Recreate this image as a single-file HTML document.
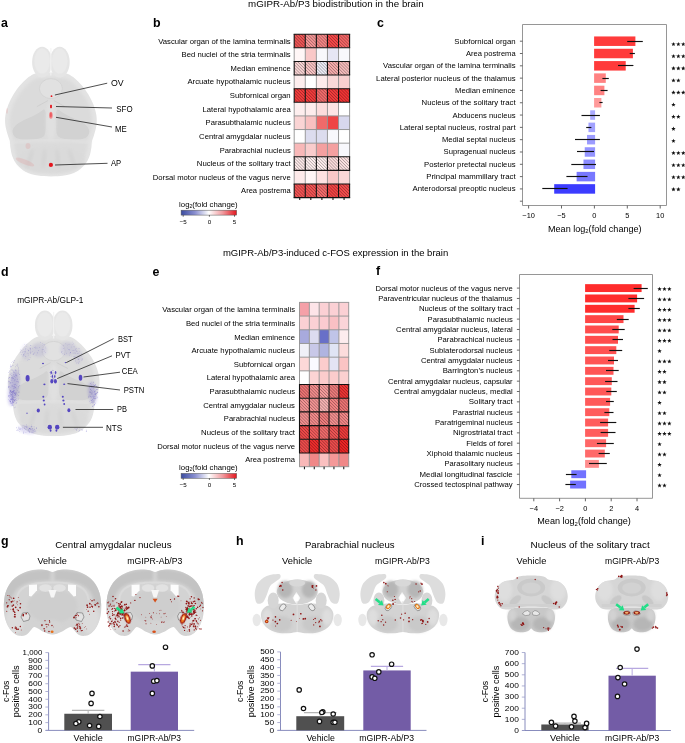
<!DOCTYPE html><html><head><meta charset="utf-8"><style>html,body{margin:0;padding:0;background:#fff;width:685px;height:743px;overflow:hidden}svg{display:block;will-change:transform}text{font-family:"Liberation Sans",sans-serif}</style></head><body><svg width="685" height="743" viewBox="0 0 685 743"><defs>
<pattern id="hatch" patternUnits="userSpaceOnUse" width="2.2" height="2.2" patternTransform="rotate(45)"><rect width="2.2" height="0.7" fill="rgba(0,0,0,0.32)"/></pattern>
<linearGradient id="cbar" x1="0" x2="1" y1="0" y2="0"><stop offset="0" stop-color="#3b4ca0"/><stop offset="0.25" stop-color="#8a8fd0"/><stop offset="0.5" stop-color="#ffffff"/><stop offset="0.75" stop-color="#f19a9e"/><stop offset="1" stop-color="#e3161e"/></linearGradient>
<filter id="blur1" x="-10%" y="-10%" width="120%" height="120%"><feGaussianBlur stdDeviation="0.7"/></filter>
<filter id="blur2" x="-20%" y="-20%" width="140%" height="140%"><feGaussianBlur stdDeviation="1.4"/></filter>
<filter id="blur05"><feGaussianBlur stdDeviation="0.35"/></filter>
</defs>
<text x="248.10" y="7.20" font-size="9.4" textLength="175.50" lengthAdjust="spacingAndGlyphs">mGIPR-Ab/P3 biodistribution in the brain</text>
<text x="222.90" y="255.90" font-size="9.4" textLength="225.40" lengthAdjust="spacingAndGlyphs">mGIPR-Ab/P3-induced c-FOS expression in the brain</text>
<text x="1.10" y="26.80" font-size="12.4" font-weight="bold" fill="#000">a</text>
<text x="153.10" y="26.90" font-size="12.4" font-weight="bold" fill="#000">b</text>
<text x="376.90" y="26.90" font-size="12.4" font-weight="bold" fill="#000">c</text>
<text x="1.10" y="275.50" font-size="12.4" font-weight="bold" fill="#000">d</text>
<text x="152.60" y="275.50" font-size="12.4" font-weight="bold" fill="#000">e</text>
<text x="376.00" y="274.60" font-size="12.4" font-weight="bold" fill="#000">f</text>
<text x="1.10" y="545.30" font-size="12.4" font-weight="bold" fill="#000">g</text>
<text x="236.10" y="545.10" font-size="12.4" font-weight="bold" fill="#000">h</text>
<text x="481.00" y="545.10" font-size="12.4" font-weight="bold" fill="#000">i</text>
<text x="290.70" y="43.60" font-size="8.1" text-anchor="end" textLength="132.50" lengthAdjust="spacingAndGlyphs">Vascular organ of the lamina terminalis</text>
<text x="290.70" y="57.22" font-size="8.1" text-anchor="end" textLength="109.10" lengthAdjust="spacingAndGlyphs">Bed nuclei of the stria terminalis</text>
<text x="290.70" y="70.84" font-size="8.1" text-anchor="end" textLength="60.10" lengthAdjust="spacingAndGlyphs">Median eminence</text>
<text x="290.70" y="84.46" font-size="8.1" text-anchor="end" textLength="103.30" lengthAdjust="spacingAndGlyphs">Arcuate hypothalamic nucleus</text>
<text x="290.70" y="98.08" font-size="8.1" text-anchor="end" textLength="61.00" lengthAdjust="spacingAndGlyphs">Subfornical organ</text>
<text x="290.70" y="111.70" font-size="8.1" text-anchor="end" textLength="88.10" lengthAdjust="spacingAndGlyphs">Lateral hypothalamic area</text>
<text x="290.70" y="125.32" font-size="8.1" text-anchor="end" textLength="85.10" lengthAdjust="spacingAndGlyphs">Parasubthalamic nucleus</text>
<text x="290.70" y="138.94" font-size="8.1" text-anchor="end" textLength="91.60" lengthAdjust="spacingAndGlyphs">Central amygdalar nucleus</text>
<text x="290.70" y="152.56" font-size="8.1" text-anchor="end" textLength="71.00" lengthAdjust="spacingAndGlyphs">Parabrachial nucleus</text>
<text x="290.70" y="166.18" font-size="8.1" text-anchor="end" textLength="93.90" lengthAdjust="spacingAndGlyphs">Nucleus of the solitary tract</text>
<text x="290.70" y="179.80" font-size="8.1" text-anchor="end" textLength="137.90" lengthAdjust="spacingAndGlyphs">Dorsal motor nucleus of the vagus nerve</text>
<text x="290.70" y="193.42" font-size="8.1" text-anchor="end" textLength="49.60" lengthAdjust="spacingAndGlyphs">Area postrema</text>
<rect x="294.20" y="34.20" width="11.08" height="13.62" fill="#ee5656"/>
<rect x="294.20" y="34.20" width="11.08" height="13.62" fill="url(#hatch)"/>
<rect x="305.28" y="34.20" width="11.08" height="13.62" fill="#f49696"/>
<rect x="305.28" y="34.20" width="11.08" height="13.62" fill="url(#hatch)"/>
<rect x="316.36" y="34.20" width="11.08" height="13.62" fill="#f48686"/>
<rect x="316.36" y="34.20" width="11.08" height="13.62" fill="url(#hatch)"/>
<rect x="327.44" y="34.20" width="11.08" height="13.62" fill="#f44848"/>
<rect x="327.44" y="34.20" width="11.08" height="13.62" fill="url(#hatch)"/>
<rect x="338.52" y="34.20" width="11.08" height="13.62" fill="#f46666"/>
<rect x="338.52" y="34.20" width="11.08" height="13.62" fill="url(#hatch)"/>
<rect x="294.20" y="47.82" width="11.08" height="13.62" fill="#fff6f6"/>
<rect x="305.28" y="47.82" width="11.08" height="13.62" fill="#f9c8c8"/>
<rect x="316.36" y="47.82" width="11.08" height="13.62" fill="#f8f8fc"/>
<rect x="327.44" y="47.82" width="11.08" height="13.62" fill="#e6e6f4"/>
<rect x="338.52" y="47.82" width="11.08" height="13.62" fill="#f8f8fc"/>
<rect x="294.20" y="61.44" width="11.08" height="13.62" fill="#f9d4d4"/>
<rect x="294.20" y="61.44" width="11.08" height="13.62" fill="url(#hatch)"/>
<rect x="305.28" y="61.44" width="11.08" height="13.62" fill="#f9c4c4"/>
<rect x="305.28" y="61.44" width="11.08" height="13.62" fill="url(#hatch)"/>
<rect x="316.36" y="61.44" width="11.08" height="13.62" fill="#eeeef8"/>
<rect x="316.36" y="61.44" width="11.08" height="13.62" fill="url(#hatch)"/>
<rect x="327.44" y="61.44" width="11.08" height="13.62" fill="#f6acac"/>
<rect x="327.44" y="61.44" width="11.08" height="13.62" fill="url(#hatch)"/>
<rect x="338.52" y="61.44" width="11.08" height="13.62" fill="#f6bcbc"/>
<rect x="338.52" y="61.44" width="11.08" height="13.62" fill="url(#hatch)"/>
<rect x="294.20" y="75.06" width="11.08" height="13.62" fill="#fdeeee"/>
<rect x="305.28" y="75.06" width="11.08" height="13.62" fill="#ffffff"/>
<rect x="316.36" y="75.06" width="11.08" height="13.62" fill="#fdecec"/>
<rect x="327.44" y="75.06" width="11.08" height="13.62" fill="#fad8d8"/>
<rect x="338.52" y="75.06" width="11.08" height="13.62" fill="#f9d0d0"/>
<rect x="294.20" y="88.68" width="11.08" height="13.62" fill="#f23c3c"/>
<rect x="294.20" y="88.68" width="11.08" height="13.62" fill="url(#hatch)"/>
<rect x="305.28" y="88.68" width="11.08" height="13.62" fill="#f23c3c"/>
<rect x="305.28" y="88.68" width="11.08" height="13.62" fill="url(#hatch)"/>
<rect x="316.36" y="88.68" width="11.08" height="13.62" fill="#f46c6c"/>
<rect x="316.36" y="88.68" width="11.08" height="13.62" fill="url(#hatch)"/>
<rect x="327.44" y="88.68" width="11.08" height="13.62" fill="#f23c3c"/>
<rect x="327.44" y="88.68" width="11.08" height="13.62" fill="url(#hatch)"/>
<rect x="338.52" y="88.68" width="11.08" height="13.62" fill="#f23434"/>
<rect x="338.52" y="88.68" width="11.08" height="13.62" fill="url(#hatch)"/>
<rect x="294.20" y="102.30" width="11.08" height="13.62" fill="#fdeeee"/>
<rect x="305.28" y="102.30" width="11.08" height="13.62" fill="#fdecec"/>
<rect x="316.36" y="102.30" width="11.08" height="13.62" fill="#fcdcdc"/>
<rect x="327.44" y="102.30" width="11.08" height="13.62" fill="#fde4e4"/>
<rect x="338.52" y="102.30" width="11.08" height="13.62" fill="#ffffff"/>
<rect x="294.20" y="115.92" width="11.08" height="13.62" fill="#fad4d4"/>
<rect x="305.28" y="115.92" width="11.08" height="13.62" fill="#f8c0c0"/>
<rect x="316.36" y="115.92" width="11.08" height="13.62" fill="#f06a6a"/>
<rect x="327.44" y="115.92" width="11.08" height="13.62" fill="#ee4444"/>
<rect x="338.52" y="115.92" width="11.08" height="13.62" fill="#d8d8ee"/>
<rect x="294.20" y="129.54" width="11.08" height="13.62" fill="#ffffff"/>
<rect x="305.28" y="129.54" width="11.08" height="13.62" fill="#dcdcee"/>
<rect x="316.36" y="129.54" width="11.08" height="13.62" fill="#dcdcee"/>
<rect x="327.44" y="129.54" width="11.08" height="13.62" fill="#f8f8fc"/>
<rect x="338.52" y="129.54" width="11.08" height="13.62" fill="#ffffff"/>
<rect x="294.20" y="143.16" width="11.08" height="13.62" fill="#f8b8b8"/>
<rect x="305.28" y="143.16" width="11.08" height="13.62" fill="#f9cccc"/>
<rect x="316.36" y="143.16" width="11.08" height="13.62" fill="#f4a0a0"/>
<rect x="327.44" y="143.16" width="11.08" height="13.62" fill="#f4a0a0"/>
<rect x="338.52" y="143.16" width="11.08" height="13.62" fill="#f8f8fc"/>
<rect x="294.20" y="156.78" width="11.08" height="13.62" fill="#feeaea"/>
<rect x="294.20" y="156.78" width="11.08" height="13.62" fill="url(#hatch)"/>
<rect x="305.28" y="156.78" width="11.08" height="13.62" fill="#fff0f0"/>
<rect x="305.28" y="156.78" width="11.08" height="13.62" fill="url(#hatch)"/>
<rect x="316.36" y="156.78" width="11.08" height="13.62" fill="#feeeee"/>
<rect x="316.36" y="156.78" width="11.08" height="13.62" fill="url(#hatch)"/>
<rect x="327.44" y="156.78" width="11.08" height="13.62" fill="#fcdcdc"/>
<rect x="327.44" y="156.78" width="11.08" height="13.62" fill="url(#hatch)"/>
<rect x="338.52" y="156.78" width="11.08" height="13.62" fill="#fce2e2"/>
<rect x="338.52" y="156.78" width="11.08" height="13.62" fill="url(#hatch)"/>
<rect x="294.20" y="170.40" width="11.08" height="13.62" fill="#fdeaea"/>
<rect x="305.28" y="170.40" width="11.08" height="13.62" fill="#fef6f6"/>
<rect x="316.36" y="170.40" width="11.08" height="13.62" fill="#fde2e2"/>
<rect x="327.44" y="170.40" width="11.08" height="13.62" fill="#f9c8c8"/>
<rect x="338.52" y="170.40" width="11.08" height="13.62" fill="#fbd8d8"/>
<rect x="294.20" y="184.02" width="11.08" height="13.62" fill="#f25454"/>
<rect x="294.20" y="184.02" width="11.08" height="13.62" fill="url(#hatch)"/>
<rect x="305.28" y="184.02" width="11.08" height="13.62" fill="#f25454"/>
<rect x="305.28" y="184.02" width="11.08" height="13.62" fill="url(#hatch)"/>
<rect x="316.36" y="184.02" width="11.08" height="13.62" fill="#f46c6c"/>
<rect x="316.36" y="184.02" width="11.08" height="13.62" fill="url(#hatch)"/>
<rect x="327.44" y="184.02" width="11.08" height="13.62" fill="#f24444"/>
<rect x="327.44" y="184.02" width="11.08" height="13.62" fill="url(#hatch)"/>
<rect x="338.52" y="184.02" width="11.08" height="13.62" fill="#f24c4c"/>
<rect x="338.52" y="184.02" width="11.08" height="13.62" fill="url(#hatch)"/>
<line x1="294.20" y1="34.20" x2="294.20" y2="47.82" stroke="#111" stroke-width="1.1"/>
<line x1="305.28" y1="34.20" x2="305.28" y2="47.82" stroke="#111" stroke-width="1.1"/>
<line x1="316.36" y1="34.20" x2="316.36" y2="47.82" stroke="#111" stroke-width="1.1"/>
<line x1="327.44" y1="34.20" x2="327.44" y2="47.82" stroke="#111" stroke-width="1.1"/>
<line x1="338.52" y1="34.20" x2="338.52" y2="47.82" stroke="#111" stroke-width="1.1"/>
<line x1="349.60" y1="34.20" x2="349.60" y2="47.82" stroke="#111" stroke-width="1.1"/>
<line x1="294.20" y1="47.82" x2="294.20" y2="61.44" stroke="#909090" stroke-width="0.9"/>
<line x1="305.28" y1="47.82" x2="305.28" y2="61.44" stroke="#909090" stroke-width="0.9"/>
<line x1="316.36" y1="47.82" x2="316.36" y2="61.44" stroke="#909090" stroke-width="0.9"/>
<line x1="327.44" y1="47.82" x2="327.44" y2="61.44" stroke="#909090" stroke-width="0.9"/>
<line x1="338.52" y1="47.82" x2="338.52" y2="61.44" stroke="#909090" stroke-width="0.9"/>
<line x1="349.60" y1="47.82" x2="349.60" y2="61.44" stroke="#909090" stroke-width="0.9"/>
<line x1="294.20" y1="61.44" x2="294.20" y2="75.06" stroke="#111" stroke-width="1.1"/>
<line x1="305.28" y1="61.44" x2="305.28" y2="75.06" stroke="#111" stroke-width="1.1"/>
<line x1="316.36" y1="61.44" x2="316.36" y2="75.06" stroke="#111" stroke-width="1.1"/>
<line x1="327.44" y1="61.44" x2="327.44" y2="75.06" stroke="#111" stroke-width="1.1"/>
<line x1="338.52" y1="61.44" x2="338.52" y2="75.06" stroke="#111" stroke-width="1.1"/>
<line x1="349.60" y1="61.44" x2="349.60" y2="75.06" stroke="#111" stroke-width="1.1"/>
<line x1="294.20" y1="75.06" x2="294.20" y2="88.68" stroke="#909090" stroke-width="0.9"/>
<line x1="305.28" y1="75.06" x2="305.28" y2="88.68" stroke="#909090" stroke-width="0.9"/>
<line x1="316.36" y1="75.06" x2="316.36" y2="88.68" stroke="#909090" stroke-width="0.9"/>
<line x1="327.44" y1="75.06" x2="327.44" y2="88.68" stroke="#909090" stroke-width="0.9"/>
<line x1="338.52" y1="75.06" x2="338.52" y2="88.68" stroke="#909090" stroke-width="0.9"/>
<line x1="349.60" y1="75.06" x2="349.60" y2="88.68" stroke="#909090" stroke-width="0.9"/>
<line x1="294.20" y1="88.68" x2="294.20" y2="102.30" stroke="#111" stroke-width="1.1"/>
<line x1="305.28" y1="88.68" x2="305.28" y2="102.30" stroke="#111" stroke-width="1.1"/>
<line x1="316.36" y1="88.68" x2="316.36" y2="102.30" stroke="#111" stroke-width="1.1"/>
<line x1="327.44" y1="88.68" x2="327.44" y2="102.30" stroke="#111" stroke-width="1.1"/>
<line x1="338.52" y1="88.68" x2="338.52" y2="102.30" stroke="#111" stroke-width="1.1"/>
<line x1="349.60" y1="88.68" x2="349.60" y2="102.30" stroke="#111" stroke-width="1.1"/>
<line x1="294.20" y1="102.30" x2="294.20" y2="115.92" stroke="#909090" stroke-width="0.9"/>
<line x1="305.28" y1="102.30" x2="305.28" y2="115.92" stroke="#909090" stroke-width="0.9"/>
<line x1="316.36" y1="102.30" x2="316.36" y2="115.92" stroke="#909090" stroke-width="0.9"/>
<line x1="327.44" y1="102.30" x2="327.44" y2="115.92" stroke="#909090" stroke-width="0.9"/>
<line x1="338.52" y1="102.30" x2="338.52" y2="115.92" stroke="#909090" stroke-width="0.9"/>
<line x1="349.60" y1="102.30" x2="349.60" y2="115.92" stroke="#909090" stroke-width="0.9"/>
<line x1="294.20" y1="115.92" x2="294.20" y2="129.54" stroke="#909090" stroke-width="0.9"/>
<line x1="305.28" y1="115.92" x2="305.28" y2="129.54" stroke="#909090" stroke-width="0.9"/>
<line x1="316.36" y1="115.92" x2="316.36" y2="129.54" stroke="#909090" stroke-width="0.9"/>
<line x1="327.44" y1="115.92" x2="327.44" y2="129.54" stroke="#909090" stroke-width="0.9"/>
<line x1="338.52" y1="115.92" x2="338.52" y2="129.54" stroke="#909090" stroke-width="0.9"/>
<line x1="349.60" y1="115.92" x2="349.60" y2="129.54" stroke="#909090" stroke-width="0.9"/>
<line x1="294.20" y1="129.54" x2="294.20" y2="143.16" stroke="#909090" stroke-width="0.9"/>
<line x1="305.28" y1="129.54" x2="305.28" y2="143.16" stroke="#909090" stroke-width="0.9"/>
<line x1="316.36" y1="129.54" x2="316.36" y2="143.16" stroke="#909090" stroke-width="0.9"/>
<line x1="327.44" y1="129.54" x2="327.44" y2="143.16" stroke="#909090" stroke-width="0.9"/>
<line x1="338.52" y1="129.54" x2="338.52" y2="143.16" stroke="#909090" stroke-width="0.9"/>
<line x1="349.60" y1="129.54" x2="349.60" y2="143.16" stroke="#909090" stroke-width="0.9"/>
<line x1="294.20" y1="143.16" x2="294.20" y2="156.78" stroke="#909090" stroke-width="0.9"/>
<line x1="305.28" y1="143.16" x2="305.28" y2="156.78" stroke="#909090" stroke-width="0.9"/>
<line x1="316.36" y1="143.16" x2="316.36" y2="156.78" stroke="#909090" stroke-width="0.9"/>
<line x1="327.44" y1="143.16" x2="327.44" y2="156.78" stroke="#909090" stroke-width="0.9"/>
<line x1="338.52" y1="143.16" x2="338.52" y2="156.78" stroke="#909090" stroke-width="0.9"/>
<line x1="349.60" y1="143.16" x2="349.60" y2="156.78" stroke="#909090" stroke-width="0.9"/>
<line x1="294.20" y1="156.78" x2="294.20" y2="170.40" stroke="#111" stroke-width="1.1"/>
<line x1="305.28" y1="156.78" x2="305.28" y2="170.40" stroke="#111" stroke-width="1.1"/>
<line x1="316.36" y1="156.78" x2="316.36" y2="170.40" stroke="#111" stroke-width="1.1"/>
<line x1="327.44" y1="156.78" x2="327.44" y2="170.40" stroke="#111" stroke-width="1.1"/>
<line x1="338.52" y1="156.78" x2="338.52" y2="170.40" stroke="#111" stroke-width="1.1"/>
<line x1="349.60" y1="156.78" x2="349.60" y2="170.40" stroke="#111" stroke-width="1.1"/>
<line x1="294.20" y1="170.40" x2="294.20" y2="184.02" stroke="#909090" stroke-width="0.9"/>
<line x1="305.28" y1="170.40" x2="305.28" y2="184.02" stroke="#909090" stroke-width="0.9"/>
<line x1="316.36" y1="170.40" x2="316.36" y2="184.02" stroke="#909090" stroke-width="0.9"/>
<line x1="327.44" y1="170.40" x2="327.44" y2="184.02" stroke="#909090" stroke-width="0.9"/>
<line x1="338.52" y1="170.40" x2="338.52" y2="184.02" stroke="#909090" stroke-width="0.9"/>
<line x1="349.60" y1="170.40" x2="349.60" y2="184.02" stroke="#909090" stroke-width="0.9"/>
<line x1="294.20" y1="184.02" x2="294.20" y2="197.64" stroke="#111" stroke-width="1.1"/>
<line x1="305.28" y1="184.02" x2="305.28" y2="197.64" stroke="#111" stroke-width="1.1"/>
<line x1="316.36" y1="184.02" x2="316.36" y2="197.64" stroke="#111" stroke-width="1.1"/>
<line x1="327.44" y1="184.02" x2="327.44" y2="197.64" stroke="#111" stroke-width="1.1"/>
<line x1="338.52" y1="184.02" x2="338.52" y2="197.64" stroke="#111" stroke-width="1.1"/>
<line x1="349.60" y1="184.02" x2="349.60" y2="197.64" stroke="#111" stroke-width="1.1"/>
<line x1="293.65" y1="34.20" x2="350.15" y2="34.20" stroke="#111" stroke-width="1.1"/>
<line x1="293.65" y1="47.82" x2="350.15" y2="47.82" stroke="#111" stroke-width="1.1"/>
<line x1="293.65" y1="61.44" x2="350.15" y2="61.44" stroke="#111" stroke-width="1.1"/>
<line x1="293.65" y1="75.06" x2="350.15" y2="75.06" stroke="#111" stroke-width="1.1"/>
<line x1="293.65" y1="88.68" x2="350.15" y2="88.68" stroke="#111" stroke-width="1.1"/>
<line x1="293.65" y1="102.30" x2="350.15" y2="102.30" stroke="#111" stroke-width="1.1"/>
<line x1="293.75" y1="115.92" x2="350.05" y2="115.92" stroke="#909090" stroke-width="0.9"/>
<line x1="293.75" y1="129.54" x2="350.05" y2="129.54" stroke="#909090" stroke-width="0.9"/>
<line x1="293.75" y1="143.16" x2="350.05" y2="143.16" stroke="#909090" stroke-width="0.9"/>
<line x1="293.65" y1="156.78" x2="350.15" y2="156.78" stroke="#111" stroke-width="1.1"/>
<line x1="293.65" y1="170.40" x2="350.15" y2="170.40" stroke="#111" stroke-width="1.1"/>
<line x1="293.65" y1="184.02" x2="350.15" y2="184.02" stroke="#111" stroke-width="1.1"/>
<line x1="293.65" y1="197.64" x2="350.15" y2="197.64" stroke="#111" stroke-width="1.1"/>
<line x1="299.74" y1="197.60" x2="299.74" y2="200.10" stroke="#111" stroke-width="1.05"/>
<line x1="310.82" y1="197.60" x2="310.82" y2="200.10" stroke="#111" stroke-width="1.05"/>
<line x1="321.90" y1="197.60" x2="321.90" y2="200.10" stroke="#111" stroke-width="1.05"/>
<line x1="332.98" y1="197.60" x2="332.98" y2="200.10" stroke="#111" stroke-width="1.05"/>
<line x1="344.06" y1="197.60" x2="344.06" y2="200.10" stroke="#111" stroke-width="1.05"/>
<text x="179.10" y="206.70" font-size="7.6" textLength="58.60" lengthAdjust="spacingAndGlyphs">log<tspan font-size="5" dy="1.5">2</tspan><tspan dy="-1.5">(fold change)</tspan></text>
<rect x="181.1" y="210.2" width="55.5" height="4.9" fill="url(#cbar)" stroke="#555" stroke-width="0.5"/>
<line x1="183.2" y1="215.1" x2="183.2" y2="216.7" stroke="#222" stroke-width="0.7"/>
<text x="183.20" y="224.20" font-size="6.2" text-anchor="middle">−5</text>
<line x1="209.4" y1="215.1" x2="209.4" y2="216.7" stroke="#222" stroke-width="0.7"/>
<text x="209.40" y="224.20" font-size="6.2" text-anchor="middle">0</text>
<line x1="234.5" y1="215.1" x2="234.5" y2="216.7" stroke="#222" stroke-width="0.7"/>
<text x="234.50" y="224.20" font-size="6.2" text-anchor="middle">5</text>
<text x="295.00" y="312.30" font-size="8.1" text-anchor="end" textLength="132.70" lengthAdjust="spacingAndGlyphs">Vascular organ of the lamina terminalis</text>
<text x="295.00" y="325.92" font-size="8.1" text-anchor="end" textLength="109.10" lengthAdjust="spacingAndGlyphs">Bed nuclei of the stria terminalis</text>
<text x="295.00" y="339.54" font-size="8.1" text-anchor="end" textLength="60.70" lengthAdjust="spacingAndGlyphs">Median eminence</text>
<text x="295.00" y="353.16" font-size="8.1" text-anchor="end" textLength="103.60" lengthAdjust="spacingAndGlyphs">Arcuate hypothalamic nucleus</text>
<text x="295.00" y="366.78" font-size="8.1" text-anchor="end" textLength="61.30" lengthAdjust="spacingAndGlyphs">Subfornical organ</text>
<text x="295.00" y="380.40" font-size="8.1" text-anchor="end" textLength="88.30" lengthAdjust="spacingAndGlyphs">Lateral hypothalamic area</text>
<text x="295.00" y="394.02" font-size="8.1" text-anchor="end" textLength="85.40" lengthAdjust="spacingAndGlyphs">Parasubthalamic nucleus</text>
<text x="295.00" y="407.64" font-size="8.1" text-anchor="end" textLength="91.80" lengthAdjust="spacingAndGlyphs">Central amygdalar nucleus</text>
<text x="295.00" y="421.26" font-size="8.1" text-anchor="end" textLength="71.20" lengthAdjust="spacingAndGlyphs">Parabrachial nucleus</text>
<text x="295.00" y="434.88" font-size="8.1" text-anchor="end" textLength="94.00" lengthAdjust="spacingAndGlyphs">Nucleus of the solitary tract</text>
<text x="295.00" y="448.50" font-size="8.1" text-anchor="end" textLength="137.80" lengthAdjust="spacingAndGlyphs">Dorsal motor nucleus of the vagus nerve</text>
<text x="295.00" y="462.12" font-size="8.1" text-anchor="end" textLength="49.80" lengthAdjust="spacingAndGlyphs">Area postrema</text>
<rect x="299.50" y="302.40" width="9.84" height="13.69" fill="#f5a0a8"/>
<rect x="309.34" y="302.40" width="9.84" height="13.69" fill="#fde4e8"/>
<rect x="319.18" y="302.40" width="9.84" height="13.69" fill="#fbd0d4"/>
<rect x="329.02" y="302.40" width="9.84" height="13.69" fill="#fbd0d4"/>
<rect x="338.86" y="302.40" width="9.84" height="13.69" fill="#fbd0d4"/>
<rect x="299.50" y="316.09" width="9.84" height="13.69" fill="#fbd0d4"/>
<rect x="309.34" y="316.09" width="9.84" height="13.69" fill="#fbd0d4"/>
<rect x="319.18" y="316.09" width="9.84" height="13.69" fill="#fbcbd0"/>
<rect x="329.02" y="316.09" width="9.84" height="13.69" fill="#f9c0c4"/>
<rect x="338.86" y="316.09" width="9.84" height="13.69" fill="#fbd4d8"/>
<rect x="299.50" y="329.78" width="9.84" height="13.69" fill="#a8aadd"/>
<rect x="309.34" y="329.78" width="9.84" height="13.69" fill="#dcdcf0"/>
<rect x="319.18" y="329.78" width="9.84" height="13.69" fill="#6870c8"/>
<rect x="329.02" y="329.78" width="9.84" height="13.69" fill="#c0c4e8"/>
<rect x="338.86" y="329.78" width="9.84" height="13.69" fill="#fdecee"/>
<rect x="299.50" y="343.47" width="9.84" height="13.69" fill="#f0f0f8"/>
<rect x="309.34" y="343.47" width="9.84" height="13.69" fill="#c8c8e8"/>
<rect x="319.18" y="343.47" width="9.84" height="13.69" fill="#b0b4e0"/>
<rect x="329.02" y="343.47" width="9.84" height="13.69" fill="#e0e4f4"/>
<rect x="338.86" y="343.47" width="9.84" height="13.69" fill="#fcdcdc"/>
<rect x="299.50" y="357.16" width="9.84" height="13.69" fill="#fcd8d8"/>
<rect x="309.34" y="357.16" width="9.84" height="13.69" fill="#fafaff"/>
<rect x="319.18" y="357.16" width="9.84" height="13.69" fill="#fccccc"/>
<rect x="329.02" y="357.16" width="9.84" height="13.69" fill="#e4e4f4"/>
<rect x="338.86" y="357.16" width="9.84" height="13.69" fill="#fbc4c4"/>
<rect x="299.50" y="370.85" width="9.84" height="13.69" fill="#ffffff"/>
<rect x="309.34" y="370.85" width="9.84" height="13.69" fill="#fcd4d4"/>
<rect x="319.18" y="370.85" width="9.84" height="13.69" fill="#fbcccc"/>
<rect x="329.02" y="370.85" width="9.84" height="13.69" fill="#fbcccc"/>
<rect x="338.86" y="370.85" width="9.84" height="13.69" fill="#fbd0d0"/>
<rect x="299.50" y="384.54" width="9.84" height="13.69" fill="#ee7474"/>
<rect x="299.50" y="384.54" width="9.84" height="13.69" fill="url(#hatch)"/>
<rect x="309.34" y="384.54" width="9.84" height="13.69" fill="#f28c8c"/>
<rect x="309.34" y="384.54" width="9.84" height="13.69" fill="url(#hatch)"/>
<rect x="319.18" y="384.54" width="9.84" height="13.69" fill="#f69c9c"/>
<rect x="319.18" y="384.54" width="9.84" height="13.69" fill="url(#hatch)"/>
<rect x="329.02" y="384.54" width="9.84" height="13.69" fill="#ee7c7c"/>
<rect x="329.02" y="384.54" width="9.84" height="13.69" fill="url(#hatch)"/>
<rect x="338.86" y="384.54" width="9.84" height="13.69" fill="#ee3434"/>
<rect x="338.86" y="384.54" width="9.84" height="13.69" fill="url(#hatch)"/>
<rect x="299.50" y="398.23" width="9.84" height="13.69" fill="#f49494"/>
<rect x="299.50" y="398.23" width="9.84" height="13.69" fill="url(#hatch)"/>
<rect x="309.34" y="398.23" width="9.84" height="13.69" fill="#f49494"/>
<rect x="309.34" y="398.23" width="9.84" height="13.69" fill="url(#hatch)"/>
<rect x="319.18" y="398.23" width="9.84" height="13.69" fill="#f8b4b4"/>
<rect x="319.18" y="398.23" width="9.84" height="13.69" fill="url(#hatch)"/>
<rect x="329.02" y="398.23" width="9.84" height="13.69" fill="#f28484"/>
<rect x="329.02" y="398.23" width="9.84" height="13.69" fill="url(#hatch)"/>
<rect x="338.86" y="398.23" width="9.84" height="13.69" fill="#ee7474"/>
<rect x="338.86" y="398.23" width="9.84" height="13.69" fill="url(#hatch)"/>
<rect x="299.50" y="411.92" width="9.84" height="13.69" fill="#f49090"/>
<rect x="299.50" y="411.92" width="9.84" height="13.69" fill="url(#hatch)"/>
<rect x="309.34" y="411.92" width="9.84" height="13.69" fill="#f48c8c"/>
<rect x="309.34" y="411.92" width="9.84" height="13.69" fill="url(#hatch)"/>
<rect x="319.18" y="411.92" width="9.84" height="13.69" fill="#ee7c7c"/>
<rect x="319.18" y="411.92" width="9.84" height="13.69" fill="url(#hatch)"/>
<rect x="329.02" y="411.92" width="9.84" height="13.69" fill="#f49090"/>
<rect x="329.02" y="411.92" width="9.84" height="13.69" fill="url(#hatch)"/>
<rect x="338.86" y="411.92" width="9.84" height="13.69" fill="#f48888"/>
<rect x="338.86" y="411.92" width="9.84" height="13.69" fill="url(#hatch)"/>
<rect x="299.50" y="425.61" width="9.84" height="13.69" fill="#ee4848"/>
<rect x="299.50" y="425.61" width="9.84" height="13.69" fill="url(#hatch)"/>
<rect x="309.34" y="425.61" width="9.84" height="13.69" fill="#f25c5c"/>
<rect x="309.34" y="425.61" width="9.84" height="13.69" fill="url(#hatch)"/>
<rect x="319.18" y="425.61" width="9.84" height="13.69" fill="#f26c6c"/>
<rect x="319.18" y="425.61" width="9.84" height="13.69" fill="url(#hatch)"/>
<rect x="329.02" y="425.61" width="9.84" height="13.69" fill="#ee5454"/>
<rect x="329.02" y="425.61" width="9.84" height="13.69" fill="url(#hatch)"/>
<rect x="338.86" y="425.61" width="9.84" height="13.69" fill="#ee3c3c"/>
<rect x="338.86" y="425.61" width="9.84" height="13.69" fill="url(#hatch)"/>
<rect x="299.50" y="439.30" width="9.84" height="13.69" fill="#ee4c4c"/>
<rect x="299.50" y="439.30" width="9.84" height="13.69" fill="url(#hatch)"/>
<rect x="309.34" y="439.30" width="9.84" height="13.69" fill="#ee2c2c"/>
<rect x="309.34" y="439.30" width="9.84" height="13.69" fill="url(#hatch)"/>
<rect x="319.18" y="439.30" width="9.84" height="13.69" fill="#ee4c4c"/>
<rect x="319.18" y="439.30" width="9.84" height="13.69" fill="url(#hatch)"/>
<rect x="329.02" y="439.30" width="9.84" height="13.69" fill="#ee4c4c"/>
<rect x="329.02" y="439.30" width="9.84" height="13.69" fill="url(#hatch)"/>
<rect x="338.86" y="439.30" width="9.84" height="13.69" fill="#ee2424"/>
<rect x="338.86" y="439.30" width="9.84" height="13.69" fill="url(#hatch)"/>
<rect x="299.50" y="452.99" width="9.84" height="13.69" fill="#f8b8b8"/>
<rect x="309.34" y="452.99" width="9.84" height="13.69" fill="#f08888"/>
<rect x="319.18" y="452.99" width="9.84" height="13.69" fill="#fac0c0"/>
<rect x="329.02" y="452.99" width="9.84" height="13.69" fill="#f49898"/>
<rect x="338.86" y="452.99" width="9.84" height="13.69" fill="#f08888"/>
<line x1="299.50" y1="302.40" x2="299.50" y2="316.09" stroke="#909090" stroke-width="0.9"/>
<line x1="309.34" y1="302.40" x2="309.34" y2="316.09" stroke="#909090" stroke-width="0.9"/>
<line x1="319.18" y1="302.40" x2="319.18" y2="316.09" stroke="#909090" stroke-width="0.9"/>
<line x1="329.02" y1="302.40" x2="329.02" y2="316.09" stroke="#909090" stroke-width="0.9"/>
<line x1="338.86" y1="302.40" x2="338.86" y2="316.09" stroke="#909090" stroke-width="0.9"/>
<line x1="348.70" y1="302.40" x2="348.70" y2="316.09" stroke="#909090" stroke-width="0.9"/>
<line x1="299.50" y1="316.09" x2="299.50" y2="329.78" stroke="#909090" stroke-width="0.9"/>
<line x1="309.34" y1="316.09" x2="309.34" y2="329.78" stroke="#909090" stroke-width="0.9"/>
<line x1="319.18" y1="316.09" x2="319.18" y2="329.78" stroke="#909090" stroke-width="0.9"/>
<line x1="329.02" y1="316.09" x2="329.02" y2="329.78" stroke="#909090" stroke-width="0.9"/>
<line x1="338.86" y1="316.09" x2="338.86" y2="329.78" stroke="#909090" stroke-width="0.9"/>
<line x1="348.70" y1="316.09" x2="348.70" y2="329.78" stroke="#909090" stroke-width="0.9"/>
<line x1="299.50" y1="329.78" x2="299.50" y2="343.47" stroke="#909090" stroke-width="0.9"/>
<line x1="309.34" y1="329.78" x2="309.34" y2="343.47" stroke="#909090" stroke-width="0.9"/>
<line x1="319.18" y1="329.78" x2="319.18" y2="343.47" stroke="#909090" stroke-width="0.9"/>
<line x1="329.02" y1="329.78" x2="329.02" y2="343.47" stroke="#909090" stroke-width="0.9"/>
<line x1="338.86" y1="329.78" x2="338.86" y2="343.47" stroke="#909090" stroke-width="0.9"/>
<line x1="348.70" y1="329.78" x2="348.70" y2="343.47" stroke="#909090" stroke-width="0.9"/>
<line x1="299.50" y1="343.47" x2="299.50" y2="357.16" stroke="#909090" stroke-width="0.9"/>
<line x1="309.34" y1="343.47" x2="309.34" y2="357.16" stroke="#909090" stroke-width="0.9"/>
<line x1="319.18" y1="343.47" x2="319.18" y2="357.16" stroke="#909090" stroke-width="0.9"/>
<line x1="329.02" y1="343.47" x2="329.02" y2="357.16" stroke="#909090" stroke-width="0.9"/>
<line x1="338.86" y1="343.47" x2="338.86" y2="357.16" stroke="#909090" stroke-width="0.9"/>
<line x1="348.70" y1="343.47" x2="348.70" y2="357.16" stroke="#909090" stroke-width="0.9"/>
<line x1="299.50" y1="357.16" x2="299.50" y2="370.85" stroke="#909090" stroke-width="0.9"/>
<line x1="309.34" y1="357.16" x2="309.34" y2="370.85" stroke="#909090" stroke-width="0.9"/>
<line x1="319.18" y1="357.16" x2="319.18" y2="370.85" stroke="#909090" stroke-width="0.9"/>
<line x1="329.02" y1="357.16" x2="329.02" y2="370.85" stroke="#909090" stroke-width="0.9"/>
<line x1="338.86" y1="357.16" x2="338.86" y2="370.85" stroke="#909090" stroke-width="0.9"/>
<line x1="348.70" y1="357.16" x2="348.70" y2="370.85" stroke="#909090" stroke-width="0.9"/>
<line x1="299.50" y1="370.85" x2="299.50" y2="384.54" stroke="#909090" stroke-width="0.9"/>
<line x1="309.34" y1="370.85" x2="309.34" y2="384.54" stroke="#909090" stroke-width="0.9"/>
<line x1="319.18" y1="370.85" x2="319.18" y2="384.54" stroke="#909090" stroke-width="0.9"/>
<line x1="329.02" y1="370.85" x2="329.02" y2="384.54" stroke="#909090" stroke-width="0.9"/>
<line x1="338.86" y1="370.85" x2="338.86" y2="384.54" stroke="#909090" stroke-width="0.9"/>
<line x1="348.70" y1="370.85" x2="348.70" y2="384.54" stroke="#909090" stroke-width="0.9"/>
<line x1="299.50" y1="384.54" x2="299.50" y2="398.23" stroke="#111" stroke-width="1.1"/>
<line x1="309.34" y1="384.54" x2="309.34" y2="398.23" stroke="#111" stroke-width="1.1"/>
<line x1="319.18" y1="384.54" x2="319.18" y2="398.23" stroke="#111" stroke-width="1.1"/>
<line x1="329.02" y1="384.54" x2="329.02" y2="398.23" stroke="#111" stroke-width="1.1"/>
<line x1="338.86" y1="384.54" x2="338.86" y2="398.23" stroke="#111" stroke-width="1.1"/>
<line x1="348.70" y1="384.54" x2="348.70" y2="398.23" stroke="#111" stroke-width="1.1"/>
<line x1="299.50" y1="398.23" x2="299.50" y2="411.92" stroke="#111" stroke-width="1.1"/>
<line x1="309.34" y1="398.23" x2="309.34" y2="411.92" stroke="#111" stroke-width="1.1"/>
<line x1="319.18" y1="398.23" x2="319.18" y2="411.92" stroke="#111" stroke-width="1.1"/>
<line x1="329.02" y1="398.23" x2="329.02" y2="411.92" stroke="#111" stroke-width="1.1"/>
<line x1="338.86" y1="398.23" x2="338.86" y2="411.92" stroke="#111" stroke-width="1.1"/>
<line x1="348.70" y1="398.23" x2="348.70" y2="411.92" stroke="#111" stroke-width="1.1"/>
<line x1="299.50" y1="411.92" x2="299.50" y2="425.61" stroke="#111" stroke-width="1.1"/>
<line x1="309.34" y1="411.92" x2="309.34" y2="425.61" stroke="#111" stroke-width="1.1"/>
<line x1="319.18" y1="411.92" x2="319.18" y2="425.61" stroke="#111" stroke-width="1.1"/>
<line x1="329.02" y1="411.92" x2="329.02" y2="425.61" stroke="#111" stroke-width="1.1"/>
<line x1="338.86" y1="411.92" x2="338.86" y2="425.61" stroke="#111" stroke-width="1.1"/>
<line x1="348.70" y1="411.92" x2="348.70" y2="425.61" stroke="#111" stroke-width="1.1"/>
<line x1="299.50" y1="425.61" x2="299.50" y2="439.30" stroke="#111" stroke-width="1.1"/>
<line x1="309.34" y1="425.61" x2="309.34" y2="439.30" stroke="#111" stroke-width="1.1"/>
<line x1="319.18" y1="425.61" x2="319.18" y2="439.30" stroke="#111" stroke-width="1.1"/>
<line x1="329.02" y1="425.61" x2="329.02" y2="439.30" stroke="#111" stroke-width="1.1"/>
<line x1="338.86" y1="425.61" x2="338.86" y2="439.30" stroke="#111" stroke-width="1.1"/>
<line x1="348.70" y1="425.61" x2="348.70" y2="439.30" stroke="#111" stroke-width="1.1"/>
<line x1="299.50" y1="439.30" x2="299.50" y2="452.99" stroke="#111" stroke-width="1.1"/>
<line x1="309.34" y1="439.30" x2="309.34" y2="452.99" stroke="#111" stroke-width="1.1"/>
<line x1="319.18" y1="439.30" x2="319.18" y2="452.99" stroke="#111" stroke-width="1.1"/>
<line x1="329.02" y1="439.30" x2="329.02" y2="452.99" stroke="#111" stroke-width="1.1"/>
<line x1="338.86" y1="439.30" x2="338.86" y2="452.99" stroke="#111" stroke-width="1.1"/>
<line x1="348.70" y1="439.30" x2="348.70" y2="452.99" stroke="#111" stroke-width="1.1"/>
<line x1="299.50" y1="452.99" x2="299.50" y2="466.68" stroke="#909090" stroke-width="0.9"/>
<line x1="309.34" y1="452.99" x2="309.34" y2="466.68" stroke="#909090" stroke-width="0.9"/>
<line x1="319.18" y1="452.99" x2="319.18" y2="466.68" stroke="#909090" stroke-width="0.9"/>
<line x1="329.02" y1="452.99" x2="329.02" y2="466.68" stroke="#909090" stroke-width="0.9"/>
<line x1="338.86" y1="452.99" x2="338.86" y2="466.68" stroke="#909090" stroke-width="0.9"/>
<line x1="348.70" y1="452.99" x2="348.70" y2="466.68" stroke="#909090" stroke-width="0.9"/>
<line x1="299.05" y1="302.40" x2="349.15" y2="302.40" stroke="#909090" stroke-width="0.9"/>
<line x1="299.05" y1="316.09" x2="349.15" y2="316.09" stroke="#909090" stroke-width="0.9"/>
<line x1="299.05" y1="329.78" x2="349.15" y2="329.78" stroke="#909090" stroke-width="0.9"/>
<line x1="299.05" y1="343.47" x2="349.15" y2="343.47" stroke="#909090" stroke-width="0.9"/>
<line x1="299.05" y1="357.16" x2="349.15" y2="357.16" stroke="#909090" stroke-width="0.9"/>
<line x1="299.05" y1="370.85" x2="349.15" y2="370.85" stroke="#909090" stroke-width="0.9"/>
<line x1="298.95" y1="384.54" x2="349.25" y2="384.54" stroke="#111" stroke-width="1.1"/>
<line x1="298.95" y1="398.23" x2="349.25" y2="398.23" stroke="#111" stroke-width="1.1"/>
<line x1="298.95" y1="411.92" x2="349.25" y2="411.92" stroke="#111" stroke-width="1.1"/>
<line x1="298.95" y1="425.61" x2="349.25" y2="425.61" stroke="#111" stroke-width="1.1"/>
<line x1="298.95" y1="439.30" x2="349.25" y2="439.30" stroke="#111" stroke-width="1.1"/>
<line x1="298.95" y1="452.99" x2="349.25" y2="452.99" stroke="#111" stroke-width="1.1"/>
<line x1="299.05" y1="466.68" x2="349.15" y2="466.68" stroke="#909090" stroke-width="0.9"/>
<line x1="304.42" y1="466.70" x2="304.42" y2="469.20" stroke="#111" stroke-width="1.05"/>
<line x1="314.26" y1="466.70" x2="314.26" y2="469.20" stroke="#111" stroke-width="1.05"/>
<line x1="324.10" y1="466.70" x2="324.10" y2="469.20" stroke="#111" stroke-width="1.05"/>
<line x1="333.94" y1="466.70" x2="333.94" y2="469.20" stroke="#111" stroke-width="1.05"/>
<line x1="343.78" y1="466.70" x2="343.78" y2="469.20" stroke="#111" stroke-width="1.05"/>
<g transform="translate(0,263.2)">
<text x="179.10" y="206.70" font-size="7.6" textLength="58.60" lengthAdjust="spacingAndGlyphs">log<tspan font-size="5" dy="1.5">2</tspan><tspan dy="-1.5">(fold change)</tspan></text>
<rect x="181.1" y="210.2" width="55.5" height="4.9" fill="url(#cbar)" stroke="#555" stroke-width="0.5"/>
<line x1="183.2" y1="215.1" x2="183.2" y2="216.7" stroke="#222" stroke-width="0.7"/>
<text x="183.20" y="224.20" font-size="6.2" text-anchor="middle">−5</text>
<line x1="209.4" y1="215.1" x2="209.4" y2="216.7" stroke="#222" stroke-width="0.7"/>
<text x="209.40" y="224.20" font-size="6.2" text-anchor="middle">0</text>
<line x1="234.5" y1="215.1" x2="234.5" y2="216.7" stroke="#222" stroke-width="0.7"/>
<text x="234.50" y="224.20" font-size="6.2" text-anchor="middle">5</text>
</g>
<path d="M522.5,24.5 H666.5 V205.5 H522.5 Z" fill="none" stroke="#8a8a8a" stroke-width="0.9"/>
<text x="515.60" y="43.70" font-size="7.9" text-anchor="end" textLength="61.30" lengthAdjust="spacingAndGlyphs">Subfornical organ</text>
<line x1="519.90" y1="41.20" x2="522.50" y2="41.20" stroke="#444" stroke-width="0.8"/>
<rect x="594.10" y="36.45" width="41.29" height="9.50" fill="#ff3b3b"/>
<line x1="627.20" y1="41.50" x2="642.80" y2="41.50" stroke="#111" stroke-width="1.15"/>
<polygon points="673.45,41.90 674.03,43.41 675.64,43.49 674.38,44.50 674.80,46.06 673.45,45.18 672.10,46.06 672.52,44.50 671.26,43.49 672.87,43.41" fill="#111"/>
<polygon points="678.35,41.90 678.93,43.41 680.54,43.49 679.28,44.50 679.70,46.06 678.35,45.18 677.00,46.06 677.42,44.50 676.16,43.49 677.77,43.41" fill="#111"/>
<polygon points="683.25,41.90 683.83,43.41 685.44,43.49 684.18,44.50 684.60,46.06 683.25,45.18 681.90,46.06 682.32,44.50 681.06,43.49 682.67,43.41" fill="#111"/>
<text x="515.60" y="56.01" font-size="7.9" text-anchor="end" textLength="49.60" lengthAdjust="spacingAndGlyphs">Area postrema</text>
<line x1="519.90" y1="53.51" x2="522.50" y2="53.51" stroke="#444" stroke-width="0.8"/>
<rect x="594.10" y="48.76" width="38.79" height="9.50" fill="#ff3b3b"/>
<line x1="629.70" y1="53.50" x2="634.90" y2="53.50" stroke="#111" stroke-width="1.15"/>
<polygon points="673.45,54.00 674.03,55.51 675.64,55.59 674.38,56.60 674.80,58.16 673.45,57.28 672.10,58.16 672.52,56.60 671.26,55.59 672.87,55.51" fill="#111"/>
<polygon points="678.35,54.00 678.93,55.51 680.54,55.59 679.28,56.60 679.70,58.16 678.35,57.28 677.00,58.16 677.42,56.60 676.16,55.59 677.77,55.51" fill="#111"/>
<polygon points="683.25,54.00 683.83,55.51 685.44,55.59 684.18,56.60 684.60,58.16 683.25,57.28 681.90,58.16 682.32,56.60 681.06,55.59 682.67,55.51" fill="#111"/>
<text x="515.60" y="68.32" font-size="7.9" text-anchor="end" textLength="132.50" lengthAdjust="spacingAndGlyphs">Vascular organ of the lamina terminalis</text>
<line x1="519.90" y1="65.82" x2="522.50" y2="65.82" stroke="#444" stroke-width="0.8"/>
<rect x="594.10" y="61.07" width="31.62" height="9.50" fill="#ff3b3b"/>
<line x1="618.00" y1="65.50" x2="633.40" y2="65.50" stroke="#111" stroke-width="1.15"/>
<polygon points="673.45,66.10 674.03,67.61 675.64,67.69 674.38,68.70 674.80,70.26 673.45,69.38 672.10,70.26 672.52,68.70 671.26,67.69 672.87,67.61" fill="#111"/>
<polygon points="678.35,66.10 678.93,67.61 680.54,67.69 679.28,68.70 679.70,70.26 678.35,69.38 677.00,70.26 677.42,68.70 676.16,67.69 677.77,67.61" fill="#111"/>
<polygon points="683.25,66.10 683.83,67.61 685.44,67.69 684.18,68.70 684.60,70.26 683.25,69.38 681.90,70.26 682.32,68.70 681.06,67.69 682.67,67.61" fill="#111"/>
<text x="515.60" y="80.63" font-size="7.9" text-anchor="end" textLength="139.50" lengthAdjust="spacingAndGlyphs">Lateral posterior nucleus of the thalamus</text>
<line x1="519.90" y1="78.13" x2="522.50" y2="78.13" stroke="#444" stroke-width="0.8"/>
<rect x="594.10" y="73.38" width="11.68" height="9.50" fill="#ff8282"/>
<line x1="602.40" y1="78.50" x2="608.80" y2="78.50" stroke="#111" stroke-width="1.15"/>
<polygon points="673.45,78.20 674.03,79.71 675.64,79.79 674.38,80.80 674.80,82.36 673.45,81.48 672.10,82.36 672.52,80.80 671.26,79.79 672.87,79.71" fill="#111"/>
<polygon points="678.35,78.20 678.93,79.71 680.54,79.79 679.28,80.80 679.70,82.36 678.35,81.48 677.00,82.36 677.42,80.80 676.16,79.79 677.77,79.71" fill="#111"/>
<text x="515.60" y="92.94" font-size="7.9" text-anchor="end" textLength="60.50" lengthAdjust="spacingAndGlyphs">Median eminence</text>
<line x1="519.90" y1="90.44" x2="522.50" y2="90.44" stroke="#444" stroke-width="0.8"/>
<rect x="594.10" y="85.69" width="10.30" height="9.50" fill="#ff8282"/>
<line x1="600.60" y1="90.50" x2="607.60" y2="90.50" stroke="#111" stroke-width="1.15"/>
<polygon points="673.45,90.30 674.03,91.81 675.64,91.89 674.38,92.90 674.80,94.46 673.45,93.58 672.10,94.46 672.52,92.90 671.26,91.89 672.87,91.81" fill="#111"/>
<polygon points="678.35,90.30 678.93,91.81 680.54,91.89 679.28,92.90 679.70,94.46 678.35,93.58 677.00,94.46 677.42,92.90 676.16,91.89 677.77,91.81" fill="#111"/>
<polygon points="683.25,90.30 683.83,91.81 685.44,91.89 684.18,92.90 684.60,94.46 683.25,93.58 681.90,94.46 682.32,92.90 681.06,91.89 682.67,91.81" fill="#111"/>
<text x="515.60" y="105.25" font-size="7.9" text-anchor="end" textLength="94.00" lengthAdjust="spacingAndGlyphs">Nucleus of the solitary tract</text>
<line x1="519.90" y1="102.75" x2="522.50" y2="102.75" stroke="#444" stroke-width="0.8"/>
<rect x="594.10" y="98.00" width="7.27" height="9.50" fill="#ff9a9a"/>
<line x1="599.40" y1="102.50" x2="602.60" y2="102.50" stroke="#111" stroke-width="1.15"/>
<polygon points="673.45,102.40 674.03,103.91 675.64,103.99 674.38,105.00 674.80,106.56 673.45,105.68 672.10,106.56 672.52,105.00 671.26,103.99 672.87,103.91" fill="#111"/>
<text x="515.60" y="117.56" font-size="7.9" text-anchor="end" textLength="63.00" lengthAdjust="spacingAndGlyphs">Abducens nucleus</text>
<line x1="519.90" y1="115.06" x2="522.50" y2="115.06" stroke="#444" stroke-width="0.8"/>
<rect x="590.19" y="110.31" width="4.91" height="9.50" fill="#ababff"/>
<line x1="581.50" y1="115.50" x2="599.90" y2="115.50" stroke="#111" stroke-width="1.15"/>
<polygon points="673.45,114.50 674.03,116.01 675.64,116.09 674.38,117.10 674.80,118.66 673.45,117.78 672.10,118.66 672.52,117.10 671.26,116.09 672.87,116.01" fill="#111"/>
<polygon points="678.35,114.50 678.93,116.01 680.54,116.09 679.28,117.10 679.70,118.66 678.35,117.78 677.00,118.66 677.42,117.10 676.16,116.09 677.77,116.01" fill="#111"/>
<text x="515.60" y="129.87" font-size="7.9" text-anchor="end" textLength="115.90" lengthAdjust="spacingAndGlyphs">Lateral septal nucleus, rostral part</text>
<line x1="519.90" y1="127.37" x2="522.50" y2="127.37" stroke="#444" stroke-width="0.8"/>
<rect x="588.48" y="122.62" width="6.62" height="9.50" fill="#a2a2ff"/>
<line x1="586.20" y1="127.50" x2="591.40" y2="127.50" stroke="#111" stroke-width="1.15"/>
<polygon points="673.45,126.60 674.03,128.11 675.64,128.19 674.38,129.20 674.80,130.76 673.45,129.88 672.10,130.76 672.52,129.20 671.26,128.19 672.87,128.11" fill="#111"/>
<text x="515.60" y="142.18" font-size="7.9" text-anchor="end" textLength="73.70" lengthAdjust="spacingAndGlyphs">Medial septal nucleus</text>
<line x1="519.90" y1="139.68" x2="522.50" y2="139.68" stroke="#444" stroke-width="0.8"/>
<rect x="587.03" y="134.93" width="8.07" height="9.50" fill="#9c9cff"/>
<line x1="575.00" y1="139.50" x2="599.90" y2="139.50" stroke="#111" stroke-width="1.15"/>
<polygon points="673.45,138.70 674.03,140.21 675.64,140.29 674.38,141.30 674.80,142.86 673.45,141.98 672.10,142.86 672.52,141.30 671.26,140.29 672.87,140.21" fill="#111"/>
<text x="515.60" y="154.49" font-size="7.9" text-anchor="end" textLength="72.00" lengthAdjust="spacingAndGlyphs">Supragenual nucleus</text>
<line x1="519.90" y1="151.99" x2="522.50" y2="151.99" stroke="#444" stroke-width="0.8"/>
<rect x="584.73" y="147.24" width="10.37" height="9.50" fill="#9494ff"/>
<line x1="577.00" y1="151.50" x2="594.00" y2="151.50" stroke="#111" stroke-width="1.15"/>
<polygon points="673.45,150.80 674.03,152.31 675.64,152.39 674.38,153.40 674.80,154.96 673.45,154.08 672.10,154.96 672.52,153.40 671.26,152.39 672.87,152.31" fill="#111"/>
<polygon points="678.35,150.80 678.93,152.31 680.54,152.39 679.28,153.40 679.70,154.96 678.35,154.08 677.00,154.96 677.42,153.40 676.16,152.39 677.77,152.31" fill="#111"/>
<polygon points="683.25,150.80 683.83,152.31 685.44,152.39 684.18,153.40 684.60,154.96 683.25,154.08 681.90,154.96 682.32,153.40 681.06,152.39 682.67,152.31" fill="#111"/>
<text x="515.60" y="166.80" font-size="7.9" text-anchor="end" textLength="91.60" lengthAdjust="spacingAndGlyphs">Posterior pretectal nucleus</text>
<line x1="519.90" y1="164.30" x2="522.50" y2="164.30" stroke="#444" stroke-width="0.8"/>
<rect x="583.48" y="159.55" width="11.62" height="9.50" fill="#8c8cff"/>
<line x1="571.30" y1="164.50" x2="596.00" y2="164.50" stroke="#111" stroke-width="1.15"/>
<polygon points="673.45,162.90 674.03,164.41 675.64,164.49 674.38,165.50 674.80,167.06 673.45,166.18 672.10,167.06 672.52,165.50 671.26,164.49 672.87,164.41" fill="#111"/>
<polygon points="678.35,162.90 678.93,164.41 680.54,164.49 679.28,165.50 679.70,167.06 678.35,166.18 677.00,167.06 677.42,165.50 676.16,164.49 677.77,164.41" fill="#111"/>
<polygon points="683.25,162.90 683.83,164.41 685.44,164.49 684.18,165.50 684.60,167.06 683.25,166.18 681.90,167.06 682.32,165.50 681.06,164.49 682.67,164.41" fill="#111"/>
<text x="515.60" y="179.11" font-size="7.9" text-anchor="end" textLength="89.30" lengthAdjust="spacingAndGlyphs">Principal mammillary tract</text>
<line x1="519.90" y1="176.61" x2="522.50" y2="176.61" stroke="#444" stroke-width="0.8"/>
<rect x="576.63" y="171.86" width="18.47" height="9.50" fill="#7878ff"/>
<line x1="566.40" y1="176.50" x2="587.50" y2="176.50" stroke="#111" stroke-width="1.15"/>
<polygon points="673.45,175.00 674.03,176.51 675.64,176.59 674.38,177.60 674.80,179.16 673.45,178.28 672.10,179.16 672.52,177.60 671.26,176.59 672.87,176.51" fill="#111"/>
<polygon points="678.35,175.00 678.93,176.51 680.54,176.59 679.28,177.60 679.70,179.16 678.35,178.28 677.00,179.16 677.42,177.60 676.16,176.59 677.77,176.51" fill="#111"/>
<polygon points="683.25,175.00 683.83,176.51 685.44,176.59 684.18,177.60 684.60,179.16 683.25,178.28 681.90,179.16 682.32,177.60 681.06,176.59 682.67,176.51" fill="#111"/>
<text x="515.60" y="191.42" font-size="7.9" text-anchor="end" textLength="103.00" lengthAdjust="spacingAndGlyphs">Anterodorsal preoptic nucleus</text>
<line x1="519.90" y1="188.92" x2="522.50" y2="188.92" stroke="#444" stroke-width="0.8"/>
<rect x="554.20" y="184.17" width="40.90" height="9.50" fill="#3c3cff"/>
<line x1="542.30" y1="188.50" x2="567.60" y2="188.50" stroke="#111" stroke-width="1.15"/>
<polygon points="673.45,187.10 674.03,188.61 675.64,188.69 674.38,189.70 674.80,191.26 673.45,190.38 672.10,191.26 672.52,189.70 671.26,188.69 672.87,188.61" fill="#111"/>
<polygon points="678.35,187.10 678.93,188.61 680.54,188.69 679.28,189.70 679.70,191.26 678.35,190.38 677.00,191.26 677.42,189.70 676.16,188.69 677.77,188.61" fill="#111"/>
<line x1="528.60" y1="205.50" x2="528.60" y2="208.50" stroke="#555" stroke-width="0.9"/>
<text x="528.60" y="217.80" font-size="7.4" text-anchor="middle">−10</text>
<line x1="561.50" y1="205.50" x2="561.50" y2="208.50" stroke="#555" stroke-width="0.9"/>
<text x="561.50" y="217.80" font-size="7.4" text-anchor="middle">−5</text>
<line x1="594.40" y1="205.50" x2="594.40" y2="208.50" stroke="#555" stroke-width="0.9"/>
<text x="594.40" y="217.80" font-size="7.4" text-anchor="middle">0</text>
<line x1="627.30" y1="205.50" x2="627.30" y2="208.50" stroke="#555" stroke-width="0.9"/>
<text x="627.30" y="217.80" font-size="7.4" text-anchor="middle">5</text>
<line x1="660.20" y1="205.50" x2="660.20" y2="208.50" stroke="#555" stroke-width="0.9"/>
<text x="660.20" y="217.80" font-size="7.4" text-anchor="middle">10</text>
<line x1="519.9" y1="201.2" x2="522.5" y2="201.2" stroke="#444" stroke-width="0.8"/>
<text x="548.00" y="231.60" font-size="8.6" textLength="93.60" lengthAdjust="spacingAndGlyphs">Mean log<tspan font-size="5.6" dy="1.8">2</tspan><tspan dy="-1.8">(fold change)</tspan></text>
<path d="M519.5,274.5 H652.5 V498.3 H519.5 Z" fill="none" stroke="#8a8a8a" stroke-width="0.9"/>
<text x="512.70" y="290.60" font-size="7.9" text-anchor="end" textLength="137.20" lengthAdjust="spacingAndGlyphs">Dorsal motor nucleus of the vagus nerve</text>
<line x1="516.90" y1="288.10" x2="519.50" y2="288.10" stroke="#444" stroke-width="0.8"/>
<rect x="585.10" y="284.15" width="56.50" height="7.90" fill="#ff2c2c"/>
<line x1="633.60" y1="288.50" x2="647.80" y2="288.50" stroke="#111" stroke-width="1.15"/>
<polygon points="659.55,286.80 660.13,288.31 661.74,288.39 660.48,289.40 660.90,290.96 659.55,290.08 658.20,290.96 658.62,289.40 657.36,288.39 658.97,288.31" fill="#111"/>
<polygon points="664.45,286.80 665.03,288.31 666.64,288.39 665.38,289.40 665.80,290.96 664.45,290.08 663.10,290.96 663.52,289.40 662.26,288.39 663.87,288.31" fill="#111"/>
<polygon points="669.35,286.80 669.93,288.31 671.54,288.39 670.28,289.40 670.70,290.96 669.35,290.08 668.00,290.96 668.42,289.40 667.16,288.39 668.77,288.31" fill="#111"/>
<text x="512.70" y="300.94" font-size="7.9" text-anchor="end" textLength="134.50" lengthAdjust="spacingAndGlyphs">Paraventricular nucleus of the thalamus</text>
<line x1="516.90" y1="298.44" x2="519.50" y2="298.44" stroke="#444" stroke-width="0.8"/>
<rect x="585.10" y="294.49" width="52.00" height="7.90" fill="#ff2c2c"/>
<line x1="628.40" y1="298.50" x2="644.10" y2="298.50" stroke="#111" stroke-width="1.15"/>
<polygon points="659.55,297.14 660.13,298.65 661.74,298.73 660.48,299.74 660.90,301.30 659.55,300.42 658.20,301.30 658.62,299.74 657.36,298.73 658.97,298.65" fill="#111"/>
<polygon points="664.45,297.14 665.03,298.65 666.64,298.73 665.38,299.74 665.80,301.30 664.45,300.42 663.10,301.30 663.52,299.74 662.26,298.73 663.87,298.65" fill="#111"/>
<polygon points="669.35,297.14 669.93,298.65 671.54,298.73 670.28,299.74 670.70,301.30 669.35,300.42 668.00,301.30 668.42,299.74 667.16,298.73 668.77,298.65" fill="#111"/>
<text x="512.70" y="311.28" font-size="7.9" text-anchor="end" textLength="93.80" lengthAdjust="spacingAndGlyphs">Nucleus of the solitary tract</text>
<line x1="516.90" y1="308.78" x2="519.50" y2="308.78" stroke="#444" stroke-width="0.8"/>
<rect x="585.10" y="304.83" width="49.50" height="7.90" fill="#ff2c2c"/>
<line x1="628.40" y1="308.50" x2="639.80" y2="308.50" stroke="#111" stroke-width="1.15"/>
<polygon points="659.55,307.48 660.13,308.99 661.74,309.07 660.48,310.08 660.90,311.64 659.55,310.76 658.20,311.64 658.62,310.08 657.36,309.07 658.97,308.99" fill="#111"/>
<polygon points="664.45,307.48 665.03,308.99 666.64,309.07 665.38,310.08 665.80,311.64 664.45,310.76 663.10,311.64 663.52,310.08 662.26,309.07 663.87,308.99" fill="#111"/>
<polygon points="669.35,307.48 669.93,308.99 671.54,309.07 670.28,310.08 670.70,311.64 669.35,310.76 668.00,311.64 668.42,310.08 667.16,309.07 668.77,308.99" fill="#111"/>
<text x="512.70" y="321.62" font-size="7.9" text-anchor="end" textLength="85.10" lengthAdjust="spacingAndGlyphs">Parasubthalamic nucleus</text>
<line x1="516.90" y1="319.12" x2="519.50" y2="319.12" stroke="#444" stroke-width="0.8"/>
<rect x="585.10" y="315.17" width="38.40" height="7.90" fill="#ff4646"/>
<line x1="616.80" y1="319.50" x2="628.70" y2="319.50" stroke="#111" stroke-width="1.15"/>
<polygon points="659.55,317.82 660.13,319.33 661.74,319.41 660.48,320.42 660.90,321.98 659.55,321.10 658.20,321.98 658.62,320.42 657.36,319.41 658.97,319.33" fill="#111"/>
<polygon points="664.45,317.82 665.03,319.33 666.64,319.41 665.38,320.42 665.80,321.98 664.45,321.10 663.10,321.98 663.52,320.42 662.26,319.41 663.87,319.33" fill="#111"/>
<polygon points="669.35,317.82 669.93,319.33 671.54,319.41 670.28,320.42 670.70,321.98 669.35,321.10 668.00,321.98 668.42,320.42 667.16,319.41 668.77,319.33" fill="#111"/>
<text x="512.70" y="331.96" font-size="7.9" text-anchor="end" textLength="116.60" lengthAdjust="spacingAndGlyphs">Central amygdalar nucleus, lateral</text>
<line x1="516.90" y1="329.46" x2="519.50" y2="329.46" stroke="#444" stroke-width="0.8"/>
<rect x="585.10" y="325.51" width="33.60" height="7.90" fill="#ff4c4c"/>
<line x1="612.30" y1="329.50" x2="624.70" y2="329.50" stroke="#111" stroke-width="1.15"/>
<polygon points="659.55,328.16 660.13,329.67 661.74,329.75 660.48,330.76 660.90,332.32 659.55,331.44 658.20,332.32 658.62,330.76 657.36,329.75 658.97,329.67" fill="#111"/>
<polygon points="664.45,328.16 665.03,329.67 666.64,329.75 665.38,330.76 665.80,332.32 664.45,331.44 663.10,332.32 663.52,330.76 662.26,329.75 663.87,329.67" fill="#111"/>
<polygon points="669.35,328.16 669.93,329.67 671.54,329.75 670.28,330.76 670.70,332.32 669.35,331.44 668.00,332.32 668.42,330.76 667.16,329.75 668.77,329.67" fill="#111"/>
<text x="512.70" y="342.30" font-size="7.9" text-anchor="end" textLength="75.20" lengthAdjust="spacingAndGlyphs">Parabrachical nucleus</text>
<line x1="516.90" y1="339.80" x2="519.50" y2="339.80" stroke="#444" stroke-width="0.8"/>
<rect x="585.10" y="335.85" width="32.90" height="7.90" fill="#ff4c4c"/>
<line x1="612.50" y1="339.50" x2="623.00" y2="339.50" stroke="#111" stroke-width="1.15"/>
<polygon points="659.55,338.50 660.13,340.01 661.74,340.09 660.48,341.10 660.90,342.66 659.55,341.78 658.20,342.66 658.62,341.10 657.36,340.09 658.97,340.01" fill="#111"/>
<polygon points="664.45,338.50 665.03,340.01 666.64,340.09 665.38,341.10 665.80,342.66 664.45,341.78 663.10,342.66 663.52,341.10 662.26,340.09 663.87,340.01" fill="#111"/>
<polygon points="669.35,338.50 669.93,340.01 671.54,340.09 670.28,341.10 670.70,342.66 669.35,341.78 668.00,342.66 668.42,341.10 667.16,340.09 668.77,340.01" fill="#111"/>
<text x="512.70" y="352.64" font-size="7.9" text-anchor="end" textLength="83.10" lengthAdjust="spacingAndGlyphs">Sublaterodorsal nucleus</text>
<line x1="516.90" y1="350.14" x2="519.50" y2="350.14" stroke="#444" stroke-width="0.8"/>
<rect x="585.10" y="346.19" width="31.20" height="7.90" fill="#ff5252"/>
<line x1="609.30" y1="350.50" x2="622.20" y2="350.50" stroke="#111" stroke-width="1.15"/>
<polygon points="659.55,348.84 660.13,350.35 661.74,350.43 660.48,351.44 660.90,353.00 659.55,352.12 658.20,353.00 658.62,351.44 657.36,350.43 658.97,350.35" fill="#111"/>
<text x="512.70" y="362.98" font-size="7.9" text-anchor="end" textLength="91.80" lengthAdjust="spacingAndGlyphs">Central amygdalar nucleus</text>
<line x1="516.90" y1="360.48" x2="519.50" y2="360.48" stroke="#444" stroke-width="0.8"/>
<rect x="585.10" y="356.53" width="28.90" height="7.90" fill="#ff5454"/>
<line x1="608.00" y1="360.50" x2="618.00" y2="360.50" stroke="#111" stroke-width="1.15"/>
<polygon points="659.55,359.18 660.13,360.69 661.74,360.77 660.48,361.78 660.90,363.34 659.55,362.46 658.20,363.34 658.62,361.78 657.36,360.77 658.97,360.69" fill="#111"/>
<polygon points="664.45,359.18 665.03,360.69 666.64,360.77 665.38,361.78 665.80,363.34 664.45,362.46 663.10,363.34 663.52,361.78 662.26,360.77 663.87,360.69" fill="#111"/>
<polygon points="669.35,359.18 669.93,360.69 671.54,360.77 670.28,361.78 670.70,363.34 669.35,362.46 668.00,363.34 668.42,361.78 667.16,360.77 668.77,360.69" fill="#111"/>
<text x="512.70" y="373.32" font-size="7.9" text-anchor="end" textLength="70.00" lengthAdjust="spacingAndGlyphs">Barrington’s nucleus</text>
<line x1="516.90" y1="370.82" x2="519.50" y2="370.82" stroke="#444" stroke-width="0.8"/>
<rect x="585.10" y="366.87" width="28.40" height="7.90" fill="#ff5454"/>
<line x1="606.00" y1="370.50" x2="618.70" y2="370.50" stroke="#111" stroke-width="1.15"/>
<polygon points="659.55,369.52 660.13,371.03 661.74,371.11 660.48,372.12 660.90,373.68 659.55,372.80 658.20,373.68 658.62,372.12 657.36,371.11 658.97,371.03" fill="#111"/>
<polygon points="664.45,369.52 665.03,371.03 666.64,371.11 665.38,372.12 665.80,373.68 664.45,372.80 663.10,373.68 663.52,372.12 662.26,371.11 663.87,371.03" fill="#111"/>
<text x="512.70" y="383.66" font-size="7.9" text-anchor="end" textLength="124.80" lengthAdjust="spacingAndGlyphs">Central amygdalar nucleus, capsular</text>
<line x1="516.90" y1="381.16" x2="519.50" y2="381.16" stroke="#444" stroke-width="0.8"/>
<rect x="585.10" y="377.21" width="26.70" height="7.90" fill="#ff5858"/>
<line x1="605.10" y1="381.50" x2="617.50" y2="381.50" stroke="#111" stroke-width="1.15"/>
<polygon points="659.55,379.86 660.13,381.37 661.74,381.45 660.48,382.46 660.90,384.02 659.55,383.14 658.20,384.02 658.62,382.46 657.36,381.45 658.97,381.37" fill="#111"/>
<polygon points="664.45,379.86 665.03,381.37 666.64,381.45 665.38,382.46 665.80,384.02 664.45,383.14 663.10,384.02 663.52,382.46 662.26,381.45 663.87,381.37" fill="#111"/>
<text x="512.70" y="394.00" font-size="7.9" text-anchor="end" textLength="118.60" lengthAdjust="spacingAndGlyphs">Central amygdalar nucleus, medial</text>
<line x1="516.90" y1="391.50" x2="519.50" y2="391.50" stroke="#444" stroke-width="0.8"/>
<rect x="585.10" y="387.55" width="26.20" height="7.90" fill="#ff5858"/>
<line x1="606.30" y1="391.50" x2="616.80" y2="391.50" stroke="#111" stroke-width="1.15"/>
<polygon points="659.55,390.20 660.13,391.71 661.74,391.79 660.48,392.80 660.90,394.36 659.55,393.48 658.20,394.36 658.62,392.80 657.36,391.79 658.97,391.71" fill="#111"/>
<polygon points="664.45,390.20 665.03,391.71 666.64,391.79 665.38,392.80 665.80,394.36 664.45,393.48 663.10,394.36 663.52,392.80 662.26,391.79 663.87,391.71" fill="#111"/>
<text x="512.70" y="404.34" font-size="7.9" text-anchor="end" textLength="43.90" lengthAdjust="spacingAndGlyphs">Solitary tract</text>
<line x1="516.90" y1="401.84" x2="519.50" y2="401.84" stroke="#444" stroke-width="0.8"/>
<rect x="585.10" y="397.89" width="25.00" height="7.90" fill="#ff5a5a"/>
<line x1="606.00" y1="401.50" x2="613.80" y2="401.50" stroke="#111" stroke-width="1.15"/>
<polygon points="659.55,400.54 660.13,402.05 661.74,402.13 660.48,403.14 660.90,404.70 659.55,403.82 658.20,404.70 658.62,403.14 657.36,402.13 658.97,402.05" fill="#111"/>
<text x="512.70" y="414.68" font-size="7.9" text-anchor="end" textLength="60.00" lengthAdjust="spacingAndGlyphs">Parastrial nucleus</text>
<line x1="516.90" y1="412.18" x2="519.50" y2="412.18" stroke="#444" stroke-width="0.8"/>
<rect x="585.10" y="408.23" width="24.20" height="7.90" fill="#ff5c5c"/>
<line x1="604.40" y1="412.50" x2="613.50" y2="412.50" stroke="#111" stroke-width="1.15"/>
<polygon points="659.55,410.88 660.13,412.39 661.74,412.47 660.48,413.48 660.90,415.04 659.55,414.16 658.20,415.04 658.62,413.48 657.36,412.47 658.97,412.39" fill="#111"/>
<polygon points="664.45,410.88 665.03,412.39 666.64,412.47 665.38,413.48 665.80,415.04 664.45,414.16 663.10,415.04 663.52,413.48 662.26,412.47 663.87,412.39" fill="#111"/>
<text x="512.70" y="425.02" font-size="7.9" text-anchor="end" textLength="77.70" lengthAdjust="spacingAndGlyphs">Paratrigeminal nucleus</text>
<line x1="516.90" y1="422.52" x2="519.50" y2="422.52" stroke="#444" stroke-width="0.8"/>
<rect x="585.10" y="418.57" width="23.00" height="7.90" fill="#ff5c5c"/>
<line x1="600.10" y1="422.50" x2="616.30" y2="422.50" stroke="#111" stroke-width="1.15"/>
<polygon points="659.55,421.22 660.13,422.73 661.74,422.81 660.48,423.82 660.90,425.38 659.55,424.50 658.20,425.38 658.62,423.82 657.36,422.81 658.97,422.73" fill="#111"/>
<polygon points="664.45,421.22 665.03,422.73 666.64,422.81 665.38,423.82 665.80,425.38 664.45,424.50 663.10,425.38 663.52,423.82 662.26,422.81 663.87,422.73" fill="#111"/>
<polygon points="669.35,421.22 669.93,422.73 671.54,422.81 670.28,423.82 670.70,425.38 669.35,424.50 668.00,425.38 668.42,423.82 667.16,422.81 668.77,422.73" fill="#111"/>
<text x="512.70" y="435.36" font-size="7.9" text-anchor="end" textLength="59.60" lengthAdjust="spacingAndGlyphs">Nigrostriatal tract</text>
<line x1="516.90" y1="432.86" x2="519.50" y2="432.86" stroke="#444" stroke-width="0.8"/>
<rect x="585.10" y="428.91" width="23.00" height="7.90" fill="#ff5e5e"/>
<line x1="600.60" y1="432.50" x2="615.50" y2="432.50" stroke="#111" stroke-width="1.15"/>
<polygon points="659.55,431.56 660.13,433.07 661.74,433.15 660.48,434.16 660.90,435.72 659.55,434.84 658.20,435.72 658.62,434.16 657.36,433.15 658.97,433.07" fill="#111"/>
<polygon points="664.45,431.56 665.03,433.07 666.64,433.15 665.38,434.16 665.80,435.72 664.45,434.84 663.10,435.72 663.52,434.16 662.26,433.15 663.87,433.07" fill="#111"/>
<polygon points="669.35,431.56 669.93,433.07 671.54,433.15 670.28,434.16 670.70,435.72 669.35,434.84 668.00,435.72 668.42,434.16 667.16,433.15 668.77,433.07" fill="#111"/>
<text x="512.70" y="445.70" font-size="7.9" text-anchor="end" textLength="46.40" lengthAdjust="spacingAndGlyphs">Fields of forel</text>
<line x1="516.90" y1="443.20" x2="519.50" y2="443.20" stroke="#444" stroke-width="0.8"/>
<rect x="585.10" y="439.25" width="21.00" height="7.90" fill="#ff6666"/>
<line x1="596.90" y1="443.50" x2="613.80" y2="443.50" stroke="#111" stroke-width="1.15"/>
<polygon points="659.55,441.90 660.13,443.41 661.74,443.49 660.48,444.50 660.90,446.06 659.55,445.18 658.20,446.06 658.62,444.50 657.36,443.49 658.97,443.41" fill="#111"/>
<text x="512.70" y="456.04" font-size="7.9" text-anchor="end" textLength="86.10" lengthAdjust="spacingAndGlyphs">Xiphoid thalamic nucleus</text>
<line x1="516.90" y1="453.54" x2="519.50" y2="453.54" stroke="#444" stroke-width="0.8"/>
<rect x="585.10" y="449.59" width="19.70" height="7.90" fill="#ff6a6a"/>
<line x1="598.60" y1="453.50" x2="609.80" y2="453.50" stroke="#111" stroke-width="1.15"/>
<polygon points="659.55,452.24 660.13,453.75 661.74,453.83 660.48,454.84 660.90,456.40 659.55,455.52 658.20,456.40 658.62,454.84 657.36,453.83 658.97,453.75" fill="#111"/>
<polygon points="664.45,452.24 665.03,453.75 666.64,453.83 665.38,454.84 665.80,456.40 664.45,455.52 663.10,456.40 663.52,454.84 662.26,453.83 663.87,453.75" fill="#111"/>
<text x="512.70" y="466.38" font-size="7.9" text-anchor="end" textLength="68.20" lengthAdjust="spacingAndGlyphs">Parasolitary nucleus</text>
<line x1="516.90" y1="463.88" x2="519.50" y2="463.88" stroke="#444" stroke-width="0.8"/>
<rect x="585.10" y="459.93" width="13.80" height="7.90" fill="#ff8c8c"/>
<line x1="589.00" y1="463.50" x2="606.80" y2="463.50" stroke="#111" stroke-width="1.15"/>
<polygon points="659.55,462.58 660.13,464.09 661.74,464.17 660.48,465.18 660.90,466.74 659.55,465.86 658.20,466.74 658.62,465.18 657.36,464.17 658.97,464.09" fill="#111"/>
<text x="512.70" y="476.72" font-size="7.9" text-anchor="end" textLength="93.10" lengthAdjust="spacingAndGlyphs">Medial longitudinal fascicle</text>
<line x1="516.90" y1="474.22" x2="519.50" y2="474.22" stroke="#444" stroke-width="0.8"/>
<rect x="571.30" y="470.27" width="14.80" height="7.90" fill="#7272ff"/>
<line x1="565.90" y1="474.50" x2="576.60" y2="474.50" stroke="#111" stroke-width="1.15"/>
<polygon points="659.55,472.92 660.13,474.43 661.74,474.51 660.48,475.52 660.90,477.08 659.55,476.20 658.20,477.08 658.62,475.52 657.36,474.51 658.97,474.43" fill="#111"/>
<text x="512.70" y="487.06" font-size="7.9" text-anchor="end" textLength="98.50" lengthAdjust="spacingAndGlyphs">Crossed tectospinal pathway</text>
<line x1="516.90" y1="484.56" x2="519.50" y2="484.56" stroke="#444" stroke-width="0.8"/>
<rect x="570.10" y="480.61" width="16.00" height="7.90" fill="#7272ff"/>
<line x1="565.40" y1="484.50" x2="575.80" y2="484.50" stroke="#111" stroke-width="1.15"/>
<polygon points="659.55,483.26 660.13,484.77 661.74,484.85 660.48,485.86 660.90,487.42 659.55,486.54 658.20,487.42 658.62,485.86 657.36,484.85 658.97,484.77" fill="#111"/>
<polygon points="664.45,483.26 665.03,484.77 666.64,484.85 665.38,485.86 665.80,487.42 664.45,486.54 663.10,487.42 663.52,485.86 662.26,484.85 663.87,484.77" fill="#111"/>
<line x1="533.80" y1="498.30" x2="533.80" y2="501.30" stroke="#555" stroke-width="0.9"/>
<text x="533.80" y="510.90" font-size="7.4" text-anchor="middle">−4</text>
<line x1="559.60" y1="498.30" x2="559.60" y2="501.30" stroke="#555" stroke-width="0.9"/>
<text x="559.60" y="510.90" font-size="7.4" text-anchor="middle">−2</text>
<line x1="585.40" y1="498.30" x2="585.40" y2="501.30" stroke="#555" stroke-width="0.9"/>
<text x="585.40" y="510.90" font-size="7.4" text-anchor="middle">0</text>
<line x1="611.20" y1="498.30" x2="611.20" y2="501.30" stroke="#555" stroke-width="0.9"/>
<text x="611.20" y="510.90" font-size="7.4" text-anchor="middle">2</text>
<line x1="637.00" y1="498.30" x2="637.00" y2="501.30" stroke="#555" stroke-width="0.9"/>
<text x="637.00" y="510.90" font-size="7.4" text-anchor="middle">4</text>
<text x="537.30" y="523.90" font-size="8.6" textLength="93.60" lengthAdjust="spacingAndGlyphs">Mean log<tspan font-size="5.6" dy="1.8">2</tspan><tspan dy="-1.8">(fold change)</tspan></text>
<g>
<path d="M50.90,72.60 C47.57,72.60 43.73,72.85 40.90,73.10 C38.07,73.35 36.23,73.18 33.90,74.10 C31.57,75.02 29.23,76.68 26.90,78.60 C24.57,80.52 22.15,82.93 19.90,85.60 C17.65,88.27 15.32,91.43 13.40,94.60 C11.48,97.77 9.73,101.10 8.40,104.60 C7.07,108.10 5.90,112.10 5.40,115.60 C4.90,119.10 4.98,122.27 5.40,125.60 C5.82,128.93 7.15,132.93 7.90,135.60 C8.65,138.27 9.48,139.60 9.90,141.60 C10.32,143.60 9.98,145.10 10.40,147.60 C10.82,150.10 11.32,153.77 12.40,156.60 C13.48,159.43 14.65,162.02 16.90,164.60 C19.15,167.18 22.40,170.27 25.90,172.10 C29.40,173.93 33.73,174.88 37.90,175.60 C42.07,176.32 46.57,176.40 50.90,176.40 C55.23,176.40 59.73,176.32 63.90,175.60 C68.07,174.88 72.40,173.93 75.90,172.10 C79.40,170.27 82.65,167.18 84.90,164.60 C87.15,162.02 88.32,159.43 89.40,156.60 C90.48,153.77 90.98,150.10 91.40,147.60 C91.82,145.10 91.48,143.60 91.90,141.60 C92.32,139.60 93.15,138.27 93.90,135.60 C94.65,132.93 95.98,128.93 96.40,125.60 C96.82,122.27 96.90,119.10 96.40,115.60 C95.90,112.10 94.73,108.10 93.40,104.60 C92.07,101.10 90.32,97.77 88.40,94.60 C86.48,91.43 84.15,88.27 81.90,85.60 C79.65,82.93 77.23,80.52 74.90,78.60 C72.57,76.68 70.23,75.02 67.90,74.10 C65.57,73.18 63.73,73.35 60.90,73.10 C58.07,72.85 54.23,72.60 50.90,72.60 Z" fill="#e3e3e3" filter="url(#blur1)"/>
<path d="M50.90,77.60 C47.57,77.60 43.57,77.85 40.90,78.10 C38.23,78.35 36.90,78.27 34.90,79.10 C32.90,79.93 30.90,81.35 28.90,83.10 C26.90,84.85 24.90,87.18 22.90,89.60 C20.90,92.02 18.65,94.77 16.90,97.60 C15.15,100.43 13.57,103.43 12.40,106.60 C11.23,109.77 10.32,113.43 9.90,116.60 C9.48,119.77 9.57,122.60 9.90,125.60 C10.23,128.60 11.23,132.10 11.90,134.60 C12.57,137.10 13.48,138.43 13.90,140.60 C14.32,142.77 13.98,145.10 14.40,147.60 C14.82,150.10 15.40,153.10 16.40,155.60 C17.40,158.10 18.48,160.43 20.40,162.60 C22.32,164.77 24.82,167.10 27.90,168.60 C30.98,170.10 35.07,170.97 38.90,171.60 C42.73,172.23 46.90,172.40 50.90,172.40 C54.90,172.40 59.07,172.23 62.90,171.60 C66.73,170.97 70.82,170.10 73.90,168.60 C76.98,167.10 79.48,164.77 81.40,162.60 C83.32,160.43 84.40,158.10 85.40,155.60 C86.40,153.10 86.98,150.10 87.40,147.60 C87.82,145.10 87.48,142.77 87.90,140.60 C88.32,138.43 89.23,137.10 89.90,134.60 C90.57,132.10 91.57,128.60 91.90,125.60 C92.23,122.60 92.32,119.77 91.90,116.60 C91.48,113.43 90.57,109.77 89.40,106.60 C88.23,103.43 86.65,100.43 84.90,97.60 C83.15,94.77 80.90,92.02 78.90,89.60 C76.90,87.18 74.90,84.85 72.90,83.10 C70.90,81.35 68.90,79.93 66.90,79.10 C64.90,78.27 63.57,78.35 60.90,78.10 C58.23,77.85 54.23,77.60 50.90,77.60 Z" fill="#dbdbdb" filter="url(#blur2)"/>
<path d="M44.00,109.50 C43.00,109.17 41.83,110.92 40.00,112.00 C38.17,113.08 35.67,114.67 33.00,116.00 C30.33,117.33 26.83,118.50 24.00,120.00 C21.17,121.50 17.92,123.17 16.00,125.00 C14.08,126.83 12.67,129.00 12.50,131.00 C12.33,133.00 13.42,135.58 15.00,137.00 C16.58,138.42 19.17,139.08 22.00,139.50 C24.83,139.92 28.83,139.75 32.00,139.50 C35.17,139.25 38.83,138.92 41.00,138.00 C43.17,137.08 44.17,136.33 45.00,134.00 C45.83,131.67 45.83,127.33 46.00,124.00 C46.17,120.67 46.33,116.42 46.00,114.00 C45.67,111.58 45.00,109.83 44.00,109.50 Z" fill="#d2d2d2" filter="url(#blur1)"/>
<path d="M57.80,109.50 C58.80,109.17 59.97,110.92 61.80,112.00 C63.63,113.08 66.13,114.67 68.80,116.00 C71.47,117.33 74.97,118.50 77.80,120.00 C80.63,121.50 83.88,123.17 85.80,125.00 C87.72,126.83 89.13,129.00 89.30,131.00 C89.47,133.00 88.38,135.58 86.80,137.00 C85.22,138.42 82.63,139.08 79.80,139.50 C76.97,139.92 72.97,139.75 69.80,139.50 C66.63,139.25 62.97,138.92 60.80,138.00 C58.63,137.08 57.63,136.33 56.80,134.00 C55.97,131.67 55.97,127.33 55.80,124.00 C55.63,120.67 55.47,116.42 55.80,114.00 C56.13,111.58 56.80,109.83 57.80,109.50 Z" fill="#d2d2d2" filter="url(#blur1)"/>
<ellipse cx="50.90" cy="121.60" rx="5" ry="20.00" fill="#e0e0e0" filter="url(#blur2)"/>
<ellipse cx="50.90" cy="159.60" rx="34" ry="14.00" fill="#dadada" filter="url(#blur2)"/>
<ellipse cx="29.90" cy="158.60" rx="2.2" ry="10.00" fill="#d4d4d4" filter="url(#blur2)" transform="rotate(18 29.90 158.60)"/>
<ellipse cx="43.90" cy="158.60" rx="2.2" ry="10.00" fill="#d4d4d4" filter="url(#blur2)" transform="rotate(6 43.90 158.60)"/>
<ellipse cx="57.90" cy="158.60" rx="2.2" ry="10.00" fill="#d4d4d4" filter="url(#blur2)" transform="rotate(-6 57.90 158.60)"/>
<ellipse cx="71.90" cy="158.60" rx="2.2" ry="10.00" fill="#d4d4d4" filter="url(#blur2)" transform="rotate(-18 71.90 158.60)"/>
<path d="M10.90,142.60 Q50.90,137.60 90.90,142.60" stroke="#e2e2e2" stroke-width="2.5" fill="none" filter="url(#blur2)"/>
<ellipse cx="50.90" cy="88.60" rx="11.5" ry="10.00" fill="#e1e1e1" stroke="#d2d2d2" stroke-width="0.8" filter="url(#blur1)"/>
<path d="M36.90,106.60 L47.90,100.60 M64.90,106.60 L53.90,100.60" stroke="#cccccc" stroke-width="0.8" fill="none" filter="url(#blur05)"/>
<ellipse cx="42.10" cy="62.10" rx="10" ry="15.40" fill="#e5e5e5" filter="url(#blur1)"/>
<ellipse cx="59.70" cy="62.10" rx="10" ry="15.40" fill="#e5e5e5" filter="url(#blur1)"/>
<ellipse cx="42.10" cy="61.10" rx="7.8" ry="12.50" fill="#eaeaea" filter="url(#blur1)"/>
<ellipse cx="59.70" cy="61.10" rx="7.8" ry="12.50" fill="#eaeaea" filter="url(#blur1)"/>
<line x1="50.90" y1="48.10" x2="50.90" y2="75.60" stroke="#f3f3f3" stroke-width="1"/>
</g>
<circle cx="51.5" cy="96.2" r="0.9" fill="#e8141c"/>
<rect x="50.1" y="104.8" width="1.8" height="3.4" rx="0.6" fill="#e4141c"/>
<ellipse cx="50.9" cy="115.2" rx="1.8" ry="3.5" fill="#f08a8c"/>
<ellipse cx="50.9" cy="115.0" rx="1.0" ry="2.4" fill="#ec5a60"/>
<circle cx="50.9" cy="164.9" r="2.1" fill="#e4141c"/>
<g opacity="0.12" fill="#e85050" filter="url(#blur1)"><ellipse cx="28" cy="146" rx="2.5" ry="3"/><ellipse cx="25" cy="162" rx="10" ry="2.5" transform="rotate(22 25 162)"/><ellipse cx="7" cy="111" rx="1" ry="3"/></g>
<line x1="54.9" y1="95.0" x2="107.2" y2="83.2" stroke="#222" stroke-width="0.8"/>
<line x1="56.0" y1="106.5" x2="112.0" y2="108.0" stroke="#222" stroke-width="0.8"/>
<line x1="56.0" y1="117.3" x2="112.0" y2="127.0" stroke="#222" stroke-width="0.8"/>
<line x1="55.0" y1="165.0" x2="107.5" y2="163.3" stroke="#222" stroke-width="0.8"/>
<text x="110.90" y="86.20" font-size="8.7" textLength="12.70" lengthAdjust="spacingAndGlyphs">OV</text>
<text x="116.30" y="111.50" font-size="8.7" textLength="16.30" lengthAdjust="spacingAndGlyphs">SFO</text>
<text x="115.10" y="131.60" font-size="8.7" textLength="11.70" lengthAdjust="spacingAndGlyphs">ME</text>
<text x="110.90" y="166.20" font-size="8.7" textLength="10.20" lengthAdjust="spacingAndGlyphs">AP</text>
<g>
<path d="M53.70,335.57 C50.37,335.57 46.53,335.81 43.70,336.05 C40.87,336.29 39.03,336.13 36.70,337.02 C34.37,337.91 32.03,339.52 29.70,341.38 C27.37,343.23 24.95,345.57 22.70,348.15 C20.45,350.73 18.12,353.80 16.20,356.86 C14.28,359.93 12.53,363.16 11.20,366.54 C9.87,369.93 8.70,373.80 8.20,377.19 C7.70,380.58 7.78,383.65 8.20,386.87 C8.62,390.10 9.95,393.97 10.70,396.55 C11.45,399.13 12.28,400.42 12.70,402.36 C13.12,404.30 12.78,405.75 13.20,408.17 C13.62,410.59 14.12,414.14 15.20,416.88 C16.28,419.62 17.45,422.12 19.70,424.62 C21.95,427.12 25.20,430.11 28.70,431.88 C32.20,433.66 36.53,434.58 40.70,435.27 C44.87,435.97 49.37,436.05 53.70,436.05 C58.03,436.05 62.53,435.97 66.70,435.27 C70.87,434.58 75.20,433.66 78.70,431.88 C82.20,430.11 85.45,427.12 87.70,424.62 C89.95,422.12 91.12,419.62 92.20,416.88 C93.28,414.14 93.78,410.59 94.20,408.17 C94.62,405.75 94.28,404.30 94.70,402.36 C95.12,400.42 95.95,399.13 96.70,396.55 C97.45,393.97 98.78,390.10 99.20,386.87 C99.62,383.65 99.70,380.58 99.20,377.19 C98.70,373.80 97.53,369.93 96.20,366.54 C94.87,363.16 93.12,359.93 91.20,356.86 C89.28,353.80 86.95,350.73 84.70,348.15 C82.45,345.57 80.03,343.23 77.70,341.38 C75.37,339.52 73.03,337.91 70.70,337.02 C68.37,336.13 66.53,336.29 63.70,336.05 C60.87,335.81 57.03,335.57 53.70,335.57 Z" fill="#e3e3e3" filter="url(#blur1)"/>
<path d="M53.70,340.41 C50.37,340.41 46.37,340.65 43.70,340.89 C41.03,341.13 39.70,341.05 37.70,341.86 C35.70,342.67 33.70,344.04 31.70,345.73 C29.70,347.43 27.70,349.68 25.70,352.02 C23.70,354.36 21.45,357.03 19.70,359.77 C17.95,362.51 16.37,365.41 15.20,368.48 C14.03,371.55 13.12,375.09 12.70,378.16 C12.28,381.23 12.37,383.97 12.70,386.87 C13.03,389.78 14.03,393.16 14.70,395.58 C15.37,398.00 16.28,399.29 16.70,401.39 C17.12,403.49 16.78,405.75 17.20,408.17 C17.62,410.59 18.20,413.49 19.20,415.91 C20.20,418.33 21.28,420.59 23.20,422.69 C25.12,424.79 27.62,427.04 30.70,428.50 C33.78,429.95 37.87,430.79 41.70,431.40 C45.53,432.01 49.70,432.17 53.70,432.17 C57.70,432.17 61.87,432.01 65.70,431.40 C69.53,430.79 73.62,429.95 76.70,428.50 C79.78,427.04 82.28,424.79 84.20,422.69 C86.12,420.59 87.20,418.33 88.20,415.91 C89.20,413.49 89.78,410.59 90.20,408.17 C90.62,405.75 90.28,403.49 90.70,401.39 C91.12,399.29 92.03,398.00 92.70,395.58 C93.37,393.16 94.37,389.78 94.70,386.87 C95.03,383.97 95.12,381.23 94.70,378.16 C94.28,375.09 93.37,371.55 92.20,368.48 C91.03,365.41 89.45,362.51 87.70,359.77 C85.95,357.03 83.70,354.36 81.70,352.02 C79.70,349.68 77.70,347.43 75.70,345.73 C73.70,344.04 71.70,342.67 69.70,341.86 C67.70,341.05 66.37,341.13 63.70,340.89 C61.03,340.65 57.03,340.41 53.70,340.41 Z" fill="#dbdbdb" filter="url(#blur2)"/>
<path d="M46.80,371.29 C45.80,370.96 44.63,372.66 42.80,373.71 C40.97,374.76 38.47,376.29 35.80,377.58 C33.13,378.87 29.63,380.00 26.80,381.45 C23.97,382.90 20.72,384.52 18.80,386.29 C16.88,388.07 15.47,390.16 15.30,392.10 C15.13,394.04 16.22,396.54 17.80,397.91 C19.38,399.28 21.97,399.92 24.80,400.33 C27.63,400.73 31.63,400.57 34.80,400.33 C37.97,400.09 41.63,399.76 43.80,398.88 C45.97,397.99 46.97,397.26 47.80,395.00 C48.63,392.74 48.63,388.55 48.80,385.32 C48.97,382.10 49.13,377.98 48.80,375.64 C48.47,373.30 47.80,371.61 46.80,371.29 Z" fill="#d2d2d2" filter="url(#blur1)"/>
<path d="M60.60,371.29 C61.60,370.96 62.77,372.66 64.60,373.71 C66.43,374.76 68.93,376.29 71.60,377.58 C74.27,378.87 77.77,380.00 80.60,381.45 C83.43,382.90 86.68,384.52 88.60,386.29 C90.52,388.07 91.93,390.16 92.10,392.10 C92.27,394.04 91.18,396.54 89.60,397.91 C88.02,399.28 85.43,399.92 82.60,400.33 C79.77,400.73 75.77,400.57 72.60,400.33 C69.43,400.09 65.77,399.76 63.60,398.88 C61.43,397.99 60.43,397.26 59.60,395.00 C58.77,392.74 58.77,388.55 58.60,385.32 C58.43,382.10 58.27,377.98 58.60,375.64 C58.93,373.30 59.60,371.61 60.60,371.29 Z" fill="#d2d2d2" filter="url(#blur1)"/>
<ellipse cx="53.70" cy="383.00" rx="5" ry="19.36" fill="#e0e0e0" filter="url(#blur2)"/>
<ellipse cx="53.70" cy="419.78" rx="34" ry="13.55" fill="#dadada" filter="url(#blur2)"/>
<ellipse cx="32.70" cy="418.82" rx="2.2" ry="9.68" fill="#d4d4d4" filter="url(#blur2)" transform="rotate(18 32.70 418.82)"/>
<ellipse cx="46.70" cy="418.82" rx="2.2" ry="9.68" fill="#d4d4d4" filter="url(#blur2)" transform="rotate(6 46.70 418.82)"/>
<ellipse cx="60.70" cy="418.82" rx="2.2" ry="9.68" fill="#d4d4d4" filter="url(#blur2)" transform="rotate(-6 60.70 418.82)"/>
<ellipse cx="74.70" cy="418.82" rx="2.2" ry="9.68" fill="#d4d4d4" filter="url(#blur2)" transform="rotate(-18 74.70 418.82)"/>
<path d="M13.70,403.33 Q53.70,398.49 93.70,403.33" stroke="#e2e2e2" stroke-width="2.5" fill="none" filter="url(#blur2)"/>
<ellipse cx="53.70" cy="351.06" rx="11.5" ry="9.68" fill="#e1e1e1" stroke="#d2d2d2" stroke-width="0.8" filter="url(#blur1)"/>
<path d="M39.70,368.48 L50.70,362.67 M67.70,368.48 L56.70,362.67" stroke="#cccccc" stroke-width="0.8" fill="none" filter="url(#blur05)"/>
<ellipse cx="44.90" cy="325.40" rx="10" ry="14.91" fill="#e5e5e5" filter="url(#blur1)"/>
<ellipse cx="62.50" cy="325.40" rx="10" ry="14.91" fill="#e5e5e5" filter="url(#blur1)"/>
<ellipse cx="44.90" cy="324.44" rx="7.8" ry="12.10" fill="#eaeaea" filter="url(#blur1)"/>
<ellipse cx="62.50" cy="324.44" rx="7.8" ry="12.10" fill="#eaeaea" filter="url(#blur1)"/>
<line x1="53.70" y1="311.90" x2="53.70" y2="338.47" stroke="#f3f3f3" stroke-width="1"/>
</g>
<text x="17.20" y="303.20" font-size="8.6" textLength="66.30" lengthAdjust="spacingAndGlyphs">mGIPR-Ab/GLP-1</text>
<ellipse cx="13.5" cy="388" rx="5" ry="18" fill="#5546c0" opacity="0.26" filter="url(#blur2)" transform="rotate(8 13.5 388)"/>
<ellipse cx="92.5" cy="393" rx="4" ry="11" fill="#5546c0" opacity="0.25" filter="url(#blur2)" transform="rotate(-8 92.5 393)"/>
<ellipse cx="39" cy="350" rx="8" ry="7" fill="#5546c0" opacity="0.1" filter="url(#blur2)" transform="rotate(0 39 350)"/>
<ellipse cx="68" cy="349" rx="8" ry="7" fill="#5546c0" opacity="0.1" filter="url(#blur2)" transform="rotate(0 68 349)"/>
<ellipse cx="27" cy="430" rx="9" ry="3.5" fill="#5546c0" opacity="0.18" filter="url(#blur2)" transform="rotate(12 27 430)"/>
<circle cx="14.34" cy="400.61" r="0.29" fill="#5546c0" opacity="0.55"/>
<circle cx="10.10" cy="373.00" r="0.22" fill="#5546c0" opacity="0.55"/>
<circle cx="19.82" cy="385.78" r="0.26" fill="#5546c0" opacity="0.55"/>
<circle cx="14.64" cy="407.82" r="0.32" fill="#5546c0" opacity="0.55"/>
<circle cx="16.15" cy="370.83" r="0.36" fill="#5546c0" opacity="0.55"/>
<circle cx="16.89" cy="398.82" r="0.42" fill="#5546c0" opacity="0.55"/>
<circle cx="8.63" cy="381.09" r="0.37" fill="#5546c0" opacity="0.55"/>
<circle cx="19.07" cy="391.96" r="0.35" fill="#5546c0" opacity="0.55"/>
<circle cx="13.74" cy="386.83" r="0.42" fill="#5546c0" opacity="0.55"/>
<circle cx="8.75" cy="387.36" r="0.42" fill="#5546c0" opacity="0.55"/>
<circle cx="12.62" cy="361.73" r="0.30" fill="#5546c0" opacity="0.55"/>
<circle cx="15.26" cy="369.99" r="0.43" fill="#5546c0" opacity="0.55"/>
<circle cx="15.16" cy="379.91" r="0.23" fill="#5546c0" opacity="0.55"/>
<circle cx="15.31" cy="407.00" r="0.31" fill="#5546c0" opacity="0.55"/>
<circle cx="11.79" cy="375.66" r="0.33" fill="#5546c0" opacity="0.55"/>
<circle cx="11.39" cy="392.42" r="0.35" fill="#5546c0" opacity="0.55"/>
<circle cx="8.72" cy="372.59" r="0.37" fill="#5546c0" opacity="0.55"/>
<circle cx="19.34" cy="374.55" r="0.45" fill="#5546c0" opacity="0.55"/>
<circle cx="12.96" cy="376.88" r="0.42" fill="#5546c0" opacity="0.55"/>
<circle cx="19.97" cy="379.02" r="0.34" fill="#5546c0" opacity="0.55"/>
<circle cx="13.42" cy="374.80" r="0.41" fill="#5546c0" opacity="0.55"/>
<circle cx="11.26" cy="378.96" r="0.22" fill="#5546c0" opacity="0.55"/>
<circle cx="17.92" cy="365.05" r="0.22" fill="#5546c0" opacity="0.55"/>
<circle cx="15.19" cy="370.64" r="0.24" fill="#5546c0" opacity="0.55"/>
<circle cx="12.49" cy="403.72" r="0.42" fill="#5546c0" opacity="0.55"/>
<circle cx="18.67" cy="388.91" r="0.21" fill="#5546c0" opacity="0.55"/>
<circle cx="13.34" cy="371.88" r="0.42" fill="#5546c0" opacity="0.55"/>
<circle cx="18.28" cy="382.06" r="0.45" fill="#5546c0" opacity="0.55"/>
<circle cx="13.49" cy="388.79" r="0.35" fill="#5546c0" opacity="0.55"/>
<circle cx="16.41" cy="385.78" r="0.30" fill="#5546c0" opacity="0.55"/>
<circle cx="12.36" cy="378.96" r="0.21" fill="#5546c0" opacity="0.55"/>
<circle cx="16.19" cy="375.16" r="0.44" fill="#5546c0" opacity="0.55"/>
<circle cx="16.89" cy="375.91" r="0.32" fill="#5546c0" opacity="0.55"/>
<circle cx="9.05" cy="381.68" r="0.35" fill="#5546c0" opacity="0.55"/>
<circle cx="9.45" cy="377.45" r="0.44" fill="#5546c0" opacity="0.55"/>
<circle cx="10.08" cy="383.36" r="0.38" fill="#5546c0" opacity="0.55"/>
<circle cx="14.25" cy="395.64" r="0.44" fill="#5546c0" opacity="0.55"/>
<circle cx="9.51" cy="381.79" r="0.20" fill="#5546c0" opacity="0.55"/>
<circle cx="9.96" cy="392.79" r="0.21" fill="#5546c0" opacity="0.55"/>
<circle cx="10.31" cy="371.88" r="0.22" fill="#5546c0" opacity="0.55"/>
<circle cx="11.13" cy="373.11" r="0.37" fill="#5546c0" opacity="0.55"/>
<circle cx="10.83" cy="399.58" r="0.38" fill="#5546c0" opacity="0.55"/>
<circle cx="15.20" cy="384.62" r="0.37" fill="#5546c0" opacity="0.55"/>
<circle cx="16.76" cy="381.60" r="0.31" fill="#5546c0" opacity="0.55"/>
<circle cx="11.26" cy="377.34" r="0.29" fill="#5546c0" opacity="0.55"/>
<circle cx="12.63" cy="396.19" r="0.35" fill="#5546c0" opacity="0.55"/>
<circle cx="12.87" cy="396.71" r="0.39" fill="#5546c0" opacity="0.55"/>
<circle cx="18.57" cy="386.88" r="0.38" fill="#5546c0" opacity="0.55"/>
<circle cx="13.03" cy="393.06" r="0.40" fill="#5546c0" opacity="0.55"/>
<circle cx="14.17" cy="392.77" r="0.31" fill="#5546c0" opacity="0.55"/>
<circle cx="13.47" cy="378.23" r="0.28" fill="#5546c0" opacity="0.55"/>
<circle cx="11.07" cy="402.61" r="0.31" fill="#5546c0" opacity="0.55"/>
<circle cx="15.38" cy="377.48" r="0.28" fill="#5546c0" opacity="0.55"/>
<circle cx="10.46" cy="365.94" r="0.31" fill="#5546c0" opacity="0.55"/>
<circle cx="14.29" cy="390.67" r="0.33" fill="#5546c0" opacity="0.55"/>
<circle cx="16.08" cy="403.66" r="0.41" fill="#5546c0" opacity="0.55"/>
<circle cx="15.22" cy="394.19" r="0.40" fill="#5546c0" opacity="0.55"/>
<circle cx="10.41" cy="367.59" r="0.29" fill="#5546c0" opacity="0.55"/>
<circle cx="16.13" cy="392.34" r="0.40" fill="#5546c0" opacity="0.55"/>
<circle cx="13.54" cy="396.59" r="0.30" fill="#5546c0" opacity="0.55"/>
<circle cx="10.67" cy="390.79" r="0.43" fill="#5546c0" opacity="0.55"/>
<circle cx="14.14" cy="384.80" r="0.44" fill="#5546c0" opacity="0.55"/>
<circle cx="18.70" cy="367.70" r="0.31" fill="#5546c0" opacity="0.55"/>
<circle cx="19.91" cy="376.93" r="0.26" fill="#5546c0" opacity="0.55"/>
<circle cx="13.83" cy="362.44" r="0.37" fill="#5546c0" opacity="0.55"/>
<circle cx="10.94" cy="382.64" r="0.29" fill="#5546c0" opacity="0.55"/>
<circle cx="14.18" cy="388.74" r="0.35" fill="#5546c0" opacity="0.55"/>
<circle cx="12.68" cy="404.58" r="0.21" fill="#5546c0" opacity="0.55"/>
<circle cx="18.29" cy="373.03" r="0.43" fill="#5546c0" opacity="0.55"/>
<circle cx="18.86" cy="370.37" r="0.34" fill="#5546c0" opacity="0.55"/>
<circle cx="19.43" cy="385.66" r="0.24" fill="#5546c0" opacity="0.55"/>
<circle cx="12.43" cy="401.84" r="0.33" fill="#5546c0" opacity="0.55"/>
<circle cx="8.64" cy="395.92" r="0.35" fill="#5546c0" opacity="0.55"/>
<circle cx="12.45" cy="392.82" r="0.42" fill="#5546c0" opacity="0.55"/>
<circle cx="8.45" cy="386.96" r="0.29" fill="#5546c0" opacity="0.55"/>
<circle cx="15.45" cy="399.59" r="0.40" fill="#5546c0" opacity="0.55"/>
<circle cx="16.68" cy="402.36" r="0.43" fill="#5546c0" opacity="0.55"/>
<circle cx="15.99" cy="363.95" r="0.20" fill="#5546c0" opacity="0.55"/>
<circle cx="9.89" cy="368.12" r="0.21" fill="#5546c0" opacity="0.55"/>
<circle cx="13.60" cy="394.81" r="0.33" fill="#5546c0" opacity="0.55"/>
<circle cx="10.33" cy="391.13" r="0.39" fill="#5546c0" opacity="0.55"/>
<circle cx="15.14" cy="384.05" r="0.23" fill="#5546c0" opacity="0.55"/>
<circle cx="14.92" cy="387.39" r="0.44" fill="#5546c0" opacity="0.55"/>
<circle cx="14.91" cy="379.63" r="0.33" fill="#5546c0" opacity="0.55"/>
<circle cx="12.69" cy="394.98" r="0.29" fill="#5546c0" opacity="0.55"/>
<circle cx="11.15" cy="370.10" r="0.29" fill="#5546c0" opacity="0.55"/>
<circle cx="15.21" cy="395.48" r="0.23" fill="#5546c0" opacity="0.55"/>
<circle cx="9.00" cy="377.29" r="0.30" fill="#5546c0" opacity="0.55"/>
<circle cx="16.03" cy="388.11" r="0.29" fill="#5546c0" opacity="0.55"/>
<circle cx="9.55" cy="371.36" r="0.30" fill="#5546c0" opacity="0.55"/>
<circle cx="15.55" cy="366.86" r="0.31" fill="#5546c0" opacity="0.55"/>
<circle cx="11.03" cy="395.32" r="0.38" fill="#5546c0" opacity="0.55"/>
<circle cx="9.42" cy="393.23" r="0.32" fill="#5546c0" opacity="0.55"/>
<circle cx="14.14" cy="400.50" r="0.37" fill="#5546c0" opacity="0.55"/>
<circle cx="17.50" cy="390.24" r="0.31" fill="#5546c0" opacity="0.55"/>
<circle cx="18.55" cy="368.17" r="0.29" fill="#5546c0" opacity="0.55"/>
<circle cx="18.52" cy="371.52" r="0.27" fill="#5546c0" opacity="0.55"/>
<circle cx="12.20" cy="385.53" r="0.40" fill="#5546c0" opacity="0.55"/>
<circle cx="10.83" cy="364.97" r="0.40" fill="#5546c0" opacity="0.55"/>
<circle cx="11.33" cy="366.68" r="0.34" fill="#5546c0" opacity="0.55"/>
<circle cx="17.77" cy="394.53" r="0.20" fill="#5546c0" opacity="0.55"/>
<circle cx="17.46" cy="400.15" r="0.21" fill="#5546c0" opacity="0.55"/>
<circle cx="15.36" cy="387.27" r="0.42" fill="#5546c0" opacity="0.55"/>
<circle cx="14.29" cy="386.28" r="0.41" fill="#5546c0" opacity="0.55"/>
<circle cx="18.25" cy="398.97" r="0.37" fill="#5546c0" opacity="0.55"/>
<circle cx="17.25" cy="364.02" r="0.34" fill="#5546c0" opacity="0.55"/>
<circle cx="14.27" cy="380.87" r="0.39" fill="#5546c0" opacity="0.55"/>
<circle cx="8.70" cy="382.61" r="0.23" fill="#5546c0" opacity="0.55"/>
<circle cx="13.96" cy="360.96" r="0.22" fill="#5546c0" opacity="0.55"/>
<circle cx="11.93" cy="399.20" r="0.41" fill="#5546c0" opacity="0.55"/>
<circle cx="14.11" cy="392.56" r="0.26" fill="#5546c0" opacity="0.55"/>
<circle cx="9.91" cy="370.52" r="0.30" fill="#5546c0" opacity="0.55"/>
<circle cx="11.49" cy="394.19" r="0.29" fill="#5546c0" opacity="0.55"/>
<circle cx="12.73" cy="386.66" r="0.33" fill="#5546c0" opacity="0.55"/>
<circle cx="17.77" cy="381.62" r="0.39" fill="#5546c0" opacity="0.55"/>
<circle cx="16.77" cy="400.27" r="0.39" fill="#5546c0" opacity="0.55"/>
<circle cx="11.98" cy="369.66" r="0.32" fill="#5546c0" opacity="0.55"/>
<circle cx="10.20" cy="366.41" r="0.24" fill="#5546c0" opacity="0.55"/>
<circle cx="18.50" cy="395.42" r="0.43" fill="#5546c0" opacity="0.55"/>
<circle cx="10.04" cy="382.41" r="0.38" fill="#5546c0" opacity="0.55"/>
<circle cx="15.15" cy="394.01" r="0.25" fill="#5546c0" opacity="0.55"/>
<circle cx="11.21" cy="377.85" r="0.26" fill="#5546c0" opacity="0.55"/>
<circle cx="11.72" cy="362.26" r="0.27" fill="#5546c0" opacity="0.55"/>
<circle cx="12.94" cy="370.43" r="0.41" fill="#5546c0" opacity="0.55"/>
<circle cx="11.46" cy="378.49" r="0.25" fill="#5546c0" opacity="0.55"/>
<circle cx="18.14" cy="386.24" r="0.30" fill="#5546c0" opacity="0.55"/>
<circle cx="15.65" cy="395.49" r="0.28" fill="#5546c0" opacity="0.55"/>
<circle cx="14.31" cy="376.60" r="0.45" fill="#5546c0" opacity="0.55"/>
<circle cx="9.26" cy="386.26" r="0.32" fill="#5546c0" opacity="0.55"/>
<circle cx="16.93" cy="365.61" r="0.34" fill="#5546c0" opacity="0.55"/>
<circle cx="8.70" cy="386.31" r="0.41" fill="#5546c0" opacity="0.55"/>
<circle cx="9.63" cy="395.69" r="0.44" fill="#5546c0" opacity="0.55"/>
<circle cx="11.37" cy="386.02" r="0.26" fill="#5546c0" opacity="0.55"/>
<circle cx="12.96" cy="365.43" r="0.44" fill="#5546c0" opacity="0.55"/>
<circle cx="15.69" cy="375.86" r="0.25" fill="#5546c0" opacity="0.55"/>
<circle cx="13.87" cy="392.77" r="0.38" fill="#5546c0" opacity="0.55"/>
<circle cx="17.85" cy="366.52" r="0.26" fill="#5546c0" opacity="0.55"/>
<circle cx="16.14" cy="375.03" r="0.31" fill="#5546c0" opacity="0.55"/>
<circle cx="13.80" cy="378.54" r="0.22" fill="#5546c0" opacity="0.55"/>
<circle cx="15.56" cy="374.09" r="0.29" fill="#5546c0" opacity="0.55"/>
<circle cx="9.50" cy="374.83" r="0.20" fill="#5546c0" opacity="0.55"/>
<circle cx="11.99" cy="396.57" r="0.32" fill="#5546c0" opacity="0.55"/>
<circle cx="15.17" cy="400.86" r="0.44" fill="#5546c0" opacity="0.55"/>
<circle cx="10.51" cy="394.55" r="0.23" fill="#5546c0" opacity="0.55"/>
<circle cx="13.21" cy="402.57" r="0.23" fill="#5546c0" opacity="0.55"/>
<circle cx="18.66" cy="369.25" r="0.22" fill="#5546c0" opacity="0.55"/>
<circle cx="17.36" cy="379.20" r="0.39" fill="#5546c0" opacity="0.55"/>
<circle cx="14.14" cy="372.46" r="0.37" fill="#5546c0" opacity="0.55"/>
<circle cx="10.76" cy="366.63" r="0.27" fill="#5546c0" opacity="0.55"/>
<circle cx="14.17" cy="360.57" r="0.37" fill="#5546c0" opacity="0.55"/>
<circle cx="12.29" cy="382.54" r="0.32" fill="#5546c0" opacity="0.55"/>
<circle cx="10.81" cy="399.76" r="0.37" fill="#5546c0" opacity="0.55"/>
<circle cx="11.86" cy="380.50" r="0.36" fill="#5546c0" opacity="0.55"/>
<circle cx="12.42" cy="377.73" r="0.42" fill="#5546c0" opacity="0.55"/>
<circle cx="12.96" cy="378.34" r="0.43" fill="#5546c0" opacity="0.55"/>
<circle cx="16.11" cy="393.60" r="0.38" fill="#5546c0" opacity="0.55"/>
<circle cx="10.26" cy="374.32" r="0.36" fill="#5546c0" opacity="0.55"/>
<circle cx="10.88" cy="387.14" r="0.24" fill="#5546c0" opacity="0.55"/>
<circle cx="18.83" cy="392.20" r="0.39" fill="#5546c0" opacity="0.55"/>
<circle cx="8.77" cy="378.64" r="0.29" fill="#5546c0" opacity="0.55"/>
<circle cx="12.28" cy="402.48" r="0.42" fill="#5546c0" opacity="0.7"/>
<circle cx="15.06" cy="399.39" r="0.26" fill="#5546c0" opacity="0.7"/>
<circle cx="12.75" cy="393.74" r="0.28" fill="#5546c0" opacity="0.7"/>
<circle cx="10.23" cy="401.16" r="0.39" fill="#5546c0" opacity="0.7"/>
<circle cx="10.32" cy="403.78" r="0.23" fill="#5546c0" opacity="0.7"/>
<circle cx="12.37" cy="399.99" r="0.23" fill="#5546c0" opacity="0.7"/>
<circle cx="13.10" cy="391.50" r="0.25" fill="#5546c0" opacity="0.7"/>
<circle cx="13.38" cy="402.39" r="0.39" fill="#5546c0" opacity="0.7"/>
<circle cx="13.85" cy="391.84" r="0.35" fill="#5546c0" opacity="0.7"/>
<circle cx="13.89" cy="401.67" r="0.25" fill="#5546c0" opacity="0.7"/>
<circle cx="9.69" cy="397.02" r="0.25" fill="#5546c0" opacity="0.7"/>
<circle cx="12.50" cy="404.90" r="0.21" fill="#5546c0" opacity="0.7"/>
<circle cx="13.72" cy="390.95" r="0.44" fill="#5546c0" opacity="0.7"/>
<circle cx="10.42" cy="401.76" r="0.35" fill="#5546c0" opacity="0.7"/>
<circle cx="9.87" cy="392.13" r="0.37" fill="#5546c0" opacity="0.7"/>
<circle cx="11.38" cy="404.96" r="0.32" fill="#5546c0" opacity="0.7"/>
<circle cx="9.84" cy="394.07" r="0.20" fill="#5546c0" opacity="0.7"/>
<circle cx="12.90" cy="391.81" r="0.32" fill="#5546c0" opacity="0.7"/>
<circle cx="10.02" cy="397.26" r="0.25" fill="#5546c0" opacity="0.7"/>
<circle cx="11.96" cy="397.80" r="0.33" fill="#5546c0" opacity="0.7"/>
<circle cx="11.00" cy="394.10" r="0.34" fill="#5546c0" opacity="0.7"/>
<circle cx="16.11" cy="396.10" r="0.23" fill="#5546c0" opacity="0.7"/>
<circle cx="13.29" cy="392.19" r="0.21" fill="#5546c0" opacity="0.7"/>
<circle cx="11.44" cy="400.58" r="0.22" fill="#5546c0" opacity="0.7"/>
<circle cx="8.78" cy="396.15" r="0.28" fill="#5546c0" opacity="0.7"/>
<circle cx="14.71" cy="393.33" r="0.23" fill="#5546c0" opacity="0.7"/>
<circle cx="14.35" cy="393.42" r="0.43" fill="#5546c0" opacity="0.7"/>
<circle cx="11.79" cy="391.48" r="0.29" fill="#5546c0" opacity="0.7"/>
<circle cx="13.84" cy="390.81" r="0.42" fill="#5546c0" opacity="0.7"/>
<circle cx="9.38" cy="400.61" r="0.32" fill="#5546c0" opacity="0.7"/>
<circle cx="12.97" cy="398.76" r="0.22" fill="#5546c0" opacity="0.7"/>
<circle cx="12.91" cy="400.54" r="0.32" fill="#5546c0" opacity="0.7"/>
<circle cx="11.64" cy="392.77" r="0.31" fill="#5546c0" opacity="0.7"/>
<circle cx="11.34" cy="394.84" r="0.32" fill="#5546c0" opacity="0.7"/>
<circle cx="12.60" cy="393.38" r="0.25" fill="#5546c0" opacity="0.7"/>
<circle cx="15.15" cy="394.12" r="0.29" fill="#5546c0" opacity="0.7"/>
<circle cx="10.62" cy="401.96" r="0.35" fill="#5546c0" opacity="0.7"/>
<circle cx="12.52" cy="398.23" r="0.25" fill="#5546c0" opacity="0.7"/>
<circle cx="12.76" cy="395.56" r="0.31" fill="#5546c0" opacity="0.7"/>
<circle cx="13.03" cy="400.95" r="0.24" fill="#5546c0" opacity="0.7"/>
<circle cx="11.37" cy="399.56" r="0.21" fill="#5546c0" opacity="0.7"/>
<circle cx="13.56" cy="399.75" r="0.32" fill="#5546c0" opacity="0.7"/>
<circle cx="12.88" cy="398.30" r="0.31" fill="#5546c0" opacity="0.7"/>
<circle cx="9.79" cy="401.55" r="0.21" fill="#5546c0" opacity="0.7"/>
<circle cx="10.61" cy="400.62" r="0.21" fill="#5546c0" opacity="0.7"/>
<circle cx="14.07" cy="397.31" r="0.22" fill="#5546c0" opacity="0.7"/>
<circle cx="11.16" cy="398.43" r="0.36" fill="#5546c0" opacity="0.7"/>
<circle cx="11.85" cy="399.88" r="0.21" fill="#5546c0" opacity="0.7"/>
<circle cx="12.24" cy="394.35" r="0.40" fill="#5546c0" opacity="0.7"/>
<circle cx="8.75" cy="399.66" r="0.28" fill="#5546c0" opacity="0.7"/>
<circle cx="12.50" cy="401.61" r="0.40" fill="#5546c0" opacity="0.7"/>
<circle cx="11.05" cy="394.94" r="0.22" fill="#5546c0" opacity="0.7"/>
<circle cx="10.88" cy="390.85" r="0.35" fill="#5546c0" opacity="0.7"/>
<circle cx="12.99" cy="398.02" r="0.22" fill="#5546c0" opacity="0.7"/>
<circle cx="12.76" cy="398.96" r="0.21" fill="#5546c0" opacity="0.7"/>
<circle cx="10.38" cy="391.81" r="0.25" fill="#5546c0" opacity="0.7"/>
<circle cx="15.03" cy="397.16" r="0.40" fill="#5546c0" opacity="0.7"/>
<circle cx="15.85" cy="394.17" r="0.21" fill="#5546c0" opacity="0.7"/>
<circle cx="11.50" cy="403.58" r="0.44" fill="#5546c0" opacity="0.7"/>
<circle cx="14.13" cy="400.01" r="0.41" fill="#5546c0" opacity="0.7"/>
<circle cx="14.21" cy="401.00" r="0.28" fill="#5546c0" opacity="0.7"/>
<circle cx="10.87" cy="391.08" r="0.24" fill="#5546c0" opacity="0.7"/>
<circle cx="12.29" cy="391.37" r="0.41" fill="#5546c0" opacity="0.7"/>
<circle cx="8.90" cy="395.49" r="0.29" fill="#5546c0" opacity="0.7"/>
<circle cx="11.08" cy="399.69" r="0.39" fill="#5546c0" opacity="0.7"/>
<circle cx="10.69" cy="398.44" r="0.24" fill="#5546c0" opacity="0.7"/>
<circle cx="11.96" cy="392.18" r="0.38" fill="#5546c0" opacity="0.7"/>
<circle cx="10.53" cy="401.39" r="0.24" fill="#5546c0" opacity="0.7"/>
<circle cx="12.40" cy="397.19" r="0.32" fill="#5546c0" opacity="0.7"/>
<circle cx="12.67" cy="391.68" r="0.22" fill="#5546c0" opacity="0.7"/>
<circle cx="12.79" cy="405.20" r="0.36" fill="#5546c0" opacity="0.7"/>
<circle cx="15.16" cy="392.90" r="0.31" fill="#5546c0" opacity="0.7"/>
<circle cx="15.15" cy="393.99" r="0.28" fill="#5546c0" opacity="0.7"/>
<circle cx="11.93" cy="399.20" r="0.30" fill="#5546c0" opacity="0.7"/>
<circle cx="13.49" cy="397.43" r="0.34" fill="#5546c0" opacity="0.7"/>
<circle cx="13.18" cy="399.13" r="0.36" fill="#5546c0" opacity="0.7"/>
<circle cx="12.54" cy="399.30" r="0.24" fill="#5546c0" opacity="0.7"/>
<circle cx="10.72" cy="393.43" r="0.20" fill="#5546c0" opacity="0.7"/>
<circle cx="12.99" cy="405.78" r="0.26" fill="#5546c0" opacity="0.7"/>
<circle cx="10.30" cy="396.18" r="0.40" fill="#5546c0" opacity="0.7"/>
<circle cx="89.56" cy="387.13" r="0.33" fill="#5546c0" opacity="0.6"/>
<circle cx="93.67" cy="398.27" r="0.22" fill="#5546c0" opacity="0.6"/>
<circle cx="93.62" cy="390.88" r="0.21" fill="#5546c0" opacity="0.6"/>
<circle cx="94.86" cy="392.96" r="0.42" fill="#5546c0" opacity="0.6"/>
<circle cx="95.71" cy="398.22" r="0.26" fill="#5546c0" opacity="0.6"/>
<circle cx="94.79" cy="385.47" r="0.36" fill="#5546c0" opacity="0.6"/>
<circle cx="93.33" cy="382.06" r="0.29" fill="#5546c0" opacity="0.6"/>
<circle cx="90.55" cy="389.17" r="0.23" fill="#5546c0" opacity="0.6"/>
<circle cx="94.87" cy="385.82" r="0.40" fill="#5546c0" opacity="0.6"/>
<circle cx="93.94" cy="402.63" r="0.32" fill="#5546c0" opacity="0.6"/>
<circle cx="92.85" cy="391.23" r="0.29" fill="#5546c0" opacity="0.6"/>
<circle cx="91.98" cy="394.26" r="0.34" fill="#5546c0" opacity="0.6"/>
<circle cx="92.72" cy="386.28" r="0.36" fill="#5546c0" opacity="0.6"/>
<circle cx="91.44" cy="390.82" r="0.29" fill="#5546c0" opacity="0.6"/>
<circle cx="95.59" cy="393.82" r="0.31" fill="#5546c0" opacity="0.6"/>
<circle cx="94.73" cy="396.63" r="0.24" fill="#5546c0" opacity="0.6"/>
<circle cx="96.74" cy="389.49" r="0.42" fill="#5546c0" opacity="0.6"/>
<circle cx="96.71" cy="393.18" r="0.43" fill="#5546c0" opacity="0.6"/>
<circle cx="90.11" cy="392.28" r="0.44" fill="#5546c0" opacity="0.6"/>
<circle cx="96.98" cy="386.79" r="0.32" fill="#5546c0" opacity="0.6"/>
<circle cx="93.43" cy="386.50" r="0.45" fill="#5546c0" opacity="0.6"/>
<circle cx="95.10" cy="391.02" r="0.43" fill="#5546c0" opacity="0.6"/>
<circle cx="93.49" cy="396.92" r="0.38" fill="#5546c0" opacity="0.6"/>
<circle cx="92.07" cy="402.44" r="0.36" fill="#5546c0" opacity="0.6"/>
<circle cx="97.06" cy="396.75" r="0.27" fill="#5546c0" opacity="0.6"/>
<circle cx="90.60" cy="396.83" r="0.39" fill="#5546c0" opacity="0.6"/>
<circle cx="92.95" cy="387.85" r="0.23" fill="#5546c0" opacity="0.6"/>
<circle cx="92.11" cy="401.26" r="0.22" fill="#5546c0" opacity="0.6"/>
<circle cx="95.43" cy="403.07" r="0.38" fill="#5546c0" opacity="0.6"/>
<circle cx="97.88" cy="392.10" r="0.42" fill="#5546c0" opacity="0.6"/>
<circle cx="91.83" cy="397.12" r="0.28" fill="#5546c0" opacity="0.6"/>
<circle cx="89.69" cy="396.03" r="0.34" fill="#5546c0" opacity="0.6"/>
<circle cx="90.11" cy="403.12" r="0.27" fill="#5546c0" opacity="0.6"/>
<circle cx="88.47" cy="396.78" r="0.40" fill="#5546c0" opacity="0.6"/>
<circle cx="92.37" cy="399.31" r="0.40" fill="#5546c0" opacity="0.6"/>
<circle cx="94.48" cy="394.24" r="0.33" fill="#5546c0" opacity="0.6"/>
<circle cx="91.34" cy="393.01" r="0.21" fill="#5546c0" opacity="0.6"/>
<circle cx="94.22" cy="404.65" r="0.32" fill="#5546c0" opacity="0.6"/>
<circle cx="97.29" cy="392.54" r="0.44" fill="#5546c0" opacity="0.6"/>
<circle cx="94.77" cy="395.03" r="0.20" fill="#5546c0" opacity="0.6"/>
<circle cx="90.62" cy="396.80" r="0.21" fill="#5546c0" opacity="0.6"/>
<circle cx="91.84" cy="393.10" r="0.28" fill="#5546c0" opacity="0.6"/>
<circle cx="93.08" cy="405.39" r="0.30" fill="#5546c0" opacity="0.6"/>
<circle cx="92.95" cy="395.99" r="0.31" fill="#5546c0" opacity="0.6"/>
<circle cx="90.25" cy="386.63" r="0.43" fill="#5546c0" opacity="0.6"/>
<circle cx="93.78" cy="388.75" r="0.23" fill="#5546c0" opacity="0.6"/>
<circle cx="93.23" cy="382.73" r="0.33" fill="#5546c0" opacity="0.6"/>
<circle cx="94.70" cy="386.05" r="0.27" fill="#5546c0" opacity="0.6"/>
<circle cx="93.21" cy="394.99" r="0.36" fill="#5546c0" opacity="0.6"/>
<circle cx="96.76" cy="386.61" r="0.32" fill="#5546c0" opacity="0.6"/>
<circle cx="90.58" cy="383.28" r="0.40" fill="#5546c0" opacity="0.6"/>
<circle cx="90.64" cy="389.39" r="0.33" fill="#5546c0" opacity="0.6"/>
<circle cx="93.86" cy="398.12" r="0.37" fill="#5546c0" opacity="0.6"/>
<circle cx="96.48" cy="393.55" r="0.30" fill="#5546c0" opacity="0.6"/>
<circle cx="91.14" cy="400.50" r="0.40" fill="#5546c0" opacity="0.6"/>
<circle cx="88.34" cy="397.73" r="0.24" fill="#5546c0" opacity="0.6"/>
<circle cx="91.66" cy="402.08" r="0.30" fill="#5546c0" opacity="0.6"/>
<circle cx="95.65" cy="384.66" r="0.43" fill="#5546c0" opacity="0.6"/>
<circle cx="92.53" cy="392.96" r="0.34" fill="#5546c0" opacity="0.6"/>
<circle cx="89.91" cy="391.40" r="0.27" fill="#5546c0" opacity="0.6"/>
<circle cx="91.81" cy="382.10" r="0.23" fill="#5546c0" opacity="0.6"/>
<circle cx="91.65" cy="387.74" r="0.33" fill="#5546c0" opacity="0.6"/>
<circle cx="96.87" cy="386.27" r="0.36" fill="#5546c0" opacity="0.6"/>
<circle cx="94.61" cy="405.64" r="0.25" fill="#5546c0" opacity="0.6"/>
<circle cx="89.68" cy="401.77" r="0.28" fill="#5546c0" opacity="0.6"/>
<circle cx="92.37" cy="406.50" r="0.44" fill="#5546c0" opacity="0.6"/>
<circle cx="91.83" cy="400.76" r="0.27" fill="#5546c0" opacity="0.6"/>
<circle cx="94.48" cy="398.16" r="0.45" fill="#5546c0" opacity="0.6"/>
<circle cx="94.82" cy="396.57" r="0.25" fill="#5546c0" opacity="0.6"/>
<circle cx="95.99" cy="398.24" r="0.39" fill="#5546c0" opacity="0.6"/>
<circle cx="95.00" cy="385.62" r="0.40" fill="#5546c0" opacity="0.6"/>
<circle cx="95.34" cy="394.21" r="0.44" fill="#5546c0" opacity="0.6"/>
<circle cx="95.06" cy="396.49" r="0.32" fill="#5546c0" opacity="0.6"/>
<circle cx="92.61" cy="402.99" r="0.21" fill="#5546c0" opacity="0.6"/>
<circle cx="93.43" cy="406.62" r="0.24" fill="#5546c0" opacity="0.6"/>
<circle cx="94.47" cy="391.42" r="0.45" fill="#5546c0" opacity="0.6"/>
<circle cx="91.24" cy="385.09" r="0.24" fill="#5546c0" opacity="0.6"/>
<circle cx="96.99" cy="397.71" r="0.24" fill="#5546c0" opacity="0.6"/>
<circle cx="94.65" cy="404.74" r="0.42" fill="#5546c0" opacity="0.6"/>
<circle cx="97.65" cy="397.83" r="0.33" fill="#5546c0" opacity="0.6"/>
<circle cx="92.03" cy="396.29" r="0.30" fill="#5546c0" opacity="0.6"/>
<circle cx="95.33" cy="393.52" r="0.23" fill="#5546c0" opacity="0.6"/>
<circle cx="93.89" cy="396.98" r="0.29" fill="#5546c0" opacity="0.6"/>
<circle cx="93.92" cy="392.58" r="0.25" fill="#5546c0" opacity="0.6"/>
<circle cx="97.63" cy="389.17" r="0.44" fill="#5546c0" opacity="0.6"/>
<circle cx="93.07" cy="400.97" r="0.44" fill="#5546c0" opacity="0.6"/>
<circle cx="88.97" cy="394.99" r="0.28" fill="#5546c0" opacity="0.6"/>
<circle cx="95.62" cy="394.92" r="0.39" fill="#5546c0" opacity="0.6"/>
<circle cx="93.71" cy="384.92" r="0.32" fill="#5546c0" opacity="0.6"/>
<circle cx="90.02" cy="392.11" r="0.33" fill="#5546c0" opacity="0.6"/>
<circle cx="39.71" cy="347.35" r="0.32" fill="#5546c0" opacity="0.45"/>
<circle cx="45.44" cy="347.03" r="0.24" fill="#5546c0" opacity="0.45"/>
<circle cx="45.89" cy="348.36" r="0.23" fill="#5546c0" opacity="0.45"/>
<circle cx="37.66" cy="353.05" r="0.21" fill="#5546c0" opacity="0.45"/>
<circle cx="43.22" cy="349.37" r="0.37" fill="#5546c0" opacity="0.45"/>
<circle cx="38.52" cy="350.41" r="0.37" fill="#5546c0" opacity="0.45"/>
<circle cx="40.44" cy="342.34" r="0.34" fill="#5546c0" opacity="0.45"/>
<circle cx="30.43" cy="348.92" r="0.22" fill="#5546c0" opacity="0.45"/>
<circle cx="32.67" cy="348.77" r="0.23" fill="#5546c0" opacity="0.45"/>
<circle cx="34.31" cy="347.60" r="0.30" fill="#5546c0" opacity="0.45"/>
<circle cx="34.83" cy="352.87" r="0.27" fill="#5546c0" opacity="0.45"/>
<circle cx="30.84" cy="345.31" r="0.39" fill="#5546c0" opacity="0.45"/>
<circle cx="43.23" cy="344.53" r="0.26" fill="#5546c0" opacity="0.45"/>
<circle cx="42.06" cy="349.47" r="0.22" fill="#5546c0" opacity="0.45"/>
<circle cx="30.54" cy="349.97" r="0.27" fill="#5546c0" opacity="0.45"/>
<circle cx="35.42" cy="347.04" r="0.39" fill="#5546c0" opacity="0.45"/>
<circle cx="32.47" cy="351.50" r="0.31" fill="#5546c0" opacity="0.45"/>
<circle cx="44.31" cy="344.38" r="0.31" fill="#5546c0" opacity="0.45"/>
<circle cx="31.71" cy="352.15" r="0.21" fill="#5546c0" opacity="0.45"/>
<circle cx="30.73" cy="353.27" r="0.36" fill="#5546c0" opacity="0.45"/>
<circle cx="45.63" cy="352.65" r="0.28" fill="#5546c0" opacity="0.45"/>
<circle cx="42.89" cy="349.48" r="0.24" fill="#5546c0" opacity="0.45"/>
<circle cx="30.03" cy="347.76" r="0.29" fill="#5546c0" opacity="0.45"/>
<circle cx="42.94" cy="345.18" r="0.27" fill="#5546c0" opacity="0.45"/>
<circle cx="36.13" cy="355.05" r="0.28" fill="#5546c0" opacity="0.45"/>
<circle cx="33.15" cy="354.44" r="0.38" fill="#5546c0" opacity="0.45"/>
<circle cx="35.55" cy="348.72" r="0.24" fill="#5546c0" opacity="0.45"/>
<circle cx="33.37" cy="354.33" r="0.23" fill="#5546c0" opacity="0.45"/>
<circle cx="41.96" cy="351.98" r="0.26" fill="#5546c0" opacity="0.45"/>
<circle cx="44.10" cy="351.02" r="0.38" fill="#5546c0" opacity="0.45"/>
<circle cx="30.68" cy="348.57" r="0.37" fill="#5546c0" opacity="0.45"/>
<circle cx="42.46" cy="343.55" r="0.29" fill="#5546c0" opacity="0.45"/>
<circle cx="36.96" cy="347.95" r="0.38" fill="#5546c0" opacity="0.45"/>
<circle cx="33.85" cy="353.55" r="0.38" fill="#5546c0" opacity="0.45"/>
<circle cx="37.24" cy="352.87" r="0.36" fill="#5546c0" opacity="0.45"/>
<circle cx="67.33" cy="347.94" r="0.21" fill="#5546c0" opacity="0.45"/>
<circle cx="68.72" cy="349.34" r="0.37" fill="#5546c0" opacity="0.45"/>
<circle cx="70.68" cy="352.37" r="0.28" fill="#5546c0" opacity="0.45"/>
<circle cx="63.57" cy="348.64" r="0.33" fill="#5546c0" opacity="0.45"/>
<circle cx="66.06" cy="344.90" r="0.22" fill="#5546c0" opacity="0.45"/>
<circle cx="76.15" cy="348.16" r="0.22" fill="#5546c0" opacity="0.45"/>
<circle cx="61.91" cy="351.42" r="0.40" fill="#5546c0" opacity="0.45"/>
<circle cx="69.50" cy="349.20" r="0.30" fill="#5546c0" opacity="0.45"/>
<circle cx="61.57" cy="352.52" r="0.37" fill="#5546c0" opacity="0.45"/>
<circle cx="66.38" cy="353.14" r="0.32" fill="#5546c0" opacity="0.45"/>
<circle cx="71.57" cy="346.96" r="0.28" fill="#5546c0" opacity="0.45"/>
<circle cx="74.86" cy="352.23" r="0.21" fill="#5546c0" opacity="0.45"/>
<circle cx="74.60" cy="346.85" r="0.31" fill="#5546c0" opacity="0.45"/>
<circle cx="72.22" cy="350.70" r="0.29" fill="#5546c0" opacity="0.45"/>
<circle cx="72.88" cy="344.69" r="0.26" fill="#5546c0" opacity="0.45"/>
<circle cx="75.98" cy="348.30" r="0.31" fill="#5546c0" opacity="0.45"/>
<circle cx="70.28" cy="352.70" r="0.38" fill="#5546c0" opacity="0.45"/>
<circle cx="73.13" cy="353.06" r="0.32" fill="#5546c0" opacity="0.45"/>
<circle cx="64.29" cy="354.40" r="0.38" fill="#5546c0" opacity="0.45"/>
<circle cx="73.69" cy="343.80" r="0.24" fill="#5546c0" opacity="0.45"/>
<circle cx="74.06" cy="350.78" r="0.26" fill="#5546c0" opacity="0.45"/>
<circle cx="71.86" cy="355.91" r="0.24" fill="#5546c0" opacity="0.45"/>
<circle cx="72.82" cy="342.09" r="0.22" fill="#5546c0" opacity="0.45"/>
<circle cx="73.43" cy="346.62" r="0.24" fill="#5546c0" opacity="0.45"/>
<circle cx="69.49" cy="350.03" r="0.30" fill="#5546c0" opacity="0.45"/>
<circle cx="62.89" cy="353.83" r="0.37" fill="#5546c0" opacity="0.45"/>
<circle cx="73.87" cy="350.62" r="0.28" fill="#5546c0" opacity="0.45"/>
<circle cx="70.72" cy="352.13" r="0.25" fill="#5546c0" opacity="0.45"/>
<circle cx="67.38" cy="345.07" r="0.22" fill="#5546c0" opacity="0.45"/>
<circle cx="70.02" cy="353.82" r="0.31" fill="#5546c0" opacity="0.45"/>
<circle cx="69.21" cy="355.45" r="0.24" fill="#5546c0" opacity="0.45"/>
<circle cx="65.81" cy="343.78" r="0.24" fill="#5546c0" opacity="0.45"/>
<circle cx="69.03" cy="344.42" r="0.31" fill="#5546c0" opacity="0.45"/>
<circle cx="63.44" cy="345.51" r="0.29" fill="#5546c0" opacity="0.45"/>
<circle cx="76.32" cy="351.39" r="0.37" fill="#5546c0" opacity="0.45"/>
<circle cx="19.09" cy="429.20" r="0.27" fill="#5546c0" opacity="0.6"/>
<circle cx="34.05" cy="426.87" r="0.26" fill="#5546c0" opacity="0.6"/>
<circle cx="31.48" cy="424.93" r="0.29" fill="#5546c0" opacity="0.6"/>
<circle cx="34.11" cy="428.92" r="0.24" fill="#5546c0" opacity="0.6"/>
<circle cx="25.81" cy="426.70" r="0.38" fill="#5546c0" opacity="0.6"/>
<circle cx="24.50" cy="428.41" r="0.33" fill="#5546c0" opacity="0.6"/>
<circle cx="31.18" cy="426.67" r="0.33" fill="#5546c0" opacity="0.6"/>
<circle cx="31.42" cy="426.90" r="0.32" fill="#5546c0" opacity="0.6"/>
<circle cx="18.50" cy="427.01" r="0.25" fill="#5546c0" opacity="0.6"/>
<circle cx="34.77" cy="431.12" r="0.34" fill="#5546c0" opacity="0.6"/>
<circle cx="23.66" cy="432.97" r="0.42" fill="#5546c0" opacity="0.6"/>
<circle cx="16.45" cy="427.85" r="0.41" fill="#5546c0" opacity="0.6"/>
<circle cx="26.93" cy="426.85" r="0.20" fill="#5546c0" opacity="0.6"/>
<circle cx="23.03" cy="425.63" r="0.29" fill="#5546c0" opacity="0.6"/>
<circle cx="19.24" cy="429.43" r="0.26" fill="#5546c0" opacity="0.6"/>
<circle cx="24.48" cy="425.98" r="0.30" fill="#5546c0" opacity="0.6"/>
<circle cx="32.96" cy="431.01" r="0.28" fill="#5546c0" opacity="0.6"/>
<circle cx="26.40" cy="427.45" r="0.30" fill="#5546c0" opacity="0.6"/>
<circle cx="29.13" cy="431.48" r="0.34" fill="#5546c0" opacity="0.6"/>
<circle cx="28.51" cy="429.49" r="0.32" fill="#5546c0" opacity="0.6"/>
<circle cx="29.19" cy="431.85" r="0.24" fill="#5546c0" opacity="0.6"/>
<circle cx="33.11" cy="430.83" r="0.43" fill="#5546c0" opacity="0.6"/>
<circle cx="32.01" cy="426.78" r="0.30" fill="#5546c0" opacity="0.6"/>
<circle cx="31.65" cy="429.84" r="0.28" fill="#5546c0" opacity="0.6"/>
<circle cx="29.84" cy="428.55" r="0.44" fill="#5546c0" opacity="0.6"/>
<circle cx="20.40" cy="429.40" r="0.27" fill="#5546c0" opacity="0.6"/>
<circle cx="30.90" cy="428.62" r="0.34" fill="#5546c0" opacity="0.6"/>
<circle cx="22.83" cy="428.88" r="0.26" fill="#5546c0" opacity="0.6"/>
<circle cx="36.51" cy="428.64" r="0.38" fill="#5546c0" opacity="0.6"/>
<circle cx="29.24" cy="428.36" r="0.38" fill="#5546c0" opacity="0.6"/>
<circle cx="27.01" cy="427.16" r="0.31" fill="#5546c0" opacity="0.6"/>
<circle cx="32.55" cy="428.63" r="0.39" fill="#5546c0" opacity="0.6"/>
<circle cx="31.38" cy="432.04" r="0.27" fill="#5546c0" opacity="0.6"/>
<circle cx="20.93" cy="428.86" r="0.42" fill="#5546c0" opacity="0.6"/>
<circle cx="26.76" cy="426.02" r="0.37" fill="#5546c0" opacity="0.6"/>
<circle cx="18.33" cy="430.73" r="0.26" fill="#5546c0" opacity="0.6"/>
<circle cx="19.33" cy="428.11" r="0.30" fill="#5546c0" opacity="0.6"/>
<circle cx="30.64" cy="429.45" r="0.36" fill="#5546c0" opacity="0.6"/>
<circle cx="29.24" cy="432.70" r="0.33" fill="#5546c0" opacity="0.6"/>
<circle cx="36.53" cy="427.82" r="0.38" fill="#5546c0" opacity="0.6"/>
<circle cx="25.83" cy="429.49" r="0.34" fill="#5546c0" opacity="0.6"/>
<circle cx="26.71" cy="424.72" r="0.25" fill="#5546c0" opacity="0.6"/>
<circle cx="32.91" cy="432.73" r="0.38" fill="#5546c0" opacity="0.6"/>
<circle cx="17.87" cy="429.36" r="0.24" fill="#5546c0" opacity="0.6"/>
<circle cx="18.69" cy="428.03" r="0.35" fill="#5546c0" opacity="0.6"/>
<circle cx="28.77" cy="430.16" r="0.36" fill="#5546c0" opacity="0.6"/>
<circle cx="29.51" cy="428.09" r="0.20" fill="#5546c0" opacity="0.6"/>
<circle cx="35.26" cy="430.93" r="0.30" fill="#5546c0" opacity="0.6"/>
<circle cx="16.46" cy="430.23" r="0.35" fill="#5546c0" opacity="0.6"/>
<circle cx="26.26" cy="432.62" r="0.20" fill="#5546c0" opacity="0.6"/>
<circle cx="25.25" cy="432.56" r="0.24" fill="#5546c0" opacity="0.6"/>
<circle cx="34.26" cy="429.62" r="0.28" fill="#5546c0" opacity="0.6"/>
<circle cx="29.74" cy="428.79" r="0.40" fill="#5546c0" opacity="0.6"/>
<circle cx="19.62" cy="431.55" r="0.31" fill="#5546c0" opacity="0.6"/>
<circle cx="24.21" cy="427.00" r="0.26" fill="#5546c0" opacity="0.6"/>
<circle cx="17.80" cy="430.16" r="0.29" fill="#5546c0" opacity="0.6"/>
<circle cx="27.82" cy="431.64" r="0.22" fill="#5546c0" opacity="0.6"/>
<circle cx="23.84" cy="431.95" r="0.34" fill="#5546c0" opacity="0.6"/>
<circle cx="22.72" cy="427.77" r="0.21" fill="#5546c0" opacity="0.6"/>
<circle cx="32.67" cy="429.39" r="0.25" fill="#5546c0" opacity="0.6"/>
<circle cx="76.72" cy="429.43" r="0.35" fill="#5546c0" opacity="0.5"/>
<circle cx="74.98" cy="428.61" r="0.35" fill="#5546c0" opacity="0.5"/>
<circle cx="75.25" cy="429.76" r="0.26" fill="#5546c0" opacity="0.5"/>
<circle cx="86.43" cy="431.01" r="0.30" fill="#5546c0" opacity="0.5"/>
<circle cx="86.19" cy="431.68" r="0.32" fill="#5546c0" opacity="0.5"/>
<circle cx="76.52" cy="428.72" r="0.23" fill="#5546c0" opacity="0.5"/>
<circle cx="82.75" cy="430.00" r="0.27" fill="#5546c0" opacity="0.5"/>
<circle cx="82.27" cy="430.00" r="0.30" fill="#5546c0" opacity="0.5"/>
<circle cx="76.57" cy="430.17" r="0.38" fill="#5546c0" opacity="0.5"/>
<circle cx="79.53" cy="430.11" r="0.29" fill="#5546c0" opacity="0.5"/>
<circle cx="86.50" cy="430.07" r="0.37" fill="#5546c0" opacity="0.5"/>
<circle cx="81.07" cy="429.73" r="0.34" fill="#5546c0" opacity="0.5"/>
<circle cx="78.28" cy="431.80" r="0.26" fill="#5546c0" opacity="0.5"/>
<circle cx="79.19" cy="430.84" r="0.33" fill="#5546c0" opacity="0.5"/>
<circle cx="86.65" cy="431.55" r="0.21" fill="#5546c0" opacity="0.5"/>
<circle cx="82.89" cy="429.75" r="0.22" fill="#5546c0" opacity="0.5"/>
<circle cx="79.82" cy="427.95" r="0.35" fill="#5546c0" opacity="0.5"/>
<circle cx="73.94" cy="429.88" r="0.22" fill="#5546c0" opacity="0.5"/>
<circle cx="77.53" cy="428.22" r="0.39" fill="#5546c0" opacity="0.5"/>
<circle cx="81.60" cy="430.02" r="0.34" fill="#5546c0" opacity="0.5"/>
<circle cx="55.13" cy="374.40" r="0.43" fill="#5546c0" opacity="0.7"/>
<circle cx="50.89" cy="374.73" r="0.37" fill="#5546c0" opacity="0.7"/>
<circle cx="52.62" cy="375.57" r="0.33" fill="#5546c0" opacity="0.7"/>
<circle cx="52.87" cy="373.35" r="0.37" fill="#5546c0" opacity="0.7"/>
<circle cx="52.91" cy="379.23" r="0.41" fill="#5546c0" opacity="0.7"/>
<circle cx="52.85" cy="370.16" r="0.37" fill="#5546c0" opacity="0.7"/>
<circle cx="53.61" cy="378.99" r="0.26" fill="#5546c0" opacity="0.7"/>
<circle cx="53.19" cy="380.34" r="0.40" fill="#5546c0" opacity="0.7"/>
<circle cx="53.08" cy="378.15" r="0.27" fill="#5546c0" opacity="0.7"/>
<circle cx="54.15" cy="379.57" r="0.31" fill="#5546c0" opacity="0.7"/>
<circle cx="55.11" cy="373.16" r="0.34" fill="#5546c0" opacity="0.7"/>
<circle cx="52.47" cy="376.37" r="0.43" fill="#5546c0" opacity="0.7"/>
<circle cx="53.01" cy="372.73" r="0.43" fill="#5546c0" opacity="0.7"/>
<circle cx="52.77" cy="378.39" r="0.31" fill="#5546c0" opacity="0.7"/>
<circle cx="53.97" cy="380.19" r="0.41" fill="#5546c0" opacity="0.7"/>
<circle cx="52.86" cy="374.47" r="0.44" fill="#5546c0" opacity="0.7"/>
<circle cx="50.79" cy="376.46" r="0.38" fill="#5546c0" opacity="0.7"/>
<circle cx="51.61" cy="376.94" r="0.35" fill="#5546c0" opacity="0.7"/>
<circle cx="51.01" cy="372.10" r="0.48" fill="#5546c0" opacity="0.7"/>
<circle cx="54.28" cy="381.26" r="0.45" fill="#5546c0" opacity="0.7"/>
<circle cx="52.09" cy="370.23" r="0.28" fill="#5546c0" opacity="0.7"/>
<circle cx="53.62" cy="370.45" r="0.28" fill="#5546c0" opacity="0.7"/>
<circle cx="49.79" cy="372.75" r="0.32" fill="#5546c0" opacity="0.7"/>
<circle cx="55.32" cy="371.54" r="0.36" fill="#5546c0" opacity="0.7"/>
<circle cx="53.97" cy="377.89" r="0.46" fill="#5546c0" opacity="0.7"/>
<circle cx="23.35" cy="354.12" r="0.29" fill="#5546c0" opacity="0.45"/>
<circle cx="28.37" cy="350.27" r="0.20" fill="#5546c0" opacity="0.45"/>
<circle cx="28.86" cy="350.58" r="0.28" fill="#5546c0" opacity="0.45"/>
<circle cx="28.77" cy="351.36" r="0.22" fill="#5546c0" opacity="0.45"/>
<circle cx="27.96" cy="349.50" r="0.24" fill="#5546c0" opacity="0.45"/>
<circle cx="28.29" cy="350.58" r="0.38" fill="#5546c0" opacity="0.45"/>
<circle cx="24.54" cy="355.81" r="0.24" fill="#5546c0" opacity="0.45"/>
<circle cx="21.91" cy="350.33" r="0.28" fill="#5546c0" opacity="0.45"/>
<circle cx="23.10" cy="351.80" r="0.37" fill="#5546c0" opacity="0.45"/>
<circle cx="30.63" cy="348.93" r="0.36" fill="#5546c0" opacity="0.45"/>
<circle cx="28.36" cy="353.69" r="0.24" fill="#5546c0" opacity="0.45"/>
<circle cx="29.31" cy="359.30" r="0.38" fill="#5546c0" opacity="0.45"/>
<circle cx="29.63" cy="348.74" r="0.22" fill="#5546c0" opacity="0.45"/>
<circle cx="25.04" cy="352.71" r="0.38" fill="#5546c0" opacity="0.45"/>
<circle cx="25.72" cy="356.25" r="0.39" fill="#5546c0" opacity="0.45"/>
<circle cx="27.75" cy="360.16" r="0.26" fill="#5546c0" opacity="0.45"/>
<circle cx="25.20" cy="349.98" r="0.38" fill="#5546c0" opacity="0.45"/>
<circle cx="23.45" cy="354.83" r="0.33" fill="#5546c0" opacity="0.45"/>
<circle cx="23.82" cy="349.83" r="0.22" fill="#5546c0" opacity="0.45"/>
<circle cx="25.42" cy="351.55" r="0.37" fill="#5546c0" opacity="0.45"/>
<circle cx="24.85" cy="354.58" r="0.27" fill="#5546c0" opacity="0.45"/>
<circle cx="28.27" cy="354.96" r="0.31" fill="#5546c0" opacity="0.45"/>
<circle cx="23.41" cy="354.57" r="0.26" fill="#5546c0" opacity="0.45"/>
<circle cx="20.85" cy="352.66" r="0.29" fill="#5546c0" opacity="0.45"/>
<circle cx="26.43" cy="346.22" r="0.22" fill="#5546c0" opacity="0.45"/>
<circle cx="28.61" cy="359.15" r="0.30" fill="#5546c0" opacity="0.45"/>
<circle cx="23.02" cy="356.07" r="0.37" fill="#5546c0" opacity="0.45"/>
<circle cx="23.69" cy="355.45" r="0.27" fill="#5546c0" opacity="0.45"/>
<circle cx="30.16" cy="352.42" r="0.30" fill="#5546c0" opacity="0.45"/>
<circle cx="22.28" cy="352.15" r="0.29" fill="#5546c0" opacity="0.45"/>
<circle cx="25.53" cy="348.79" r="0.40" fill="#5546c0" opacity="0.45"/>
<circle cx="30.14" cy="357.45" r="0.24" fill="#5546c0" opacity="0.45"/>
<circle cx="26.75" cy="348.15" r="0.22" fill="#5546c0" opacity="0.45"/>
<circle cx="20.78" cy="349.95" r="0.37" fill="#5546c0" opacity="0.45"/>
<circle cx="30.24" cy="345.79" r="0.21" fill="#5546c0" opacity="0.45"/>
<circle cx="24.86" cy="353.62" r="0.35" fill="#5546c0" opacity="0.45"/>
<circle cx="21.21" cy="354.26" r="0.36" fill="#5546c0" opacity="0.45"/>
<circle cx="30.75" cy="351.95" r="0.38" fill="#5546c0" opacity="0.45"/>
<circle cx="24.74" cy="351.40" r="0.38" fill="#5546c0" opacity="0.45"/>
<circle cx="27.16" cy="353.12" r="0.37" fill="#5546c0" opacity="0.45"/>
<circle cx="25.11" cy="358.90" r="0.21" fill="#5546c0" opacity="0.45"/>
<circle cx="27.20" cy="359.14" r="0.21" fill="#5546c0" opacity="0.45"/>
<circle cx="20.24" cy="351.42" r="0.24" fill="#5546c0" opacity="0.45"/>
<circle cx="24.59" cy="344.77" r="0.32" fill="#5546c0" opacity="0.45"/>
<circle cx="26.49" cy="344.78" r="0.20" fill="#5546c0" opacity="0.45"/>
<circle cx="79.23" cy="361.78" r="0.39" fill="#5546c0" opacity="0.45"/>
<circle cx="78.75" cy="362.40" r="0.23" fill="#5546c0" opacity="0.45"/>
<circle cx="79.76" cy="351.46" r="0.30" fill="#5546c0" opacity="0.45"/>
<circle cx="77.27" cy="353.62" r="0.35" fill="#5546c0" opacity="0.45"/>
<circle cx="79.41" cy="348.18" r="0.26" fill="#5546c0" opacity="0.45"/>
<circle cx="78.17" cy="359.04" r="0.38" fill="#5546c0" opacity="0.45"/>
<circle cx="75.37" cy="357.94" r="0.30" fill="#5546c0" opacity="0.45"/>
<circle cx="77.20" cy="351.71" r="0.27" fill="#5546c0" opacity="0.45"/>
<circle cx="78.44" cy="348.31" r="0.26" fill="#5546c0" opacity="0.45"/>
<circle cx="82.28" cy="359.84" r="0.35" fill="#5546c0" opacity="0.45"/>
<circle cx="75.59" cy="353.08" r="0.39" fill="#5546c0" opacity="0.45"/>
<circle cx="76.19" cy="357.52" r="0.22" fill="#5546c0" opacity="0.45"/>
<circle cx="75.82" cy="361.34" r="0.27" fill="#5546c0" opacity="0.45"/>
<circle cx="81.65" cy="353.73" r="0.29" fill="#5546c0" opacity="0.45"/>
<circle cx="76.03" cy="350.39" r="0.32" fill="#5546c0" opacity="0.45"/>
<circle cx="74.61" cy="356.18" r="0.30" fill="#5546c0" opacity="0.45"/>
<circle cx="78.91" cy="353.08" r="0.36" fill="#5546c0" opacity="0.45"/>
<circle cx="76.65" cy="363.78" r="0.21" fill="#5546c0" opacity="0.45"/>
<circle cx="74.95" cy="356.52" r="0.34" fill="#5546c0" opacity="0.45"/>
<circle cx="78.66" cy="359.85" r="0.23" fill="#5546c0" opacity="0.45"/>
<circle cx="74.67" cy="353.57" r="0.20" fill="#5546c0" opacity="0.45"/>
<circle cx="78.83" cy="359.08" r="0.39" fill="#5546c0" opacity="0.45"/>
<circle cx="74.59" cy="357.78" r="0.26" fill="#5546c0" opacity="0.45"/>
<circle cx="75.63" cy="349.30" r="0.33" fill="#5546c0" opacity="0.45"/>
<circle cx="81.05" cy="356.05" r="0.30" fill="#5546c0" opacity="0.45"/>
<circle cx="82.17" cy="358.16" r="0.26" fill="#5546c0" opacity="0.45"/>
<circle cx="76.99" cy="362.54" r="0.32" fill="#5546c0" opacity="0.45"/>
<circle cx="73.44" cy="356.18" r="0.30" fill="#5546c0" opacity="0.45"/>
<circle cx="77.47" cy="357.45" r="0.31" fill="#5546c0" opacity="0.45"/>
<circle cx="75.75" cy="360.69" r="0.27" fill="#5546c0" opacity="0.45"/>
<circle cx="78.70" cy="356.05" r="0.23" fill="#5546c0" opacity="0.45"/>
<circle cx="81.77" cy="360.55" r="0.32" fill="#5546c0" opacity="0.45"/>
<circle cx="78.29" cy="363.31" r="0.33" fill="#5546c0" opacity="0.45"/>
<circle cx="81.90" cy="358.88" r="0.25" fill="#5546c0" opacity="0.45"/>
<circle cx="79.55" cy="355.95" r="0.26" fill="#5546c0" opacity="0.45"/>
<ellipse cx="26" cy="352" rx="5" ry="8" fill="#5546c0" opacity="0.08" filter="url(#blur2)" transform="rotate(0 26 352)"/>
<ellipse cx="78" cy="356" rx="4" ry="8" fill="#5546c0" opacity="0.08" filter="url(#blur2)" transform="rotate(0 78 356)"/>
<ellipse cx="27.6" cy="378.3" rx="2.0" ry="3.3" fill="#5546c0"/>
<ellipse cx="80.5" cy="377.8" rx="1.8" ry="3.0" fill="#5546c0"/>
<ellipse cx="51.8" cy="381.2" rx="1.5" ry="2.3" fill="#5546c0"/>
<ellipse cx="55.4" cy="381.2" rx="1.5" ry="2.3" fill="#5546c0"/>
<ellipse cx="51.2" cy="372.5" rx="0.8" ry="1.6" fill="#5546c0"/>
<ellipse cx="55.6" cy="372.5" rx="0.8" ry="1.6" fill="#5546c0"/>
<ellipse cx="52.4" cy="376.5" rx="0.7" ry="1.4" fill="#5546c0"/>
<ellipse cx="54.8" cy="376.5" rx="0.7" ry="1.4" fill="#5546c0"/>
<ellipse cx="44.4" cy="384.4" rx="1.1" ry="0.8" fill="#5546c0"/>
<ellipse cx="64.2" cy="384.3" rx="1.1" ry="0.8" fill="#5546c0"/>
<ellipse cx="43.3" cy="396.8" rx="1.0" ry="1.0" fill="#5546c0"/>
<ellipse cx="43.8" cy="400.5" rx="1.1" ry="1.1" fill="#5546c0"/>
<ellipse cx="44.6" cy="404.5" rx="0.9" ry="0.9" fill="#5546c0"/>
<ellipse cx="62.8" cy="396.8" rx="1.0" ry="1.0" fill="#5546c0"/>
<ellipse cx="63.4" cy="400.5" rx="1.1" ry="1.1" fill="#5546c0"/>
<ellipse cx="64.2" cy="404" rx="0.9" ry="0.9" fill="#5546c0"/>
<ellipse cx="38.3" cy="410.4" rx="1.6" ry="2.0" fill="#5546c0"/>
<ellipse cx="68.9" cy="410.2" rx="1.5" ry="2.0" fill="#5546c0"/>
<ellipse cx="49.8" cy="427.2" rx="2.2" ry="2.4" fill="#5546c0"/>
<ellipse cx="57.2" cy="427.2" rx="2.2" ry="2.4" fill="#5546c0"/>
<ellipse cx="50.6" cy="430.5" rx="0.9" ry="1.2" fill="#5546c0"/>
<ellipse cx="56.4" cy="430.5" rx="0.9" ry="1.2" fill="#5546c0"/>
<ellipse cx="43" cy="363.5" rx="1.0" ry="0.8" fill="#5546c0"/>
<ellipse cx="65.5" cy="362.6" rx="0.8" ry="0.7" fill="#5546c0"/>
<ellipse cx="27" cy="413.3" rx="0.6" ry="0.8" fill="#5546c0"/>
<line x1="66.3" y1="362.6" x2="113.6" y2="338.6" stroke="#222" stroke-width="0.8"/>
<line x1="57.2" y1="378.6" x2="112.0" y2="355.8" stroke="#222" stroke-width="0.8"/>
<line x1="83.5" y1="377.0" x2="120.0" y2="372.2" stroke="#222" stroke-width="0.8"/>
<line x1="67.5" y1="383.6" x2="120.0" y2="390.0" stroke="#222" stroke-width="0.8"/>
<line x1="75.5" y1="409.5" x2="113.2" y2="409.5" stroke="#222" stroke-width="0.8"/>
<line x1="62.9" y1="427.3" x2="103.0" y2="427.3" stroke="#222" stroke-width="0.8"/>
<text x="117.90" y="342.20" font-size="8.7" textLength="14.60" lengthAdjust="spacingAndGlyphs">BST</text>
<text x="115.50" y="358.00" font-size="8.7" textLength="15.10" lengthAdjust="spacingAndGlyphs">PVT</text>
<text x="121.80" y="374.20" font-size="8.7" textLength="16.00" lengthAdjust="spacingAndGlyphs">CEA</text>
<text x="123.70" y="393.30" font-size="8.7" textLength="20.50" lengthAdjust="spacingAndGlyphs">PSTN</text>
<text x="117.00" y="411.80" font-size="8.7" textLength="9.90" lengthAdjust="spacingAndGlyphs">PB</text>
<text x="106.00" y="431.20" font-size="8.7" textLength="16.10" lengthAdjust="spacingAndGlyphs">NTS</text>
<text x="55.20" y="548.40" font-size="9.4" textLength="116.50" lengthAdjust="spacingAndGlyphs">Central amygdalar nucleus</text>
<text x="304.90" y="548.40" font-size="9.4" textLength="89.70" lengthAdjust="spacingAndGlyphs">Parabrachial nucleus</text>
<text x="530.60" y="548.40" font-size="9.4" textLength="119.20" lengthAdjust="spacingAndGlyphs">Nucleus of the solitary tract</text>
<text x="37.40" y="563.70" font-size="8.8" textLength="29.40" lengthAdjust="spacingAndGlyphs">Vehicle</text>
<text x="127.20" y="563.70" font-size="8.8" textLength="55.20" lengthAdjust="spacingAndGlyphs">mGIPR-Ab/P3</text>
<text x="282.10" y="563.70" font-size="8.8" textLength="30.20" lengthAdjust="spacingAndGlyphs">Vehicle</text>
<text x="375.10" y="563.70" font-size="8.8" textLength="54.70" lengthAdjust="spacingAndGlyphs">mGIPR-Ab/P3</text>
<text x="516.50" y="563.70" font-size="8.8" textLength="29.80" lengthAdjust="spacingAndGlyphs">Vehicle</text>
<text x="605.10" y="563.70" font-size="8.8" textLength="54.10" lengthAdjust="spacingAndGlyphs">mGIPR-Ab/P3</text>
<clipPath id="gclip0"><path d="M52.50,572.00 C50.67,572.00 49.37,570.70 47.00,570.30 C44.63,569.90 41.63,569.40 38.30,569.60 C34.97,569.80 30.55,570.35 27.00,571.50 C23.45,572.65 19.83,574.50 17.00,576.50 C14.17,578.50 11.92,580.75 10.00,583.50 C8.08,586.25 6.53,589.42 5.50,593.00 C4.47,596.58 3.97,601.17 3.80,605.00 C3.63,608.83 3.80,612.50 4.50,616.00 C5.20,619.50 6.50,623.17 8.00,626.00 C9.50,628.83 11.58,631.37 13.50,633.00 C15.42,634.63 17.42,635.47 19.50,635.80 C21.58,636.13 24.08,635.97 26.00,635.00 C27.92,634.03 29.67,631.33 31.00,630.00 C32.33,628.67 32.83,627.25 34.00,627.00 C35.17,626.75 36.33,627.67 38.00,628.50 C39.67,629.33 41.58,631.00 44.00,632.00 C46.42,633.00 49.67,634.50 52.50,634.50 C55.33,634.50 58.58,633.00 61.00,632.00 C63.42,631.00 65.33,629.33 67.00,628.50 C68.67,627.67 69.83,626.75 71.00,627.00 C72.17,627.25 72.67,628.67 74.00,630.00 C75.33,631.33 77.08,634.03 79.00,635.00 C80.92,635.97 83.42,636.13 85.50,635.80 C87.58,635.47 89.58,634.63 91.50,633.00 C93.42,631.37 95.50,628.83 97.00,626.00 C98.50,623.17 99.80,619.50 100.50,616.00 C101.20,612.50 101.37,608.83 101.20,605.00 C101.03,601.17 100.53,596.58 99.50,593.00 C98.47,589.42 96.92,586.25 95.00,583.50 C93.08,580.75 90.83,578.50 88.00,576.50 C85.17,574.50 81.55,572.65 78.00,571.50 C74.45,570.35 70.03,569.80 66.70,569.60 C63.37,569.40 60.37,569.90 58.00,570.30 C55.63,570.70 54.33,572.00 52.50,572.00 Z"/></clipPath>
<path d="M52.50,572.00 C50.67,572.00 49.37,570.70 47.00,570.30 C44.63,569.90 41.63,569.40 38.30,569.60 C34.97,569.80 30.55,570.35 27.00,571.50 C23.45,572.65 19.83,574.50 17.00,576.50 C14.17,578.50 11.92,580.75 10.00,583.50 C8.08,586.25 6.53,589.42 5.50,593.00 C4.47,596.58 3.97,601.17 3.80,605.00 C3.63,608.83 3.80,612.50 4.50,616.00 C5.20,619.50 6.50,623.17 8.00,626.00 C9.50,628.83 11.58,631.37 13.50,633.00 C15.42,634.63 17.42,635.47 19.50,635.80 C21.58,636.13 24.08,635.97 26.00,635.00 C27.92,634.03 29.67,631.33 31.00,630.00 C32.33,628.67 32.83,627.25 34.00,627.00 C35.17,626.75 36.33,627.67 38.00,628.50 C39.67,629.33 41.58,631.00 44.00,632.00 C46.42,633.00 49.67,634.50 52.50,634.50 C55.33,634.50 58.58,633.00 61.00,632.00 C63.42,631.00 65.33,629.33 67.00,628.50 C68.67,627.67 69.83,626.75 71.00,627.00 C72.17,627.25 72.67,628.67 74.00,630.00 C75.33,631.33 77.08,634.03 79.00,635.00 C80.92,635.97 83.42,636.13 85.50,635.80 C87.58,635.47 89.58,634.63 91.50,633.00 C93.42,631.37 95.50,628.83 97.00,626.00 C98.50,623.17 99.80,619.50 100.50,616.00 C101.20,612.50 101.37,608.83 101.20,605.00 C101.03,601.17 100.53,596.58 99.50,593.00 C98.47,589.42 96.92,586.25 95.00,583.50 C93.08,580.75 90.83,578.50 88.00,576.50 C85.17,574.50 81.55,572.65 78.00,571.50 C74.45,570.35 70.03,569.80 66.70,569.60 C63.37,569.40 60.37,569.90 58.00,570.30 C55.63,570.70 54.33,572.00 52.50,572.00 Z" fill="#d3d3d3" filter="url(#blur05)"/>
<g clip-path="url(#gclip0)">
<ellipse cx="14.50" cy="620" rx="9" ry="14" fill="#dcdcdc" filter="url(#blur2)"/>
<ellipse cx="90.50" cy="620" rx="9" ry="14" fill="#dcdcdc" filter="url(#blur2)"/>
<path d="M5.50,606 C5.50,585 19.50,574.5 50.50,575 M99.50,606 C99.50,585 85.50,574.5 54.50,575" stroke="#c3c3c3" stroke-width="11" fill="none" filter="url(#blur2)"/>
<path d="M16.50,600 C17.50,588 26.50,582.5 52.50,582.5 C78.50,582.5 87.50,588 88.50,600" stroke="#dadada" stroke-width="2" fill="none" filter="url(#blur05)"/>
<ellipse cx="52.50" cy="606" rx="25" ry="17" fill="#cecece" filter="url(#blur2)"/>
<ellipse cx="52.50" cy="627" rx="9" ry="7" fill="#d4d4d4" filter="url(#blur2)"/>
</g>
<ellipse cx="45.50" cy="588" rx="6.6" ry="4" fill="#e2e2e2" stroke="#cfcfcf" stroke-width="0.4" filter="url(#blur05)"/>
<ellipse cx="59.50" cy="588" rx="6.6" ry="4" fill="#e2e2e2" stroke="#cfcfcf" stroke-width="0.4" filter="url(#blur05)"/>
<path d="M29.00,585 L37.00,584.6 L37.00,590.3 L31.40,596.5 L29.00,596 Z" fill="#fcfcfc" filter="url(#blur05)"/>
<path d="M76.00,585 L68.00,584.6 L68.00,590.3 L73.60,596.5 L76.00,596 Z" fill="#fcfcfc" filter="url(#blur05)"/>
<path d="M48.50,590 L56.50,590 L54.00,597.5 L51.00,597.5 Z" fill="#f6f6f6" filter="url(#blur05)"/>
<path d="M28.00,612.5 L22.50,613 L21.00,617 L23.50,621.5 L29.00,620 L30.00,616 Z" fill="#e2e2e2" stroke="#444" stroke-width="0.45"/>
<path d="M77.00,612.5 L82.50,613 L84.00,617 L81.50,621.5 L76.00,620 L75.00,616 Z" fill="#e2e2e2" stroke="#444" stroke-width="0.45"/>
<circle cx="7.41" cy="606.75" r="0.86" fill="#8e1515"/>
<circle cx="7.64" cy="605.87" r="0.67" fill="#8e1515"/>
<circle cx="14.50" cy="612.03" r="0.70" fill="#8e1515"/>
<circle cx="12.91" cy="601.42" r="0.52" fill="#8e1515"/>
<circle cx="18.31" cy="610.51" r="0.73" fill="#8e1515"/>
<circle cx="20.13" cy="607.60" r="0.88" fill="#8e1515"/>
<circle cx="9.27" cy="595.79" r="0.44" fill="#8e1515"/>
<circle cx="17.60" cy="604.84" r="0.38" fill="#8e1515"/>
<circle cx="13.59" cy="608.82" r="0.37" fill="#8e1515"/>
<circle cx="8.11" cy="605.77" r="0.81" fill="#8e1515"/>
<circle cx="6.69" cy="602.77" r="0.62" fill="#8e1515"/>
<circle cx="10.08" cy="597.10" r="0.50" fill="#8e1515"/>
<circle cx="20.47" cy="603.79" r="0.81" fill="#8e1515"/>
<circle cx="11.57" cy="597.98" r="0.48" fill="#8e1515"/>
<circle cx="12.20" cy="606.12" r="0.77" fill="#8e1515"/>
<circle cx="6.73" cy="611.30" r="0.56" fill="#8e1515"/>
<circle cx="19.38" cy="600.75" r="0.35" fill="#8e1515"/>
<circle cx="14.38" cy="616.69" r="0.61" fill="#8e1515"/>
<circle cx="16.66" cy="603.10" r="0.39" fill="#8e1515"/>
<circle cx="7.89" cy="595.46" r="0.50" fill="#8e1515"/>
<circle cx="15.66" cy="607.37" r="0.88" fill="#8e1515"/>
<circle cx="12.59" cy="600.87" r="0.49" fill="#8e1515"/>
<circle cx="13.40" cy="605.16" r="0.79" fill="#8e1515"/>
<circle cx="14.84" cy="612.38" r="0.60" fill="#8e1515"/>
<circle cx="14.84" cy="614.48" r="0.42" fill="#8e1515"/>
<circle cx="11.40" cy="601.56" r="0.58" fill="#8e1515"/>
<circle cx="13.24" cy="609.44" r="0.88" fill="#8e1515"/>
<circle cx="13.64" cy="598.25" r="0.84" fill="#8e1515"/>
<circle cx="13.52" cy="611.08" r="0.82" fill="#8e1515"/>
<circle cx="11.49" cy="601.82" r="0.89" fill="#8e1515"/>
<circle cx="13.21" cy="609.28" r="0.77" fill="#8e1515"/>
<circle cx="10.87" cy="609.26" r="0.39" fill="#8e1515"/>
<circle cx="17.13" cy="609.15" r="0.48" fill="#8e1515"/>
<circle cx="9.28" cy="599.84" r="0.60" fill="#8e1515"/>
<circle cx="17.15" cy="601.86" r="0.67" fill="#8e1515"/>
<circle cx="14.13" cy="600.83" r="0.43" fill="#8e1515"/>
<circle cx="18.33" cy="597.38" r="0.49" fill="#8e1515"/>
<circle cx="14.89" cy="614.53" r="0.87" fill="#8e1515"/>
<circle cx="15.04" cy="616.75" r="0.84" fill="#8e1515"/>
<circle cx="9.02" cy="599.37" r="0.41" fill="#8e1515"/>
<circle cx="21.23" cy="629.94" r="0.48" fill="#8e1515"/>
<circle cx="15.96" cy="627.52" r="0.80" fill="#8e1515"/>
<circle cx="14.76" cy="628.03" r="0.45" fill="#8e1515"/>
<circle cx="16.36" cy="628.40" r="0.48" fill="#8e1515"/>
<circle cx="12.34" cy="627.70" r="0.69" fill="#8e1515"/>
<circle cx="15.61" cy="632.70" r="0.46" fill="#8e1515"/>
<circle cx="18.48" cy="629.17" r="0.60" fill="#8e1515"/>
<circle cx="17.88" cy="629.44" r="0.55" fill="#8e1515"/>
<circle cx="15.41" cy="628.58" r="0.55" fill="#8e1515"/>
<circle cx="20.32" cy="626.50" r="0.71" fill="#8e1515"/>
<circle cx="15.26" cy="626.44" r="0.43" fill="#8e1515"/>
<circle cx="16.79" cy="629.05" r="0.85" fill="#8e1515"/>
<circle cx="90.43" cy="599.58" r="0.36" fill="#8e1515"/>
<circle cx="89.74" cy="603.38" r="0.75" fill="#8e1515"/>
<circle cx="89.56" cy="614.26" r="0.39" fill="#8e1515"/>
<circle cx="87.08" cy="605.16" r="0.85" fill="#8e1515"/>
<circle cx="92.06" cy="600.77" r="0.79" fill="#8e1515"/>
<circle cx="95.40" cy="605.04" r="0.73" fill="#8e1515"/>
<circle cx="97.66" cy="602.76" r="0.58" fill="#8e1515"/>
<circle cx="94.09" cy="600.01" r="0.67" fill="#8e1515"/>
<circle cx="89.97" cy="604.12" r="0.67" fill="#8e1515"/>
<circle cx="91.57" cy="606.14" r="0.70" fill="#8e1515"/>
<circle cx="98.89" cy="606.69" r="0.75" fill="#8e1515"/>
<circle cx="88.19" cy="611.16" r="0.67" fill="#8e1515"/>
<circle cx="86.74" cy="609.58" r="0.40" fill="#8e1515"/>
<circle cx="92.50" cy="606.32" r="0.68" fill="#8e1515"/>
<circle cx="90.01" cy="607.34" r="0.73" fill="#8e1515"/>
<circle cx="87.52" cy="607.10" r="0.86" fill="#8e1515"/>
<circle cx="92.49" cy="607.35" r="0.52" fill="#8e1515"/>
<circle cx="91.50" cy="604.65" r="0.44" fill="#8e1515"/>
<circle cx="96.84" cy="603.66" r="0.59" fill="#8e1515"/>
<circle cx="94.99" cy="604.70" r="0.72" fill="#8e1515"/>
<circle cx="93.73" cy="611.21" r="0.79" fill="#8e1515"/>
<circle cx="97.99" cy="603.24" r="0.56" fill="#8e1515"/>
<circle cx="77.79" cy="626.89" r="0.42" fill="#8e1515"/>
<circle cx="74.32" cy="628.10" r="0.82" fill="#8e1515"/>
<circle cx="78.87" cy="623.32" r="0.50" fill="#8e1515"/>
<circle cx="82.45" cy="630.50" r="0.50" fill="#8e1515"/>
<circle cx="81.35" cy="630.63" r="0.69" fill="#8e1515"/>
<circle cx="77.38" cy="628.09" r="0.81" fill="#8e1515"/>
<circle cx="84.49" cy="627.68" r="0.39" fill="#8e1515"/>
<circle cx="86.74" cy="628.89" r="0.37" fill="#8e1515"/>
<circle cx="79.28" cy="624.74" r="0.52" fill="#8e1515"/>
<circle cx="80.61" cy="627.70" r="0.42" fill="#8e1515"/>
<circle cx="80.00" cy="628.11" r="0.81" fill="#8e1515"/>
<circle cx="80.64" cy="629.26" r="0.38" fill="#8e1515"/>
<circle cx="77.76" cy="625.94" r="0.70" fill="#8e1515"/>
<circle cx="77.11" cy="624.44" r="0.88" fill="#8e1515"/>
<circle cx="79.59" cy="626.52" r="0.61" fill="#8e1515"/>
<circle cx="80.63" cy="628.19" r="0.61" fill="#8e1515"/>
<circle cx="80.03" cy="626.54" r="0.50" fill="#8e1515"/>
<circle cx="77.42" cy="631.20" r="0.64" fill="#8e1515"/>
<circle cx="76.17" cy="625.29" r="0.57" fill="#8e1515"/>
<circle cx="82.20" cy="623.49" r="0.40" fill="#8e1515"/>
<circle cx="85.58" cy="626.36" r="0.42" fill="#8e1515"/>
<circle cx="75.67" cy="629.04" r="0.85" fill="#8e1515"/>
<circle cx="44.13" cy="628.83" r="0.75" fill="#8e1515"/>
<circle cx="49.45" cy="620.48" r="0.56" fill="#8e1515"/>
<circle cx="46.16" cy="624.39" r="0.67" fill="#8e1515"/>
<circle cx="49.64" cy="622.00" r="0.67" fill="#8e1515"/>
<circle cx="48.99" cy="631.43" r="0.79" fill="#8e1515"/>
<circle cx="51.98" cy="625.45" r="0.71" fill="#8e1515"/>
<circle cx="44.70" cy="631.08" r="0.74" fill="#8e1515"/>
<circle cx="46.79" cy="626.85" r="0.55" fill="#8e1515"/>
<circle cx="41.97" cy="624.45" r="0.57" fill="#8e1515"/>
<circle cx="53.44" cy="626.92" r="0.38" fill="#8e1515"/>
<circle cx="48.13" cy="624.33" r="0.50" fill="#8e1515"/>
<circle cx="47.92" cy="624.52" r="0.42" fill="#8e1515"/>
<circle cx="41.95" cy="625.50" r="0.73" fill="#8e1515"/>
<circle cx="45.00" cy="620.64" r="0.57" fill="#8e1515"/>
<circle cx="48.69" cy="625.66" r="0.45" fill="#8e1515"/>
<circle cx="23.26" cy="615.79" r="0.80" fill="#8e1515"/>
<circle cx="23.28" cy="614.54" r="0.86" fill="#8e1515"/>
<circle cx="23.27" cy="615.51" r="0.61" fill="#8e1515"/>
<circle cx="26.07" cy="613.70" r="0.51" fill="#8e1515"/>
<circle cx="26.24" cy="613.63" r="0.69" fill="#8e1515"/>
<circle cx="75.63" cy="615.57" r="0.69" fill="#8e1515"/>
<circle cx="74.39" cy="615.96" r="0.42" fill="#8e1515"/>
<circle cx="78.35" cy="615.64" r="0.62" fill="#8e1515"/>
<circle cx="77.13" cy="614.10" r="0.67" fill="#8e1515"/>
<circle cx="76.34" cy="615.58" r="0.70" fill="#8e1515"/>
<circle cx="74.01" cy="617.50" r="0.91" fill="#8e1515"/>
<circle cx="76.29" cy="617.76" r="0.47" fill="#8e1515"/>
<ellipse cx="52.10" cy="631.7" rx="1.5" ry="1.2" fill="#e8701a"/>
<clipPath id="gclip102"><path d="M155.10,572.00 C153.27,572.00 151.97,570.70 149.60,570.30 C147.23,569.90 144.23,569.40 140.90,569.60 C137.57,569.80 133.15,570.35 129.60,571.50 C126.05,572.65 122.43,574.50 119.60,576.50 C116.77,578.50 114.52,580.75 112.60,583.50 C110.68,586.25 109.13,589.42 108.10,593.00 C107.07,596.58 106.57,601.17 106.40,605.00 C106.23,608.83 106.40,612.50 107.10,616.00 C107.80,619.50 109.10,623.17 110.60,626.00 C112.10,628.83 114.18,631.37 116.10,633.00 C118.02,634.63 120.02,635.47 122.10,635.80 C124.18,636.13 126.68,635.97 128.60,635.00 C130.52,634.03 132.27,631.33 133.60,630.00 C134.93,628.67 135.43,627.25 136.60,627.00 C137.77,626.75 138.93,627.67 140.60,628.50 C142.27,629.33 144.18,631.00 146.60,632.00 C149.02,633.00 152.27,634.50 155.10,634.50 C157.93,634.50 161.18,633.00 163.60,632.00 C166.02,631.00 167.93,629.33 169.60,628.50 C171.27,627.67 172.43,626.75 173.60,627.00 C174.77,627.25 175.27,628.67 176.60,630.00 C177.93,631.33 179.68,634.03 181.60,635.00 C183.52,635.97 186.02,636.13 188.10,635.80 C190.18,635.47 192.18,634.63 194.10,633.00 C196.02,631.37 198.10,628.83 199.60,626.00 C201.10,623.17 202.40,619.50 203.10,616.00 C203.80,612.50 203.97,608.83 203.80,605.00 C203.63,601.17 203.13,596.58 202.10,593.00 C201.07,589.42 199.52,586.25 197.60,583.50 C195.68,580.75 193.43,578.50 190.60,576.50 C187.77,574.50 184.15,572.65 180.60,571.50 C177.05,570.35 172.63,569.80 169.30,569.60 C165.97,569.40 162.97,569.90 160.60,570.30 C158.23,570.70 156.93,572.00 155.10,572.00 Z"/></clipPath>
<path d="M155.10,572.00 C153.27,572.00 151.97,570.70 149.60,570.30 C147.23,569.90 144.23,569.40 140.90,569.60 C137.57,569.80 133.15,570.35 129.60,571.50 C126.05,572.65 122.43,574.50 119.60,576.50 C116.77,578.50 114.52,580.75 112.60,583.50 C110.68,586.25 109.13,589.42 108.10,593.00 C107.07,596.58 106.57,601.17 106.40,605.00 C106.23,608.83 106.40,612.50 107.10,616.00 C107.80,619.50 109.10,623.17 110.60,626.00 C112.10,628.83 114.18,631.37 116.10,633.00 C118.02,634.63 120.02,635.47 122.10,635.80 C124.18,636.13 126.68,635.97 128.60,635.00 C130.52,634.03 132.27,631.33 133.60,630.00 C134.93,628.67 135.43,627.25 136.60,627.00 C137.77,626.75 138.93,627.67 140.60,628.50 C142.27,629.33 144.18,631.00 146.60,632.00 C149.02,633.00 152.27,634.50 155.10,634.50 C157.93,634.50 161.18,633.00 163.60,632.00 C166.02,631.00 167.93,629.33 169.60,628.50 C171.27,627.67 172.43,626.75 173.60,627.00 C174.77,627.25 175.27,628.67 176.60,630.00 C177.93,631.33 179.68,634.03 181.60,635.00 C183.52,635.97 186.02,636.13 188.10,635.80 C190.18,635.47 192.18,634.63 194.10,633.00 C196.02,631.37 198.10,628.83 199.60,626.00 C201.10,623.17 202.40,619.50 203.10,616.00 C203.80,612.50 203.97,608.83 203.80,605.00 C203.63,601.17 203.13,596.58 202.10,593.00 C201.07,589.42 199.52,586.25 197.60,583.50 C195.68,580.75 193.43,578.50 190.60,576.50 C187.77,574.50 184.15,572.65 180.60,571.50 C177.05,570.35 172.63,569.80 169.30,569.60 C165.97,569.40 162.97,569.90 160.60,570.30 C158.23,570.70 156.93,572.00 155.10,572.00 Z" fill="#d3d3d3" filter="url(#blur05)"/>
<g clip-path="url(#gclip102)">
<ellipse cx="117.10" cy="620" rx="9" ry="14" fill="#dcdcdc" filter="url(#blur2)"/>
<ellipse cx="193.10" cy="620" rx="9" ry="14" fill="#dcdcdc" filter="url(#blur2)"/>
<path d="M108.10,606 C108.10,585 122.10,574.5 153.10,575 M202.10,606 C202.10,585 188.10,574.5 157.10,575" stroke="#c3c3c3" stroke-width="11" fill="none" filter="url(#blur2)"/>
<path d="M119.10,600 C120.10,588 129.10,582.5 155.10,582.5 C181.10,582.5 190.10,588 191.10,600" stroke="#dadada" stroke-width="2" fill="none" filter="url(#blur05)"/>
<ellipse cx="155.10" cy="606" rx="25" ry="17" fill="#cecece" filter="url(#blur2)"/>
<ellipse cx="155.10" cy="627" rx="9" ry="7" fill="#d4d4d4" filter="url(#blur2)"/>
</g>
<ellipse cx="148.10" cy="588" rx="6.6" ry="4" fill="#e2e2e2" stroke="#cfcfcf" stroke-width="0.4" filter="url(#blur05)"/>
<ellipse cx="162.10" cy="588" rx="6.6" ry="4" fill="#e2e2e2" stroke="#cfcfcf" stroke-width="0.4" filter="url(#blur05)"/>
<path d="M131.60,585 L139.60,584.6 L139.60,590.3 L134.00,596.5 L131.60,596 Z" fill="#fcfcfc" filter="url(#blur05)"/>
<path d="M178.60,585 L170.60,584.6 L170.60,590.3 L176.20,596.5 L178.60,596 Z" fill="#fcfcfc" filter="url(#blur05)"/>
<path d="M151.10,590 L159.10,590 L156.60,597.5 L153.60,597.5 Z" fill="#f6f6f6" filter="url(#blur05)"/>
<path d="M130.60,612.5 L125.10,613 L123.60,617 L126.10,621.5 L131.60,620 L132.60,616 Z" fill="#e2e2e2" stroke="#444" stroke-width="0.45"/>
<path d="M179.60,612.5 L185.10,613 L186.60,617 L184.10,621.5 L178.60,620 L177.60,616 Z" fill="#e2e2e2" stroke="#444" stroke-width="0.45"/>
<circle cx="108.48" cy="611.78" r="0.67" fill="#8e1515"/>
<circle cx="115.34" cy="610.49" r="0.51" fill="#8e1515"/>
<circle cx="113.93" cy="622.80" r="0.68" fill="#8e1515"/>
<circle cx="110.29" cy="604.07" r="0.66" fill="#8e1515"/>
<circle cx="118.20" cy="616.68" r="0.39" fill="#8e1515"/>
<circle cx="116.13" cy="608.85" r="0.75" fill="#8e1515"/>
<circle cx="121.27" cy="615.21" r="0.49" fill="#8e1515"/>
<circle cx="108.51" cy="617.50" r="0.31" fill="#8e1515"/>
<circle cx="122.95" cy="615.25" r="0.58" fill="#8e1515"/>
<circle cx="122.60" cy="618.04" r="0.82" fill="#8e1515"/>
<circle cx="118.85" cy="615.34" r="0.37" fill="#8e1515"/>
<circle cx="112.63" cy="619.93" r="0.39" fill="#8e1515"/>
<circle cx="114.73" cy="608.23" r="0.39" fill="#8e1515"/>
<circle cx="117.00" cy="602.76" r="0.53" fill="#8e1515"/>
<circle cx="110.69" cy="604.94" r="0.51" fill="#8e1515"/>
<circle cx="122.16" cy="612.28" r="0.83" fill="#8e1515"/>
<circle cx="121.78" cy="608.33" r="0.50" fill="#8e1515"/>
<circle cx="110.57" cy="618.77" r="0.67" fill="#8e1515"/>
<circle cx="117.57" cy="613.57" r="0.50" fill="#8e1515"/>
<circle cx="107.35" cy="609.08" r="0.58" fill="#8e1515"/>
<circle cx="122.83" cy="612.30" r="0.54" fill="#8e1515"/>
<circle cx="111.98" cy="609.38" r="0.53" fill="#8e1515"/>
<circle cx="109.37" cy="618.08" r="0.36" fill="#8e1515"/>
<circle cx="112.54" cy="608.62" r="0.68" fill="#8e1515"/>
<circle cx="118.66" cy="611.40" r="0.49" fill="#8e1515"/>
<circle cx="114.36" cy="608.56" r="0.55" fill="#8e1515"/>
<circle cx="116.05" cy="615.98" r="0.56" fill="#8e1515"/>
<circle cx="120.31" cy="607.70" r="0.83" fill="#8e1515"/>
<circle cx="119.32" cy="622.33" r="0.50" fill="#8e1515"/>
<circle cx="117.84" cy="621.37" r="0.80" fill="#8e1515"/>
<circle cx="118.68" cy="610.25" r="0.72" fill="#8e1515"/>
<circle cx="113.28" cy="614.65" r="0.30" fill="#8e1515"/>
<circle cx="121.33" cy="612.67" r="0.84" fill="#8e1515"/>
<circle cx="120.67" cy="609.91" r="0.31" fill="#8e1515"/>
<circle cx="111.75" cy="621.40" r="0.76" fill="#8e1515"/>
<circle cx="113.04" cy="605.89" r="0.59" fill="#8e1515"/>
<circle cx="108.67" cy="611.53" r="0.44" fill="#8e1515"/>
<circle cx="122.96" cy="605.44" r="0.39" fill="#8e1515"/>
<circle cx="113.00" cy="623.18" r="0.45" fill="#8e1515"/>
<circle cx="120.41" cy="606.74" r="0.68" fill="#8e1515"/>
<circle cx="114.24" cy="605.11" r="0.46" fill="#8e1515"/>
<circle cx="114.89" cy="621.48" r="0.68" fill="#8e1515"/>
<circle cx="120.70" cy="620.15" r="0.53" fill="#8e1515"/>
<circle cx="115.38" cy="618.37" r="0.84" fill="#8e1515"/>
<circle cx="109.08" cy="606.03" r="0.81" fill="#8e1515"/>
<circle cx="122.32" cy="607.07" r="0.53" fill="#8e1515"/>
<circle cx="107.99" cy="602.65" r="0.73" fill="#8e1515"/>
<circle cx="111.34" cy="606.55" r="0.50" fill="#8e1515"/>
<circle cx="114.56" cy="600.00" r="0.31" fill="#8e1515"/>
<circle cx="113.02" cy="596.46" r="0.74" fill="#8e1515"/>
<circle cx="121.84" cy="601.56" r="0.59" fill="#8e1515"/>
<circle cx="116.21" cy="602.62" r="0.35" fill="#8e1515"/>
<circle cx="112.70" cy="615.29" r="0.81" fill="#8e1515"/>
<circle cx="112.91" cy="600.94" r="0.64" fill="#8e1515"/>
<circle cx="119.21" cy="616.83" r="0.69" fill="#8e1515"/>
<circle cx="112.45" cy="613.47" r="0.52" fill="#8e1515"/>
<circle cx="112.02" cy="620.30" r="0.38" fill="#8e1515"/>
<circle cx="118.46" cy="613.58" r="0.68" fill="#8e1515"/>
<circle cx="115.51" cy="598.81" r="0.81" fill="#8e1515"/>
<circle cx="114.59" cy="610.96" r="0.57" fill="#8e1515"/>
<circle cx="112.56" cy="611.56" r="0.67" fill="#8e1515"/>
<circle cx="113.31" cy="614.62" r="0.48" fill="#8e1515"/>
<circle cx="115.38" cy="609.83" r="0.50" fill="#8e1515"/>
<circle cx="114.56" cy="614.80" r="0.54" fill="#8e1515"/>
<circle cx="116.67" cy="623.89" r="0.58" fill="#8e1515"/>
<circle cx="114.29" cy="606.02" r="0.56" fill="#8e1515"/>
<circle cx="108.84" cy="601.74" r="0.44" fill="#8e1515"/>
<circle cx="107.29" cy="613.37" r="0.76" fill="#8e1515"/>
<circle cx="115.92" cy="619.62" r="0.72" fill="#8e1515"/>
<circle cx="109.70" cy="616.95" r="0.66" fill="#8e1515"/>
<circle cx="126.66" cy="608.97" r="0.81" fill="#8e1515"/>
<circle cx="118.79" cy="615.85" r="0.59" fill="#8e1515"/>
<circle cx="118.67" cy="610.00" r="0.58" fill="#8e1515"/>
<circle cx="123.72" cy="612.39" r="0.73" fill="#8e1515"/>
<circle cx="122.09" cy="611.04" r="0.88" fill="#8e1515"/>
<circle cx="120.62" cy="618.38" r="0.76" fill="#8e1515"/>
<circle cx="117.22" cy="615.25" r="0.94" fill="#8e1515"/>
<circle cx="121.39" cy="611.90" r="0.78" fill="#8e1515"/>
<circle cx="124.82" cy="604.69" r="0.87" fill="#8e1515"/>
<circle cx="117.84" cy="613.36" r="0.56" fill="#8e1515"/>
<circle cx="119.14" cy="612.52" r="0.63" fill="#8e1515"/>
<circle cx="117.24" cy="614.57" r="0.50" fill="#8e1515"/>
<circle cx="122.85" cy="613.32" r="0.98" fill="#8e1515"/>
<circle cx="121.21" cy="609.84" r="0.90" fill="#8e1515"/>
<circle cx="126.37" cy="604.40" r="0.62" fill="#8e1515"/>
<circle cx="121.81" cy="606.09" r="0.48" fill="#8e1515"/>
<circle cx="126.18" cy="604.07" r="0.53" fill="#8e1515"/>
<circle cx="122.48" cy="609.54" r="0.59" fill="#8e1515"/>
<circle cx="124.13" cy="610.21" r="0.50" fill="#8e1515"/>
<circle cx="121.46" cy="606.24" r="0.51" fill="#8e1515"/>
<circle cx="123.35" cy="613.65" r="0.92" fill="#8e1515"/>
<circle cx="120.99" cy="608.86" r="0.81" fill="#8e1515"/>
<circle cx="118.21" cy="608.84" r="0.72" fill="#8e1515"/>
<circle cx="118.62" cy="603.73" r="0.70" fill="#8e1515"/>
<circle cx="119.39" cy="606.02" r="0.78" fill="#8e1515"/>
<circle cx="119.21" cy="613.13" r="0.71" fill="#8e1515"/>
<circle cx="121.48" cy="606.41" r="0.95" fill="#8e1515"/>
<circle cx="115.83" cy="610.43" r="0.81" fill="#8e1515"/>
<circle cx="127.26" cy="608.13" r="0.66" fill="#8e1515"/>
<circle cx="118.00" cy="613.54" r="0.85" fill="#8e1515"/>
<circle cx="122.99" cy="608.18" r="0.44" fill="#8e1515"/>
<circle cx="123.06" cy="611.00" r="0.43" fill="#8e1515"/>
<circle cx="124.75" cy="610.18" r="0.47" fill="#8e1515"/>
<circle cx="120.13" cy="604.11" r="0.98" fill="#8e1515"/>
<circle cx="127.63" cy="608.20" r="0.97" fill="#8e1515"/>
<circle cx="124.55" cy="610.56" r="0.96" fill="#8e1515"/>
<circle cx="119.81" cy="610.46" r="0.85" fill="#8e1515"/>
<circle cx="118.05" cy="612.71" r="0.59" fill="#8e1515"/>
<circle cx="122.17" cy="611.63" r="0.76" fill="#8e1515"/>
<circle cx="128.73" cy="607.39" r="0.86" fill="#8e1515"/>
<circle cx="125.24" cy="608.20" r="0.58" fill="#8e1515"/>
<circle cx="126.44" cy="607.09" r="0.80" fill="#8e1515"/>
<circle cx="124.58" cy="610.25" r="0.69" fill="#8e1515"/>
<circle cx="121.37" cy="602.18" r="0.85" fill="#8e1515"/>
<circle cx="120.19" cy="613.88" r="0.92" fill="#8e1515"/>
<circle cx="126.31" cy="609.64" r="0.52" fill="#8e1515"/>
<circle cx="118.89" cy="605.90" r="0.62" fill="#8e1515"/>
<circle cx="122.54" cy="614.58" r="0.77" fill="#8e1515"/>
<circle cx="125.28" cy="614.19" r="0.97" fill="#8e1515"/>
<circle cx="122.01" cy="606.57" r="0.65" fill="#8e1515"/>
<circle cx="126.62" cy="614.36" r="0.78" fill="#8e1515"/>
<circle cx="124.24" cy="615.23" r="0.76" fill="#8e1515"/>
<circle cx="118.96" cy="607.88" r="0.59" fill="#8e1515"/>
<circle cx="117.82" cy="617.10" r="0.60" fill="#8e1515"/>
<circle cx="118.04" cy="609.92" r="0.50" fill="#8e1515"/>
<circle cx="120.23" cy="611.75" r="0.59" fill="#8e1515"/>
<circle cx="119.85" cy="613.20" r="0.96" fill="#8e1515"/>
<circle cx="121.16" cy="613.98" r="0.79" fill="#8e1515"/>
<circle cx="118.58" cy="613.41" r="0.79" fill="#8e1515"/>
<circle cx="126.84" cy="613.04" r="0.46" fill="#8e1515"/>
<circle cx="194.09" cy="623.94" r="0.84" fill="#8e1515"/>
<circle cx="192.76" cy="607.12" r="0.54" fill="#8e1515"/>
<circle cx="192.30" cy="624.01" r="0.43" fill="#8e1515"/>
<circle cx="196.52" cy="621.33" r="0.65" fill="#8e1515"/>
<circle cx="189.05" cy="606.21" r="0.83" fill="#8e1515"/>
<circle cx="184.87" cy="614.70" r="0.52" fill="#8e1515"/>
<circle cx="189.33" cy="612.58" r="0.69" fill="#8e1515"/>
<circle cx="194.13" cy="605.49" r="0.59" fill="#8e1515"/>
<circle cx="193.19" cy="601.85" r="0.66" fill="#8e1515"/>
<circle cx="188.21" cy="603.10" r="0.50" fill="#8e1515"/>
<circle cx="193.84" cy="612.05" r="0.79" fill="#8e1515"/>
<circle cx="195.38" cy="603.48" r="0.83" fill="#8e1515"/>
<circle cx="196.28" cy="608.70" r="0.76" fill="#8e1515"/>
<circle cx="190.19" cy="614.18" r="0.44" fill="#8e1515"/>
<circle cx="193.02" cy="611.97" r="0.33" fill="#8e1515"/>
<circle cx="197.35" cy="615.40" r="0.39" fill="#8e1515"/>
<circle cx="200.44" cy="620.14" r="0.51" fill="#8e1515"/>
<circle cx="187.11" cy="611.64" r="0.81" fill="#8e1515"/>
<circle cx="196.26" cy="615.23" r="0.77" fill="#8e1515"/>
<circle cx="202.12" cy="603.32" r="0.59" fill="#8e1515"/>
<circle cx="192.01" cy="614.46" r="0.80" fill="#8e1515"/>
<circle cx="194.73" cy="601.15" r="0.74" fill="#8e1515"/>
<circle cx="193.67" cy="620.64" r="0.80" fill="#8e1515"/>
<circle cx="199.64" cy="617.75" r="0.40" fill="#8e1515"/>
<circle cx="198.73" cy="599.70" r="0.65" fill="#8e1515"/>
<circle cx="193.47" cy="611.40" r="0.57" fill="#8e1515"/>
<circle cx="190.76" cy="617.11" r="0.34" fill="#8e1515"/>
<circle cx="199.66" cy="606.43" r="0.61" fill="#8e1515"/>
<circle cx="199.17" cy="599.38" r="0.60" fill="#8e1515"/>
<circle cx="185.53" cy="607.36" r="0.50" fill="#8e1515"/>
<circle cx="194.70" cy="610.35" r="0.74" fill="#8e1515"/>
<circle cx="187.03" cy="609.13" r="0.84" fill="#8e1515"/>
<circle cx="195.10" cy="618.86" r="0.74" fill="#8e1515"/>
<circle cx="193.97" cy="601.46" r="0.73" fill="#8e1515"/>
<circle cx="190.10" cy="598.80" r="0.66" fill="#8e1515"/>
<circle cx="191.38" cy="615.74" r="0.35" fill="#8e1515"/>
<circle cx="194.88" cy="612.15" r="0.84" fill="#8e1515"/>
<circle cx="198.55" cy="619.14" r="0.37" fill="#8e1515"/>
<circle cx="200.39" cy="608.96" r="0.40" fill="#8e1515"/>
<circle cx="198.27" cy="599.03" r="0.84" fill="#8e1515"/>
<circle cx="194.98" cy="618.82" r="0.66" fill="#8e1515"/>
<circle cx="192.73" cy="620.90" r="0.69" fill="#8e1515"/>
<circle cx="194.18" cy="597.90" r="0.71" fill="#8e1515"/>
<circle cx="192.29" cy="623.02" r="0.54" fill="#8e1515"/>
<circle cx="194.42" cy="611.87" r="0.64" fill="#8e1515"/>
<circle cx="192.90" cy="613.23" r="0.57" fill="#8e1515"/>
<circle cx="190.18" cy="614.48" r="0.61" fill="#8e1515"/>
<circle cx="187.88" cy="608.68" r="0.84" fill="#8e1515"/>
<circle cx="197.65" cy="607.37" r="0.78" fill="#8e1515"/>
<circle cx="190.30" cy="624.15" r="0.33" fill="#8e1515"/>
<circle cx="190.15" cy="623.99" r="0.66" fill="#8e1515"/>
<circle cx="193.21" cy="606.25" r="0.37" fill="#8e1515"/>
<circle cx="195.54" cy="610.44" r="0.40" fill="#8e1515"/>
<circle cx="186.21" cy="616.49" r="0.67" fill="#8e1515"/>
<circle cx="202.50" cy="610.87" r="0.54" fill="#8e1515"/>
<circle cx="197.90" cy="607.46" r="0.33" fill="#8e1515"/>
<circle cx="202.96" cy="607.53" r="0.66" fill="#8e1515"/>
<circle cx="190.84" cy="611.62" r="0.42" fill="#8e1515"/>
<circle cx="195.84" cy="612.18" r="0.56" fill="#8e1515"/>
<circle cx="201.67" cy="602.34" r="0.58" fill="#8e1515"/>
<circle cx="191.38" cy="603.18" r="0.73" fill="#8e1515"/>
<circle cx="191.42" cy="596.72" r="0.77" fill="#8e1515"/>
<circle cx="191.07" cy="601.67" r="0.39" fill="#8e1515"/>
<circle cx="188.49" cy="612.52" r="0.38" fill="#8e1515"/>
<circle cx="195.71" cy="618.69" r="0.40" fill="#8e1515"/>
<circle cx="190.84" cy="606.17" r="0.84" fill="#8e1515"/>
<circle cx="191.57" cy="602.35" r="0.54" fill="#8e1515"/>
<circle cx="191.58" cy="614.06" r="0.83" fill="#8e1515"/>
<circle cx="200.43" cy="605.27" r="0.66" fill="#8e1515"/>
<circle cx="198.12" cy="618.68" r="0.39" fill="#8e1515"/>
<circle cx="185.93" cy="615.54" r="0.50" fill="#8e1515"/>
<circle cx="188.69" cy="617.18" r="0.69" fill="#8e1515"/>
<circle cx="189.59" cy="608.41" r="0.45" fill="#8e1515"/>
<circle cx="192.68" cy="607.60" r="0.82" fill="#8e1515"/>
<circle cx="186.37" cy="609.18" r="0.99" fill="#8e1515"/>
<circle cx="181.55" cy="610.24" r="0.49" fill="#8e1515"/>
<circle cx="187.37" cy="615.84" r="0.55" fill="#8e1515"/>
<circle cx="189.84" cy="607.29" r="0.45" fill="#8e1515"/>
<circle cx="189.56" cy="613.09" r="0.97" fill="#8e1515"/>
<circle cx="191.92" cy="605.30" r="0.66" fill="#8e1515"/>
<circle cx="194.04" cy="612.04" r="0.48" fill="#8e1515"/>
<circle cx="189.31" cy="614.78" r="0.92" fill="#8e1515"/>
<circle cx="188.51" cy="611.18" r="0.94" fill="#8e1515"/>
<circle cx="193.73" cy="610.38" r="0.48" fill="#8e1515"/>
<circle cx="187.39" cy="612.85" r="0.66" fill="#8e1515"/>
<circle cx="193.56" cy="606.23" r="0.72" fill="#8e1515"/>
<circle cx="189.87" cy="611.39" r="0.58" fill="#8e1515"/>
<circle cx="189.90" cy="601.86" r="0.42" fill="#8e1515"/>
<circle cx="184.66" cy="617.55" r="0.49" fill="#8e1515"/>
<circle cx="190.53" cy="611.71" r="0.93" fill="#8e1515"/>
<circle cx="187.64" cy="617.14" r="0.47" fill="#8e1515"/>
<circle cx="187.00" cy="607.83" r="0.76" fill="#8e1515"/>
<circle cx="187.80" cy="601.79" r="0.66" fill="#8e1515"/>
<circle cx="191.81" cy="609.54" r="0.97" fill="#8e1515"/>
<circle cx="194.10" cy="605.37" r="0.46" fill="#8e1515"/>
<circle cx="187.30" cy="616.91" r="0.93" fill="#8e1515"/>
<circle cx="187.85" cy="617.48" r="0.69" fill="#8e1515"/>
<circle cx="189.35" cy="610.04" r="0.40" fill="#8e1515"/>
<circle cx="189.00" cy="618.49" r="0.81" fill="#8e1515"/>
<circle cx="192.39" cy="603.58" r="0.64" fill="#8e1515"/>
<circle cx="186.37" cy="603.69" r="0.82" fill="#8e1515"/>
<circle cx="193.48" cy="614.55" r="0.49" fill="#8e1515"/>
<circle cx="183.03" cy="612.33" r="0.85" fill="#8e1515"/>
<circle cx="189.53" cy="606.46" r="0.58" fill="#8e1515"/>
<circle cx="187.98" cy="608.95" r="0.92" fill="#8e1515"/>
<circle cx="186.65" cy="614.29" r="0.59" fill="#8e1515"/>
<circle cx="187.63" cy="607.42" r="0.48" fill="#8e1515"/>
<circle cx="189.64" cy="610.88" r="0.77" fill="#8e1515"/>
<circle cx="188.29" cy="609.98" r="0.68" fill="#8e1515"/>
<circle cx="186.20" cy="613.13" r="0.61" fill="#8e1515"/>
<circle cx="191.09" cy="613.10" r="0.56" fill="#8e1515"/>
<circle cx="189.70" cy="610.81" r="0.96" fill="#8e1515"/>
<circle cx="186.73" cy="601.28" r="0.89" fill="#8e1515"/>
<circle cx="187.92" cy="606.82" r="0.47" fill="#8e1515"/>
<circle cx="193.44" cy="609.31" r="0.83" fill="#8e1515"/>
<circle cx="191.79" cy="616.00" r="0.72" fill="#8e1515"/>
<circle cx="190.10" cy="611.59" r="0.98" fill="#8e1515"/>
<circle cx="187.16" cy="608.83" r="0.45" fill="#8e1515"/>
<circle cx="188.11" cy="605.67" r="0.69" fill="#8e1515"/>
<circle cx="189.46" cy="612.04" r="0.70" fill="#8e1515"/>
<circle cx="186.16" cy="611.22" r="0.49" fill="#8e1515"/>
<circle cx="186.67" cy="610.67" r="0.44" fill="#8e1515"/>
<circle cx="187.24" cy="610.19" r="0.84" fill="#8e1515"/>
<circle cx="188.71" cy="602.99" r="0.97" fill="#8e1515"/>
<circle cx="190.03" cy="614.24" r="0.65" fill="#8e1515"/>
<circle cx="193.76" cy="613.55" r="0.42" fill="#8e1515"/>
<circle cx="193.39" cy="609.27" r="0.99" fill="#8e1515"/>
<circle cx="194.11" cy="613.06" r="0.98" fill="#8e1515"/>
<circle cx="188.94" cy="603.95" r="0.79" fill="#8e1515"/>
<circle cx="181.88" cy="610.92" r="0.75" fill="#8e1515"/>
<circle cx="110.05" cy="624.06" r="0.61" fill="#8e1515"/>
<circle cx="108.18" cy="622.03" r="0.69" fill="#8e1515"/>
<circle cx="110.81" cy="629.18" r="0.42" fill="#8e1515"/>
<circle cx="109.30" cy="625.44" r="0.66" fill="#8e1515"/>
<circle cx="114.51" cy="625.69" r="0.39" fill="#8e1515"/>
<circle cx="111.83" cy="623.81" r="0.58" fill="#8e1515"/>
<circle cx="115.54" cy="622.76" r="0.41" fill="#8e1515"/>
<circle cx="110.46" cy="623.15" r="0.52" fill="#8e1515"/>
<circle cx="115.10" cy="629.13" r="0.47" fill="#8e1515"/>
<circle cx="116.76" cy="624.66" r="0.64" fill="#8e1515"/>
<circle cx="118.38" cy="622.29" r="0.31" fill="#8e1515"/>
<circle cx="114.20" cy="624.46" r="0.77" fill="#8e1515"/>
<circle cx="113.66" cy="622.75" r="0.66" fill="#8e1515"/>
<circle cx="109.92" cy="623.67" r="0.61" fill="#8e1515"/>
<circle cx="108.79" cy="626.21" r="0.65" fill="#8e1515"/>
<circle cx="117.48" cy="625.15" r="0.65" fill="#8e1515"/>
<circle cx="115.69" cy="622.12" r="0.57" fill="#8e1515"/>
<circle cx="114.27" cy="626.51" r="0.75" fill="#8e1515"/>
<circle cx="118.26" cy="627.12" r="0.36" fill="#8e1515"/>
<circle cx="109.89" cy="627.87" r="0.31" fill="#8e1515"/>
<circle cx="189.45" cy="627.68" r="0.49" fill="#8e1515"/>
<circle cx="195.54" cy="626.74" r="0.77" fill="#8e1515"/>
<circle cx="199.29" cy="628.76" r="0.62" fill="#8e1515"/>
<circle cx="194.23" cy="629.92" r="0.64" fill="#8e1515"/>
<circle cx="195.78" cy="628.16" r="0.76" fill="#8e1515"/>
<circle cx="196.21" cy="629.51" r="0.53" fill="#8e1515"/>
<circle cx="196.19" cy="620.70" r="0.68" fill="#8e1515"/>
<circle cx="191.91" cy="623.22" r="0.35" fill="#8e1515"/>
<circle cx="191.62" cy="624.50" r="0.68" fill="#8e1515"/>
<circle cx="193.96" cy="626.97" r="0.49" fill="#8e1515"/>
<circle cx="197.19" cy="622.79" r="0.63" fill="#8e1515"/>
<circle cx="197.38" cy="626.73" r="0.43" fill="#8e1515"/>
<circle cx="193.53" cy="626.13" r="0.77" fill="#8e1515"/>
<circle cx="195.07" cy="626.04" r="0.42" fill="#8e1515"/>
<circle cx="190.11" cy="625.96" r="0.71" fill="#8e1515"/>
<circle cx="200.97" cy="629.04" r="0.73" fill="#8e1515"/>
<circle cx="189.96" cy="625.60" r="0.45" fill="#8e1515"/>
<circle cx="195.27" cy="626.19" r="0.78" fill="#8e1515"/>
<circle cx="198.17" cy="623.83" r="0.60" fill="#8e1515"/>
<circle cx="189.77" cy="626.68" r="0.35" fill="#8e1515"/>
<circle cx="125.16" cy="626.82" r="0.60" fill="#8e1515"/>
<circle cx="119.99" cy="625.52" r="0.61" fill="#8e1515"/>
<circle cx="128.12" cy="631.12" r="0.49" fill="#8e1515"/>
<circle cx="118.79" cy="626.68" r="0.79" fill="#8e1515"/>
<circle cx="128.76" cy="629.40" r="0.46" fill="#8e1515"/>
<circle cx="127.50" cy="626.28" r="0.76" fill="#8e1515"/>
<circle cx="126.28" cy="625.90" r="0.68" fill="#8e1515"/>
<circle cx="124.33" cy="627.19" r="0.45" fill="#8e1515"/>
<circle cx="129.73" cy="630.65" r="0.50" fill="#8e1515"/>
<circle cx="123.12" cy="631.01" r="0.79" fill="#8e1515"/>
<circle cx="129.00" cy="630.39" r="0.41" fill="#8e1515"/>
<circle cx="126.77" cy="624.85" r="0.68" fill="#8e1515"/>
<circle cx="183.50" cy="627.54" r="0.73" fill="#8e1515"/>
<circle cx="189.30" cy="629.75" r="0.78" fill="#8e1515"/>
<circle cx="184.55" cy="630.38" r="0.64" fill="#8e1515"/>
<circle cx="182.89" cy="626.56" r="0.51" fill="#8e1515"/>
<circle cx="190.13" cy="626.08" r="0.39" fill="#8e1515"/>
<circle cx="182.04" cy="624.77" r="0.60" fill="#8e1515"/>
<circle cx="187.59" cy="627.03" r="0.44" fill="#8e1515"/>
<circle cx="187.15" cy="626.85" r="0.36" fill="#8e1515"/>
<circle cx="189.47" cy="630.94" r="0.71" fill="#8e1515"/>
<circle cx="187.18" cy="631.07" r="0.40" fill="#8e1515"/>
<circle cx="184.86" cy="627.89" r="0.59" fill="#8e1515"/>
<circle cx="185.11" cy="625.52" r="0.61" fill="#8e1515"/>
<circle cx="161.94" cy="621.90" r="0.61" fill="#8e1515"/>
<circle cx="146.01" cy="623.81" r="0.54" fill="#8e1515"/>
<circle cx="159.71" cy="610.44" r="0.42" fill="#8e1515"/>
<circle cx="160.94" cy="610.13" r="0.47" fill="#8e1515"/>
<circle cx="153.41" cy="612.71" r="0.53" fill="#8e1515"/>
<circle cx="150.89" cy="623.19" r="0.42" fill="#8e1515"/>
<circle cx="164.05" cy="613.63" r="0.55" fill="#8e1515"/>
<circle cx="145.84" cy="617.17" r="0.37" fill="#8e1515"/>
<circle cx="149.61" cy="613.47" r="0.44" fill="#8e1515"/>
<circle cx="151.26" cy="617.81" r="0.56" fill="#8e1515"/>
<circle cx="156.72" cy="613.15" r="0.36" fill="#8e1515"/>
<circle cx="166.32" cy="616.58" r="0.43" fill="#8e1515"/>
<circle cx="164.24" cy="621.64" r="0.39" fill="#8e1515"/>
<circle cx="165.28" cy="613.28" r="0.41" fill="#8e1515"/>
<circle cx="152.69" cy="619.00" r="0.39" fill="#8e1515"/>
<circle cx="141.41" cy="614.72" r="0.47" fill="#8e1515"/>
<circle cx="161.10" cy="617.10" r="0.34" fill="#8e1515"/>
<circle cx="159.41" cy="613.72" r="0.41" fill="#8e1515"/>
<circle cx="144.44" cy="620.43" r="0.39" fill="#8e1515"/>
<circle cx="163.85" cy="622.32" r="0.56" fill="#8e1515"/>
<circle cx="150.98" cy="616.97" r="0.64" fill="#8e1515"/>
<circle cx="145.67" cy="620.78" r="0.65" fill="#8e1515"/>
<circle cx="161.64" cy="622.56" r="0.47" fill="#8e1515"/>
<circle cx="151.46" cy="615.31" r="0.40" fill="#8e1515"/>
<circle cx="156.64" cy="624.58" r="0.42" fill="#8e1515"/>
<circle cx="139.99" cy="597.60" r="0.59" fill="#8e1515"/>
<circle cx="130.74" cy="602.90" r="0.53" fill="#8e1515"/>
<circle cx="136.28" cy="594.31" r="0.35" fill="#8e1515"/>
<circle cx="135.50" cy="594.42" r="0.46" fill="#8e1515"/>
<circle cx="134.81" cy="600.45" r="0.66" fill="#8e1515"/>
<circle cx="135.16" cy="600.21" r="0.34" fill="#8e1515"/>
<circle cx="170.53" cy="599.56" r="0.66" fill="#8e1515"/>
<circle cx="174.48" cy="598.96" r="0.67" fill="#8e1515"/>
<circle cx="178.67" cy="596.27" r="0.66" fill="#8e1515"/>
<circle cx="177.45" cy="596.05" r="0.61" fill="#8e1515"/>
<circle cx="181.00" cy="600.85" r="0.30" fill="#8e1515"/>
<circle cx="171.49" cy="601.83" r="0.50" fill="#8e1515"/>
<ellipse cx="127.50" cy="618.5" rx="2.9000000000000004" ry="5.5" fill="#a01810" filter="url(#blur05)" transform="rotate(-20 127.50 618.5)"/>
<ellipse cx="127.50" cy="618.5" rx="1.6" ry="4.2" fill="#ee7a20" filter="url(#blur05)" transform="rotate(-20 127.50 618.5)"/>
<ellipse cx="127.50" cy="618.2" rx="0.8800000000000001" ry="2.1" fill="#fff0c0" filter="url(#blur05)" transform="rotate(-20 127.50 618.5)"/>
<ellipse cx="183.30" cy="618.5" rx="2.9000000000000004" ry="5.5" fill="#a01810" filter="url(#blur05)" transform="rotate(20 183.30 618.5)"/>
<ellipse cx="183.30" cy="618.5" rx="1.6" ry="4.2" fill="#ee7a20" filter="url(#blur05)" transform="rotate(20 183.30 618.5)"/>
<ellipse cx="183.30" cy="618.2" rx="0.8800000000000001" ry="2.1" fill="#fff0c0" filter="url(#blur05)" transform="rotate(20 183.30 618.5)"/>
<path d="M152.60,598.8 L157.60,598.8 L155.10,602.5 Z" fill="#d4501a"/>
<ellipse cx="154.10" cy="631.7" rx="1.8" ry="1.2" fill="#d8501a"/>
<path d="M256.70,603.00 C255.37,601.58 254.70,597.00 254.70,594.00 C254.70,591.00 255.62,587.42 256.70,585.00 C257.78,582.58 259.53,581.00 261.20,579.50 C262.87,578.00 264.70,576.87 266.70,576.00 C268.70,575.13 271.03,574.60 273.20,574.30 C275.37,574.00 278.53,573.58 279.70,574.20 C280.87,574.82 280.87,576.78 280.20,578.00 C279.53,579.22 277.37,580.17 275.70,581.50 C274.03,582.83 271.70,583.75 270.20,586.00 C268.70,588.25 267.95,592.25 266.70,595.00 C265.45,597.75 264.37,601.17 262.70,602.50 C261.03,603.83 258.03,604.42 256.70,603.00 Z" fill="#dddddd" filter="url(#blur05)"/>
<path d="M337.70,603.00 C339.03,601.58 339.70,597.00 339.70,594.00 C339.70,591.00 338.78,587.42 337.70,585.00 C336.62,582.58 334.87,581.00 333.20,579.50 C331.53,578.00 329.70,576.87 327.70,576.00 C325.70,575.13 323.37,574.60 321.20,574.30 C319.03,574.00 315.87,573.58 314.70,574.20 C313.53,574.82 313.53,576.78 314.20,578.00 C314.87,579.22 317.03,580.17 318.70,581.50 C320.37,582.83 322.70,583.75 324.20,586.00 C325.70,588.25 326.45,592.25 327.70,595.00 C328.95,597.75 330.03,601.17 331.70,602.50 C333.37,603.83 336.37,604.42 337.70,603.00 Z" fill="#dddddd" filter="url(#blur05)"/>
<ellipse cx="256.70" cy="620" rx="4.1" ry="6.2" fill="#e8e8e8" filter="url(#blur1)"/>
<ellipse cx="337.70" cy="620" rx="4.1" ry="6.2" fill="#e8e8e8" filter="url(#blur1)"/>
<path d="M297.20,605.00 C293.20,605.00 289.20,603.58 285.20,603.50 C281.20,603.42 276.53,603.92 273.20,604.50 C269.87,605.08 267.20,605.58 265.20,607.00 C263.20,608.42 261.70,610.67 261.20,613.00 C260.70,615.33 261.20,618.50 262.20,621.00 C263.20,623.50 264.70,626.08 267.20,628.00 C269.70,629.92 273.53,631.62 277.20,632.50 C280.87,633.38 285.87,633.38 289.20,633.30 C292.53,633.22 294.53,632.00 297.20,632.00 C299.87,632.00 301.87,633.22 305.20,633.30 C308.53,633.38 313.53,633.38 317.20,632.50 C320.87,631.62 324.70,629.92 327.20,628.00 C329.70,626.08 331.20,623.50 332.20,621.00 C333.20,618.50 333.70,615.33 333.20,613.00 C332.70,610.67 331.20,608.42 329.20,607.00 C327.20,605.58 324.53,605.08 321.20,604.50 C317.87,603.92 313.20,603.42 309.20,603.50 C305.20,603.58 301.20,605.00 297.20,605.00 Z" fill="#d3d3d3" filter="url(#blur05)"/>
<ellipse cx="281.20" cy="624" rx="11" ry="8" fill="#c9c9c9" filter="url(#blur2)"/>
<ellipse cx="267.20" cy="617" rx="5" ry="8" fill="#dedede" filter="url(#blur2)"/>
<ellipse cx="313.20" cy="624" rx="11" ry="8" fill="#c9c9c9" filter="url(#blur2)"/>
<ellipse cx="327.20" cy="617" rx="5" ry="8" fill="#dedede" filter="url(#blur2)"/>
<ellipse cx="273.20" cy="600.5" rx="5.5" ry="8" fill="#d6d6d6" filter="url(#blur1)"/>
<ellipse cx="321.20" cy="600.5" rx="5.5" ry="8" fill="#d6d6d6" filter="url(#blur1)"/>
<ellipse cx="297.20" cy="592" rx="20.5" ry="12.5" fill="#d2d2d2" filter="url(#blur05)"/>
<ellipse cx="285.20" cy="589.5" rx="7.5" ry="8.5" fill="#b6b6b6" filter="url(#blur2)"/>
<ellipse cx="309.20" cy="589.5" rx="7.5" ry="8.5" fill="#b6b6b6" filter="url(#blur2)"/>
<ellipse cx="297.20" cy="583" rx="8" ry="3.5" fill="#d8d8d8" filter="url(#blur1)"/>
<path d="M296.40,592 L300.40,598 L296.40,604 L292.60,598 Z" fill="#f4f4f4" filter="url(#blur1)"/>
<ellipse cx="296.40" cy="598" rx="2.4" ry="3.8" fill="#ffffff" filter="url(#blur05)"/>
<line x1="297.20" y1="601" x2="297.20" y2="632" stroke="#e2e2e2" stroke-width="0.8"/>
<ellipse cx="282.70" cy="607.3" rx="2.6" ry="3.8" fill="#ececec" stroke="#444" stroke-width="0.45" transform="rotate(40 282.70 607.3)"/>
<ellipse cx="311.70" cy="607.3" rx="2.6" ry="3.8" fill="#ececec" stroke="#444" stroke-width="0.45" transform="rotate(-40 311.70 607.3)"/>
<circle cx="282.77" cy="589.98" r="0.75" fill="#8e1515"/>
<circle cx="279.84" cy="586.27" r="0.84" fill="#8e1515"/>
<circle cx="282.09" cy="582.49" r="0.68" fill="#8e1515"/>
<circle cx="281.21" cy="586.11" r="0.60" fill="#8e1515"/>
<circle cx="280.67" cy="585.53" r="0.84" fill="#8e1515"/>
<circle cx="313.36" cy="588.15" r="0.42" fill="#8e1515"/>
<circle cx="316.44" cy="585.92" r="0.88" fill="#8e1515"/>
<circle cx="312.92" cy="585.63" r="0.58" fill="#8e1515"/>
<circle cx="312.32" cy="586.02" r="0.92" fill="#8e1515"/>
<circle cx="312.47" cy="587.20" r="0.85" fill="#8e1515"/>
<circle cx="315.89" cy="590.02" r="0.65" fill="#8e1515"/>
<circle cx="272.96" cy="620.09" r="0.67" fill="#8e1515"/>
<circle cx="275.39" cy="621.55" r="0.88" fill="#8e1515"/>
<circle cx="275.60" cy="626.02" r="0.51" fill="#8e1515"/>
<circle cx="279.73" cy="619.92" r="0.82" fill="#8e1515"/>
<circle cx="275.47" cy="616.91" r="0.80" fill="#8e1515"/>
<circle cx="277.34" cy="623.48" r="0.85" fill="#8e1515"/>
<circle cx="319.92" cy="626.41" r="0.89" fill="#8e1515"/>
<circle cx="315.70" cy="622.59" r="0.65" fill="#8e1515"/>
<circle cx="313.70" cy="624.93" r="0.61" fill="#8e1515"/>
<circle cx="319.32" cy="621.19" r="0.79" fill="#8e1515"/>
<circle cx="321.87" cy="620.83" r="0.67" fill="#8e1515"/>
<circle cx="313.55" cy="619.47" r="0.52" fill="#8e1515"/>
<circle cx="315.12" cy="618.48" r="0.74" fill="#8e1515"/>
<circle cx="318.93" cy="622.57" r="0.59" fill="#8e1515"/>
<circle cx="320.76" cy="619.74" r="0.73" fill="#8e1515"/>
<circle cx="296.35" cy="621.53" r="0.44" fill="#8e1515"/>
<circle cx="301.12" cy="613.82" r="0.61" fill="#8e1515"/>
<circle cx="293.49" cy="614.44" r="0.89" fill="#8e1515"/>
<circle cx="303.38" cy="618.89" r="0.94" fill="#8e1515"/>
<circle cx="305.26" cy="618.67" r="0.89" fill="#8e1515"/>
<circle cx="291.16" cy="620.23" r="0.54" fill="#8e1515"/>
<circle cx="299.59" cy="618.43" r="0.44" fill="#8e1515"/>
<circle cx="300.61" cy="613.71" r="0.67" fill="#8e1515"/>
<ellipse cx="266.70" cy="621.5" rx="1.8" ry="1.7" fill="#b83010"/>
<ellipse cx="266.70" cy="621.5" rx="0.8" ry="0.7" fill="#ffb040"/>
<circle cx="267.33" cy="617.68" r="0.54" fill="#8e1515"/>
<circle cx="266.93" cy="619.58" r="0.49" fill="#8e1515"/>
<circle cx="268.05" cy="618.59" r="0.89" fill="#8e1515"/>
<circle cx="268.82" cy="617.75" r="0.66" fill="#8e1515"/>
<path d="M362.40,603.00 C361.07,601.58 360.40,597.00 360.40,594.00 C360.40,591.00 361.32,587.42 362.40,585.00 C363.48,582.58 365.23,581.00 366.90,579.50 C368.57,578.00 370.40,576.87 372.40,576.00 C374.40,575.13 376.73,574.60 378.90,574.30 C381.07,574.00 384.23,573.58 385.40,574.20 C386.57,574.82 386.57,576.78 385.90,578.00 C385.23,579.22 383.07,580.17 381.40,581.50 C379.73,582.83 377.40,583.75 375.90,586.00 C374.40,588.25 373.65,592.25 372.40,595.00 C371.15,597.75 370.07,601.17 368.40,602.50 C366.73,603.83 363.73,604.42 362.40,603.00 Z" fill="#dddddd" filter="url(#blur05)"/>
<path d="M443.40,603.00 C444.73,601.58 445.40,597.00 445.40,594.00 C445.40,591.00 444.48,587.42 443.40,585.00 C442.32,582.58 440.57,581.00 438.90,579.50 C437.23,578.00 435.40,576.87 433.40,576.00 C431.40,575.13 429.07,574.60 426.90,574.30 C424.73,574.00 421.57,573.58 420.40,574.20 C419.23,574.82 419.23,576.78 419.90,578.00 C420.57,579.22 422.73,580.17 424.40,581.50 C426.07,582.83 428.40,583.75 429.90,586.00 C431.40,588.25 432.15,592.25 433.40,595.00 C434.65,597.75 435.73,601.17 437.40,602.50 C439.07,603.83 442.07,604.42 443.40,603.00 Z" fill="#dddddd" filter="url(#blur05)"/>
<ellipse cx="362.40" cy="620" rx="4.1" ry="6.2" fill="#e8e8e8" filter="url(#blur1)"/>
<ellipse cx="443.40" cy="620" rx="4.1" ry="6.2" fill="#e8e8e8" filter="url(#blur1)"/>
<path d="M402.90,605.00 C398.90,605.00 394.90,603.58 390.90,603.50 C386.90,603.42 382.23,603.92 378.90,604.50 C375.57,605.08 372.90,605.58 370.90,607.00 C368.90,608.42 367.40,610.67 366.90,613.00 C366.40,615.33 366.90,618.50 367.90,621.00 C368.90,623.50 370.40,626.08 372.90,628.00 C375.40,629.92 379.23,631.62 382.90,632.50 C386.57,633.38 391.57,633.38 394.90,633.30 C398.23,633.22 400.23,632.00 402.90,632.00 C405.57,632.00 407.57,633.22 410.90,633.30 C414.23,633.38 419.23,633.38 422.90,632.50 C426.57,631.62 430.40,629.92 432.90,628.00 C435.40,626.08 436.90,623.50 437.90,621.00 C438.90,618.50 439.40,615.33 438.90,613.00 C438.40,610.67 436.90,608.42 434.90,607.00 C432.90,605.58 430.23,605.08 426.90,604.50 C423.57,603.92 418.90,603.42 414.90,603.50 C410.90,603.58 406.90,605.00 402.90,605.00 Z" fill="#d3d3d3" filter="url(#blur05)"/>
<ellipse cx="386.90" cy="624" rx="11" ry="8" fill="#c9c9c9" filter="url(#blur2)"/>
<ellipse cx="372.90" cy="617" rx="5" ry="8" fill="#dedede" filter="url(#blur2)"/>
<ellipse cx="418.90" cy="624" rx="11" ry="8" fill="#c9c9c9" filter="url(#blur2)"/>
<ellipse cx="432.90" cy="617" rx="5" ry="8" fill="#dedede" filter="url(#blur2)"/>
<ellipse cx="378.90" cy="600.5" rx="5.5" ry="8" fill="#d6d6d6" filter="url(#blur1)"/>
<ellipse cx="426.90" cy="600.5" rx="5.5" ry="8" fill="#d6d6d6" filter="url(#blur1)"/>
<ellipse cx="402.90" cy="592" rx="20.5" ry="12.5" fill="#d2d2d2" filter="url(#blur05)"/>
<ellipse cx="390.90" cy="589.5" rx="7.5" ry="8.5" fill="#b6b6b6" filter="url(#blur2)"/>
<ellipse cx="414.90" cy="589.5" rx="7.5" ry="8.5" fill="#b6b6b6" filter="url(#blur2)"/>
<ellipse cx="402.90" cy="583" rx="8" ry="3.5" fill="#d8d8d8" filter="url(#blur1)"/>
<path d="M402.10,592 L406.10,598 L402.10,604 L398.30,598 Z" fill="#f4f4f4" filter="url(#blur1)"/>
<ellipse cx="402.10" cy="598" rx="2.4" ry="3.8" fill="#ffffff" filter="url(#blur05)"/>
<line x1="402.90" y1="601" x2="402.90" y2="632" stroke="#e2e2e2" stroke-width="0.8"/>
<ellipse cx="388.40" cy="607.3" rx="2.6" ry="3.8" fill="#ececec" stroke="#444" stroke-width="0.45" transform="rotate(40 388.40 607.3)"/>
<ellipse cx="417.40" cy="607.3" rx="2.6" ry="3.8" fill="#ececec" stroke="#444" stroke-width="0.45" transform="rotate(-40 417.40 607.3)"/>
<circle cx="387.88" cy="585.61" r="0.41" fill="#8e1515"/>
<circle cx="388.12" cy="585.98" r="0.47" fill="#8e1515"/>
<circle cx="385.80" cy="583.68" r="0.89" fill="#8e1515"/>
<circle cx="387.34" cy="591.79" r="0.58" fill="#8e1515"/>
<circle cx="383.84" cy="582.61" r="0.78" fill="#8e1515"/>
<circle cx="421.69" cy="583.83" r="0.43" fill="#8e1515"/>
<circle cx="420.93" cy="583.19" r="0.57" fill="#8e1515"/>
<circle cx="420.21" cy="590.98" r="0.72" fill="#8e1515"/>
<circle cx="421.99" cy="584.09" r="0.93" fill="#8e1515"/>
<circle cx="416.05" cy="584.11" r="0.74" fill="#8e1515"/>
<circle cx="418.70" cy="591.81" r="0.57" fill="#8e1515"/>
<circle cx="381.84" cy="615.30" r="0.76" fill="#8e1515"/>
<circle cx="383.64" cy="625.09" r="0.77" fill="#8e1515"/>
<circle cx="381.14" cy="621.67" r="0.69" fill="#8e1515"/>
<circle cx="385.54" cy="622.14" r="0.68" fill="#8e1515"/>
<circle cx="378.24" cy="620.65" r="0.76" fill="#8e1515"/>
<circle cx="382.79" cy="619.68" r="0.61" fill="#8e1515"/>
<circle cx="421.67" cy="619.73" r="0.73" fill="#8e1515"/>
<circle cx="420.68" cy="620.11" r="0.77" fill="#8e1515"/>
<circle cx="422.82" cy="620.81" r="0.95" fill="#8e1515"/>
<circle cx="421.85" cy="623.62" r="0.62" fill="#8e1515"/>
<circle cx="429.14" cy="618.51" r="0.68" fill="#8e1515"/>
<circle cx="422.95" cy="621.68" r="0.89" fill="#8e1515"/>
<circle cx="425.76" cy="624.46" r="0.59" fill="#8e1515"/>
<circle cx="422.52" cy="623.57" r="0.51" fill="#8e1515"/>
<circle cx="427.67" cy="621.89" r="0.84" fill="#8e1515"/>
<circle cx="400.54" cy="617.92" r="0.78" fill="#8e1515"/>
<circle cx="409.00" cy="621.38" r="0.86" fill="#8e1515"/>
<circle cx="409.03" cy="617.79" r="0.87" fill="#8e1515"/>
<circle cx="395.27" cy="620.05" r="0.72" fill="#8e1515"/>
<circle cx="412.64" cy="619.64" r="0.66" fill="#8e1515"/>
<circle cx="401.64" cy="614.19" r="0.59" fill="#8e1515"/>
<circle cx="405.12" cy="613.20" r="0.73" fill="#8e1515"/>
<circle cx="403.58" cy="619.83" r="0.68" fill="#8e1515"/>
<circle cx="409.65" cy="597.89" r="0.49" fill="#8e1515"/>
<circle cx="410.11" cy="596.87" r="0.55" fill="#8e1515"/>
<circle cx="414.67" cy="601.52" r="0.59" fill="#8e1515"/>
<circle cx="411.91" cy="601.39" r="0.54" fill="#8e1515"/>
<circle cx="411.71" cy="598.65" r="0.55" fill="#8e1515"/>
<circle cx="412.83" cy="602.03" r="0.51" fill="#8e1515"/>
<circle cx="393.10" cy="604.01" r="0.91" fill="#8e1515"/>
<circle cx="395.11" cy="599.47" r="0.61" fill="#8e1515"/>
<circle cx="395.11" cy="599.55" r="0.51" fill="#8e1515"/>
<circle cx="392.86" cy="600.19" r="0.81" fill="#8e1515"/>
<circle cx="394.43" cy="596.56" r="0.54" fill="#8e1515"/>
<circle cx="395.09" cy="602.36" r="0.44" fill="#8e1515"/>
<ellipse cx="388.40" cy="606.5" rx="1.9" ry="3.0" fill="#e07818" transform="rotate(40 388.40 606.5)"/>
<ellipse cx="388.40" cy="606.5" rx="1.0" ry="1.6" fill="#fff0c8" transform="rotate(40 388.40 606.5)"/>
<ellipse cx="417.40" cy="606.5" rx="1.9" ry="3.0" fill="#e07818" transform="rotate(-40 417.40 606.5)"/>
<ellipse cx="417.40" cy="606.5" rx="1.0" ry="1.6" fill="#fff0c8" transform="rotate(-40 417.40 606.5)"/>
<path d="M531.20,607.50 C527.20,607.50 522.53,607.25 519.20,607.50 C515.87,607.75 513.12,607.75 511.20,609.00 C509.28,610.25 508.20,612.67 507.70,615.00 C507.20,617.33 507.45,620.58 508.20,623.00 C508.95,625.42 510.20,627.95 512.20,629.50 C514.20,631.05 517.53,632.05 520.20,632.30 C522.87,632.55 526.37,631.63 528.20,631.00 C530.03,630.37 530.20,628.50 531.20,628.50 C532.20,628.50 532.37,630.37 534.20,631.00 C536.03,631.63 539.53,632.55 542.20,632.30 C544.87,632.05 548.20,631.05 550.20,629.50 C552.20,627.95 553.45,625.42 554.20,623.00 C554.95,620.58 555.20,617.33 554.70,615.00 C554.20,612.67 553.12,610.25 551.20,609.00 C549.28,607.75 546.53,607.75 543.20,607.50 C539.87,607.25 535.20,607.50 531.20,607.50 Z" fill="#c8c8c8" filter="url(#blur05)"/>
<ellipse cx="520.20" cy="624" rx="9.5" ry="7" fill="#b6b6b6" filter="url(#blur2)"/>
<ellipse cx="512.20" cy="615" rx="4" ry="6" fill="#d2d2d2" filter="url(#blur2)"/>
<ellipse cx="542.20" cy="624" rx="9.5" ry="7" fill="#b6b6b6" filter="url(#blur2)"/>
<ellipse cx="550.20" cy="615" rx="4" ry="6" fill="#d2d2d2" filter="url(#blur2)"/>
<clipPath id="iclip0"><path d="M531.20,575.50 C528.53,575.50 525.45,575.55 523.20,575.80 C520.95,576.05 519.20,576.38 517.70,577.00 C516.20,577.62 515.45,578.97 514.20,579.50 C512.95,580.03 511.87,579.87 510.20,580.20 C508.53,580.53 505.95,580.78 504.20,581.50 C502.45,582.22 501.03,583.17 499.70,584.50 C498.37,585.83 497.03,587.50 496.20,589.50 C495.37,591.50 494.70,594.25 494.70,596.50 C494.70,598.75 495.12,601.00 496.20,603.00 C497.28,605.00 499.03,607.42 501.20,608.50 C503.37,609.58 506.87,609.62 509.20,609.50 C511.53,609.38 512.87,608.25 515.20,607.80 C517.53,607.35 520.53,607.02 523.20,606.80 C525.87,606.58 528.53,606.50 531.20,606.50 C533.87,606.50 536.53,606.58 539.20,606.80 C541.87,607.02 544.87,607.35 547.20,607.80 C549.53,608.25 550.87,609.38 553.20,609.50 C555.53,609.62 559.03,609.58 561.20,608.50 C563.37,607.42 565.12,605.00 566.20,603.00 C567.28,601.00 567.70,598.75 567.70,596.50 C567.70,594.25 567.03,591.50 566.20,589.50 C565.37,587.50 564.03,585.83 562.70,584.50 C561.37,583.17 559.95,582.22 558.20,581.50 C556.45,580.78 553.87,580.53 552.20,580.20 C550.53,579.87 549.45,580.03 548.20,579.50 C546.95,578.97 546.20,577.62 544.70,577.00 C543.20,576.38 541.45,576.05 539.20,575.80 C536.95,575.55 533.87,575.50 531.20,575.50 Z"/></clipPath>
<path d="M531.20,575.50 C528.53,575.50 525.45,575.55 523.20,575.80 C520.95,576.05 519.20,576.38 517.70,577.00 C516.20,577.62 515.45,578.97 514.20,579.50 C512.95,580.03 511.87,579.87 510.20,580.20 C508.53,580.53 505.95,580.78 504.20,581.50 C502.45,582.22 501.03,583.17 499.70,584.50 C498.37,585.83 497.03,587.50 496.20,589.50 C495.37,591.50 494.70,594.25 494.70,596.50 C494.70,598.75 495.12,601.00 496.20,603.00 C497.28,605.00 499.03,607.42 501.20,608.50 C503.37,609.58 506.87,609.62 509.20,609.50 C511.53,609.38 512.87,608.25 515.20,607.80 C517.53,607.35 520.53,607.02 523.20,606.80 C525.87,606.58 528.53,606.50 531.20,606.50 C533.87,606.50 536.53,606.58 539.20,606.80 C541.87,607.02 544.87,607.35 547.20,607.80 C549.53,608.25 550.87,609.38 553.20,609.50 C555.53,609.62 559.03,609.58 561.20,608.50 C563.37,607.42 565.12,605.00 566.20,603.00 C567.28,601.00 567.70,598.75 567.70,596.50 C567.70,594.25 567.03,591.50 566.20,589.50 C565.37,587.50 564.03,585.83 562.70,584.50 C561.37,583.17 559.95,582.22 558.20,581.50 C556.45,580.78 553.87,580.53 552.20,580.20 C550.53,579.87 549.45,580.03 548.20,579.50 C546.95,578.97 546.20,577.62 544.70,577.00 C543.20,576.38 541.45,576.05 539.20,575.80 C536.95,575.55 533.87,575.50 531.20,575.50 Z" fill="#d6d6d6" filter="url(#blur05)"/>
<g clip-path="url(#iclip0)">
<ellipse cx="531.20" cy="587.5" rx="14" ry="9" fill="#cacaca" filter="url(#blur1)"/>
<ellipse cx="531.20" cy="588" rx="9.5" ry="5.5" fill="#d2d2d2" filter="url(#blur1)"/>
<ellipse cx="504.20" cy="590" rx="8" ry="11" fill="#dedede" filter="url(#blur2)"/>
<ellipse cx="515.20" cy="600.5" rx="3.5" ry="7" transform="rotate(50 515.20 600.5)" fill="#c8c8c8" filter="url(#blur1)"/>
<ellipse cx="558.20" cy="590" rx="8" ry="11" fill="#dedede" filter="url(#blur2)"/>
<ellipse cx="547.20" cy="600.5" rx="3.5" ry="7" transform="rotate(-50 547.20 600.5)" fill="#c8c8c8" filter="url(#blur1)"/>
<rect x="501.20" y="604" width="60" height="3" fill="#d0d0d0" filter="url(#blur1)"/>
</g>
<path d="M530.20,612.5 L527.50,610.5 L524.50,611.5 L522.40,614 L525.50,615.6 L529.50,615 Z" fill="#e8e8e8" stroke="#555" stroke-width="0.4"/>
<path d="M532.20,612.5 L534.90,610.5 L537.90,611.5 L540.00,614 L536.90,615.6 L532.90,615 Z" fill="#e8e8e8" stroke="#555" stroke-width="0.4"/>
<circle cx="498.20" cy="593.26" r="0.68" fill="#8e1515"/>
<circle cx="497.48" cy="589.68" r="0.55" fill="#8e1515"/>
<circle cx="497.82" cy="600.11" r="0.57" fill="#8e1515"/>
<circle cx="497.64" cy="586.23" r="0.56" fill="#8e1515"/>
<circle cx="496.85" cy="591.71" r="0.69" fill="#8e1515"/>
<circle cx="498.16" cy="592.93" r="0.51" fill="#8e1515"/>
<circle cx="498.48" cy="590.95" r="0.59" fill="#8e1515"/>
<circle cx="497.31" cy="597.68" r="0.93" fill="#8e1515"/>
<circle cx="497.86" cy="597.21" r="0.76" fill="#8e1515"/>
<circle cx="496.57" cy="590.70" r="0.88" fill="#8e1515"/>
<circle cx="497.31" cy="596.34" r="0.88" fill="#8e1515"/>
<circle cx="498.00" cy="592.86" r="0.83" fill="#8e1515"/>
<circle cx="498.38" cy="588.04" r="0.60" fill="#8e1515"/>
<circle cx="498.01" cy="586.25" r="0.59" fill="#8e1515"/>
<circle cx="497.29" cy="589.63" r="0.52" fill="#8e1515"/>
<circle cx="497.30" cy="597.43" r="0.68" fill="#8e1515"/>
<circle cx="499.13" cy="602.59" r="0.93" fill="#8e1515"/>
<circle cx="502.17" cy="603.71" r="0.83" fill="#8e1515"/>
<circle cx="499.99" cy="604.56" r="0.74" fill="#8e1515"/>
<circle cx="498.74" cy="603.57" r="0.45" fill="#8e1515"/>
<circle cx="500.86" cy="605.77" r="0.73" fill="#8e1515"/>
<circle cx="500.07" cy="603.64" r="0.62" fill="#8e1515"/>
<circle cx="556.45" cy="602.21" r="0.95" fill="#8e1515"/>
<circle cx="555.58" cy="604.09" r="0.84" fill="#8e1515"/>
<circle cx="553.61" cy="603.58" r="0.71" fill="#8e1515"/>
<circle cx="555.49" cy="603.27" r="0.94" fill="#8e1515"/>
<circle cx="555.66" cy="603.43" r="0.58" fill="#8e1515"/>
<circle cx="522.69" cy="623.19" r="0.79" fill="#8e1515"/>
<circle cx="521.08" cy="624.51" r="0.71" fill="#8e1515"/>
<circle cx="521.97" cy="625.27" r="0.85" fill="#8e1515"/>
<circle cx="523.72" cy="624.58" r="0.66" fill="#8e1515"/>
<circle cx="522.90" cy="623.35" r="0.99" fill="#8e1515"/>
<circle cx="523.31" cy="623.93" r="0.91" fill="#8e1515"/>
<circle cx="549.10" cy="627.86" r="0.41" fill="#8e1515"/>
<circle cx="546.03" cy="628.87" r="0.50" fill="#8e1515"/>
<circle cx="548.10" cy="628.20" r="0.88" fill="#8e1515"/>
<circle cx="549.90" cy="628.66" r="0.51" fill="#8e1515"/>
<circle cx="548.41" cy="630.45" r="0.56" fill="#8e1515"/>
<circle cx="548.13" cy="629.58" r="0.78" fill="#8e1515"/>
<circle cx="543.64" cy="627.59" r="0.62" fill="#8e1515"/>
<circle cx="517.20" cy="578.00" r="0.7" fill="#8e1515"/>
<circle cx="535.20" cy="579.50" r="0.7" fill="#8e1515"/>
<circle cx="519.20" cy="607.00" r="0.7" fill="#8e1515"/>
<circle cx="559.20" cy="607.00" r="0.7" fill="#8e1515"/>
<path d="M631.70,607.50 C627.70,607.50 623.03,607.25 619.70,607.50 C616.37,607.75 613.62,607.75 611.70,609.00 C609.78,610.25 608.70,612.67 608.20,615.00 C607.70,617.33 607.95,620.58 608.70,623.00 C609.45,625.42 610.70,627.95 612.70,629.50 C614.70,631.05 618.03,632.05 620.70,632.30 C623.37,632.55 626.87,631.63 628.70,631.00 C630.53,630.37 630.70,628.50 631.70,628.50 C632.70,628.50 632.87,630.37 634.70,631.00 C636.53,631.63 640.03,632.55 642.70,632.30 C645.37,632.05 648.70,631.05 650.70,629.50 C652.70,627.95 653.95,625.42 654.70,623.00 C655.45,620.58 655.70,617.33 655.20,615.00 C654.70,612.67 653.62,610.25 651.70,609.00 C649.78,607.75 647.03,607.75 643.70,607.50 C640.37,607.25 635.70,607.50 631.70,607.50 Z" fill="#c8c8c8" filter="url(#blur05)"/>
<ellipse cx="620.70" cy="624" rx="9.5" ry="7" fill="#b6b6b6" filter="url(#blur2)"/>
<ellipse cx="612.70" cy="615" rx="4" ry="6" fill="#d2d2d2" filter="url(#blur2)"/>
<ellipse cx="642.70" cy="624" rx="9.5" ry="7" fill="#b6b6b6" filter="url(#blur2)"/>
<ellipse cx="650.70" cy="615" rx="4" ry="6" fill="#d2d2d2" filter="url(#blur2)"/>
<clipPath id="iclip100"><path d="M631.70,575.50 C629.03,575.50 625.95,575.55 623.70,575.80 C621.45,576.05 619.70,576.38 618.20,577.00 C616.70,577.62 615.95,578.97 614.70,579.50 C613.45,580.03 612.37,579.87 610.70,580.20 C609.03,580.53 606.45,580.78 604.70,581.50 C602.95,582.22 601.53,583.17 600.20,584.50 C598.87,585.83 597.53,587.50 596.70,589.50 C595.87,591.50 595.20,594.25 595.20,596.50 C595.20,598.75 595.62,601.00 596.70,603.00 C597.78,605.00 599.53,607.42 601.70,608.50 C603.87,609.58 607.37,609.62 609.70,609.50 C612.03,609.38 613.37,608.25 615.70,607.80 C618.03,607.35 621.03,607.02 623.70,606.80 C626.37,606.58 629.03,606.50 631.70,606.50 C634.37,606.50 637.03,606.58 639.70,606.80 C642.37,607.02 645.37,607.35 647.70,607.80 C650.03,608.25 651.37,609.38 653.70,609.50 C656.03,609.62 659.53,609.58 661.70,608.50 C663.87,607.42 665.62,605.00 666.70,603.00 C667.78,601.00 668.20,598.75 668.20,596.50 C668.20,594.25 667.53,591.50 666.70,589.50 C665.87,587.50 664.53,585.83 663.20,584.50 C661.87,583.17 660.45,582.22 658.70,581.50 C656.95,580.78 654.37,580.53 652.70,580.20 C651.03,579.87 649.95,580.03 648.70,579.50 C647.45,578.97 646.70,577.62 645.20,577.00 C643.70,576.38 641.95,576.05 639.70,575.80 C637.45,575.55 634.37,575.50 631.70,575.50 Z"/></clipPath>
<path d="M631.70,575.50 C629.03,575.50 625.95,575.55 623.70,575.80 C621.45,576.05 619.70,576.38 618.20,577.00 C616.70,577.62 615.95,578.97 614.70,579.50 C613.45,580.03 612.37,579.87 610.70,580.20 C609.03,580.53 606.45,580.78 604.70,581.50 C602.95,582.22 601.53,583.17 600.20,584.50 C598.87,585.83 597.53,587.50 596.70,589.50 C595.87,591.50 595.20,594.25 595.20,596.50 C595.20,598.75 595.62,601.00 596.70,603.00 C597.78,605.00 599.53,607.42 601.70,608.50 C603.87,609.58 607.37,609.62 609.70,609.50 C612.03,609.38 613.37,608.25 615.70,607.80 C618.03,607.35 621.03,607.02 623.70,606.80 C626.37,606.58 629.03,606.50 631.70,606.50 C634.37,606.50 637.03,606.58 639.70,606.80 C642.37,607.02 645.37,607.35 647.70,607.80 C650.03,608.25 651.37,609.38 653.70,609.50 C656.03,609.62 659.53,609.58 661.70,608.50 C663.87,607.42 665.62,605.00 666.70,603.00 C667.78,601.00 668.20,598.75 668.20,596.50 C668.20,594.25 667.53,591.50 666.70,589.50 C665.87,587.50 664.53,585.83 663.20,584.50 C661.87,583.17 660.45,582.22 658.70,581.50 C656.95,580.78 654.37,580.53 652.70,580.20 C651.03,579.87 649.95,580.03 648.70,579.50 C647.45,578.97 646.70,577.62 645.20,577.00 C643.70,576.38 641.95,576.05 639.70,575.80 C637.45,575.55 634.37,575.50 631.70,575.50 Z" fill="#d6d6d6" filter="url(#blur05)"/>
<g clip-path="url(#iclip100)">
<ellipse cx="631.70" cy="587.5" rx="14" ry="9" fill="#cacaca" filter="url(#blur1)"/>
<ellipse cx="631.70" cy="588" rx="9.5" ry="5.5" fill="#d2d2d2" filter="url(#blur1)"/>
<ellipse cx="604.70" cy="590" rx="8" ry="11" fill="#dedede" filter="url(#blur2)"/>
<ellipse cx="615.70" cy="600.5" rx="3.5" ry="7" transform="rotate(50 615.70 600.5)" fill="#c8c8c8" filter="url(#blur1)"/>
<ellipse cx="658.70" cy="590" rx="8" ry="11" fill="#dedede" filter="url(#blur2)"/>
<ellipse cx="647.70" cy="600.5" rx="3.5" ry="7" transform="rotate(-50 647.70 600.5)" fill="#c8c8c8" filter="url(#blur1)"/>
<rect x="601.70" y="604" width="60" height="3" fill="#d0d0d0" filter="url(#blur1)"/>
</g>
<path d="M630.70,612.5 L628.00,610.5 L625.00,611.5 L622.90,614 L626.00,615.6 L630.00,615 Z" fill="#e8e8e8" stroke="#555" stroke-width="0.4"/>
<path d="M632.70,612.5 L635.40,610.5 L638.40,611.5 L640.50,614 L637.40,615.6 L633.40,615 Z" fill="#e8e8e8" stroke="#555" stroke-width="0.4"/>
<circle cx="621.30" cy="576.69" r="0.62" fill="#8e1515"/>
<circle cx="621.69" cy="576.07" r="0.79" fill="#8e1515"/>
<circle cx="621.71" cy="576.94" r="0.84" fill="#8e1515"/>
<circle cx="618.80" cy="576.34" r="0.85" fill="#8e1515"/>
<circle cx="620.69" cy="576.51" r="0.80" fill="#8e1515"/>
<circle cx="620.75" cy="576.53" r="0.79" fill="#8e1515"/>
<circle cx="621.67" cy="575.62" r="0.88" fill="#8e1515"/>
<circle cx="620.80" cy="576.70" r="0.55" fill="#8e1515"/>
<circle cx="667.02" cy="594.91" r="0.49" fill="#8e1515"/>
<circle cx="666.88" cy="595.05" r="0.42" fill="#8e1515"/>
<circle cx="666.45" cy="595.67" r="0.57" fill="#8e1515"/>
<circle cx="667.09" cy="594.63" r="0.85" fill="#8e1515"/>
<circle cx="666.63" cy="592.98" r="0.72" fill="#8e1515"/>
<circle cx="666.83" cy="592.95" r="0.53" fill="#8e1515"/>
<circle cx="597.43" cy="589.98" r="0.62" fill="#8e1515"/>
<circle cx="598.52" cy="588.87" r="0.44" fill="#8e1515"/>
<circle cx="596.42" cy="589.38" r="0.65" fill="#8e1515"/>
<circle cx="597.62" cy="588.47" r="0.43" fill="#8e1515"/>
<circle cx="597.61" cy="588.69" r="0.57" fill="#8e1515"/>
<circle cx="652.75" cy="628.63" r="0.42" fill="#8e1515"/>
<circle cx="657.56" cy="628.12" r="0.78" fill="#8e1515"/>
<circle cx="656.02" cy="627.46" r="0.92" fill="#8e1515"/>
<circle cx="655.56" cy="626.37" r="0.69" fill="#8e1515"/>
<circle cx="652.29" cy="627.94" r="0.61" fill="#8e1515"/>
<circle cx="653.48" cy="627.06" r="0.87" fill="#8e1515"/>
<circle cx="618.19" cy="626.87" r="0.85" fill="#8e1515"/>
<circle cx="620.94" cy="626.40" r="0.54" fill="#8e1515"/>
<circle cx="622.10" cy="627.00" r="0.92" fill="#8e1515"/>
<circle cx="617.62" cy="625.38" r="0.83" fill="#8e1515"/>
<circle cx="619.74" cy="629.68" r="0.91" fill="#8e1515"/>
<ellipse cx="626.70" cy="612.8" rx="3.3" ry="1.9" fill="#8e1e10"/>
<ellipse cx="626.70" cy="612.8" rx="1.8" ry="1.0" fill="#f2b070"/>
<ellipse cx="636.70" cy="612.8" rx="3.3" ry="1.9" fill="#8e1e10"/>
<ellipse cx="636.70" cy="612.8" rx="1.8" ry="1.0" fill="#f2b070"/>
<line x1="116.40" y1="607.60" x2="120.55" y2="610.80" stroke="#22de88" stroke-width="2.6"/>
<path d="M124.20,613.60 L118.66,613.25 L122.44,608.34 Z" fill="#22de88"/>
<line x1="194.60" y1="607.00" x2="190.49" y2="610.06" stroke="#22de88" stroke-width="2.6"/>
<path d="M186.80,612.80 L188.64,607.57 L192.34,612.54 Z" fill="#22de88"/>
<line x1="375.60" y1="599.00" x2="380.01" y2="602.53" stroke="#22de88" stroke-width="2.6"/>
<path d="M383.60,605.40 L378.07,604.95 L381.94,600.11 Z" fill="#22de88"/>
<line x1="428.70" y1="599.00" x2="424.62" y2="602.44" stroke="#22de88" stroke-width="2.6"/>
<path d="M421.10,605.40 L422.62,600.07 L426.62,604.81 Z" fill="#22de88"/>
<line x1="616.20" y1="604.20" x2="620.69" y2="607.75" stroke="#22de88" stroke-width="2.6"/>
<path d="M624.30,610.60 L618.77,610.18 L622.61,605.32 Z" fill="#22de88"/>
<line x1="648.20" y1="604.20" x2="644.20" y2="607.61" stroke="#22de88" stroke-width="2.6"/>
<path d="M640.70,610.60 L642.19,605.26 L646.21,609.97 Z" fill="#22de88"/>
<line x1="48.6" y1="652.60" x2="48.6" y2="730.40" stroke="#7b7fb5" stroke-width="0.9"/>
<line x1="45.6" y1="730.40" x2="194.2" y2="730.40" stroke="#7b7fb5" stroke-width="0.9"/>
<line x1="45.4" y1="730.40" x2="48.6" y2="730.40" stroke="#9c9ec9" stroke-width="0.8"/>
<text x="42.30" y="732.70" font-size="6.6" text-anchor="end" textLength="4.67" lengthAdjust="spacingAndGlyphs">0</text>
<line x1="45.4" y1="722.62" x2="48.6" y2="722.62" stroke="#9c9ec9" stroke-width="0.8"/>
<text x="42.30" y="724.92" font-size="6.6" text-anchor="end" textLength="14.01" lengthAdjust="spacingAndGlyphs">100</text>
<line x1="45.4" y1="714.84" x2="48.6" y2="714.84" stroke="#9c9ec9" stroke-width="0.8"/>
<text x="42.30" y="717.14" font-size="6.6" text-anchor="end" textLength="14.01" lengthAdjust="spacingAndGlyphs">200</text>
<line x1="45.4" y1="707.06" x2="48.6" y2="707.06" stroke="#9c9ec9" stroke-width="0.8"/>
<text x="42.30" y="709.36" font-size="6.6" text-anchor="end" textLength="14.01" lengthAdjust="spacingAndGlyphs">300</text>
<line x1="45.4" y1="699.28" x2="48.6" y2="699.28" stroke="#9c9ec9" stroke-width="0.8"/>
<text x="42.30" y="701.58" font-size="6.6" text-anchor="end" textLength="14.01" lengthAdjust="spacingAndGlyphs">400</text>
<line x1="45.4" y1="691.50" x2="48.6" y2="691.50" stroke="#9c9ec9" stroke-width="0.8"/>
<text x="42.30" y="693.80" font-size="6.6" text-anchor="end" textLength="14.01" lengthAdjust="spacingAndGlyphs">500</text>
<line x1="45.4" y1="683.72" x2="48.6" y2="683.72" stroke="#9c9ec9" stroke-width="0.8"/>
<text x="42.30" y="686.02" font-size="6.6" text-anchor="end" textLength="14.01" lengthAdjust="spacingAndGlyphs">600</text>
<line x1="45.4" y1="675.94" x2="48.6" y2="675.94" stroke="#9c9ec9" stroke-width="0.8"/>
<text x="42.30" y="678.24" font-size="6.6" text-anchor="end" textLength="14.01" lengthAdjust="spacingAndGlyphs">700</text>
<line x1="45.4" y1="668.16" x2="48.6" y2="668.16" stroke="#9c9ec9" stroke-width="0.8"/>
<text x="42.30" y="670.46" font-size="6.6" text-anchor="end" textLength="14.01" lengthAdjust="spacingAndGlyphs">800</text>
<line x1="45.4" y1="660.38" x2="48.6" y2="660.38" stroke="#9c9ec9" stroke-width="0.8"/>
<text x="42.30" y="662.68" font-size="6.6" text-anchor="end" textLength="14.01" lengthAdjust="spacingAndGlyphs">900</text>
<line x1="45.4" y1="652.60" x2="48.6" y2="652.60" stroke="#9c9ec9" stroke-width="0.8"/>
<text x="42.30" y="654.90" font-size="6.6" text-anchor="end" textLength="19.68" lengthAdjust="spacingAndGlyphs">1,000</text>
<rect x="64.3" y="713.75" width="47.70" height="16.65" fill="#505050"/>
<line x1="88.15" y1="713.75" x2="88.15" y2="710.33" stroke="#b4b4b4" stroke-width="1"/>
<line x1="71.93" y1="710.33" x2="104.37" y2="710.33" stroke="#b4b4b4" stroke-width="1.1"/>
<circle cx="92.00" cy="693.40" r="2.2" fill="#fff" stroke="#111" stroke-width="1.2"/>
<circle cx="91.10" cy="703.40" r="2.2" fill="#fff" stroke="#111" stroke-width="1.2"/>
<circle cx="99.90" cy="716.50" r="2.2" fill="#fff" stroke="#111" stroke-width="1.2"/>
<circle cx="78.80" cy="721.80" r="2.2" fill="#fff" stroke="#111" stroke-width="1.2"/>
<circle cx="75.90" cy="723.50" r="2.2" fill="#fff" stroke="#111" stroke-width="1.2"/>
<circle cx="89.60" cy="725.50" r="2.2" fill="#fff" stroke="#111" stroke-width="1.2"/>
<circle cx="98.70" cy="726.40" r="2.2" fill="#fff" stroke="#111" stroke-width="1.2"/>
<text x="73.60" y="741.40" font-size="8.6" textLength="29.20" lengthAdjust="spacingAndGlyphs">Vehicle</text>
<rect x="130.7" y="671.66" width="47.30" height="58.74" fill="#735ca6"/>
<line x1="154.35" y1="671.66" x2="154.35" y2="664.58" stroke="#b7a8e0" stroke-width="1"/>
<line x1="138.27" y1="664.58" x2="170.43" y2="664.58" stroke="#b7a8e0" stroke-width="1.1"/>
<circle cx="165.50" cy="647.20" r="2.2" fill="#fff" stroke="#111" stroke-width="1.2"/>
<circle cx="152.30" cy="665.90" r="2.2" fill="#fff" stroke="#111" stroke-width="1.2"/>
<circle cx="153.70" cy="681.20" r="2.2" fill="#fff" stroke="#111" stroke-width="1.2"/>
<circle cx="156.90" cy="680.60" r="2.2" fill="#fff" stroke="#111" stroke-width="1.2"/>
<circle cx="152.30" cy="693.40" r="2.2" fill="#fff" stroke="#111" stroke-width="1.2"/>
<text x="127.60" y="741.40" font-size="8.6" textLength="53.40" lengthAdjust="spacingAndGlyphs">mGIPR-Ab/P3</text>
<g transform="translate(0,691.40) rotate(-90)">
<text x="0.00" y="8.50" font-size="8.4" text-anchor="middle" textLength="21.40" lengthAdjust="spacingAndGlyphs">c-Fos</text>
<text x="0.00" y="18.90" font-size="8.4" text-anchor="middle" textLength="51.80" lengthAdjust="spacingAndGlyphs">positive cells</text>
</g>
<line x1="280.5" y1="651.90" x2="280.5" y2="730.40" stroke="#7b7fb5" stroke-width="0.9"/>
<line x1="277.5" y1="730.40" x2="426.5" y2="730.40" stroke="#7b7fb5" stroke-width="0.9"/>
<line x1="277.3" y1="730.40" x2="280.5" y2="730.40" stroke="#9c9ec9" stroke-width="0.8"/>
<text x="274.20" y="732.70" font-size="6.6" text-anchor="end" textLength="4.67" lengthAdjust="spacingAndGlyphs">0</text>
<line x1="277.3" y1="722.55" x2="280.5" y2="722.55" stroke="#9c9ec9" stroke-width="0.8"/>
<text x="274.20" y="724.85" font-size="6.6" text-anchor="end" textLength="9.34" lengthAdjust="spacingAndGlyphs">50</text>
<line x1="277.3" y1="714.70" x2="280.5" y2="714.70" stroke="#9c9ec9" stroke-width="0.8"/>
<text x="274.20" y="717.00" font-size="6.6" text-anchor="end" textLength="14.01" lengthAdjust="spacingAndGlyphs">100</text>
<line x1="277.3" y1="706.85" x2="280.5" y2="706.85" stroke="#9c9ec9" stroke-width="0.8"/>
<text x="274.20" y="709.15" font-size="6.6" text-anchor="end" textLength="14.01" lengthAdjust="spacingAndGlyphs">150</text>
<line x1="277.3" y1="699.00" x2="280.5" y2="699.00" stroke="#9c9ec9" stroke-width="0.8"/>
<text x="274.20" y="701.30" font-size="6.6" text-anchor="end" textLength="14.01" lengthAdjust="spacingAndGlyphs">200</text>
<line x1="277.3" y1="691.15" x2="280.5" y2="691.15" stroke="#9c9ec9" stroke-width="0.8"/>
<text x="274.20" y="693.45" font-size="6.6" text-anchor="end" textLength="14.01" lengthAdjust="spacingAndGlyphs">250</text>
<line x1="277.3" y1="683.30" x2="280.5" y2="683.30" stroke="#9c9ec9" stroke-width="0.8"/>
<text x="274.20" y="685.60" font-size="6.6" text-anchor="end" textLength="14.01" lengthAdjust="spacingAndGlyphs">300</text>
<line x1="277.3" y1="675.45" x2="280.5" y2="675.45" stroke="#9c9ec9" stroke-width="0.8"/>
<text x="274.20" y="677.75" font-size="6.6" text-anchor="end" textLength="14.01" lengthAdjust="spacingAndGlyphs">350</text>
<line x1="277.3" y1="667.60" x2="280.5" y2="667.60" stroke="#9c9ec9" stroke-width="0.8"/>
<text x="274.20" y="669.90" font-size="6.6" text-anchor="end" textLength="14.01" lengthAdjust="spacingAndGlyphs">400</text>
<line x1="277.3" y1="659.75" x2="280.5" y2="659.75" stroke="#9c9ec9" stroke-width="0.8"/>
<text x="274.20" y="662.05" font-size="6.6" text-anchor="end" textLength="14.01" lengthAdjust="spacingAndGlyphs">450</text>
<line x1="277.3" y1="651.90" x2="280.5" y2="651.90" stroke="#9c9ec9" stroke-width="0.8"/>
<text x="274.20" y="654.20" font-size="6.6" text-anchor="end" textLength="14.01" lengthAdjust="spacingAndGlyphs">500</text>
<rect x="296.3" y="716.21" width="47.90" height="14.19" fill="#505050"/>
<line x1="320.25" y1="716.21" x2="320.25" y2="712.60" stroke="#b4b4b4" stroke-width="1"/>
<line x1="303.96" y1="712.60" x2="336.54" y2="712.60" stroke="#b4b4b4" stroke-width="1.1"/>
<circle cx="299.20" cy="689.90" r="2.2" fill="#fff" stroke="#111" stroke-width="1.2"/>
<circle cx="303.50" cy="708.50" r="2.2" fill="#fff" stroke="#111" stroke-width="1.2"/>
<circle cx="322.80" cy="711.70" r="2.2" fill="#fff" stroke="#111" stroke-width="1.2"/>
<circle cx="321.80" cy="712.50" r="2.2" fill="#fff" stroke="#111" stroke-width="1.2"/>
<circle cx="333.20" cy="714.00" r="2.2" fill="#fff" stroke="#111" stroke-width="1.2"/>
<circle cx="319.50" cy="721.40" r="2.2" fill="#fff" stroke="#111" stroke-width="1.2"/>
<circle cx="333.20" cy="722.30" r="2.2" fill="#fff" stroke="#111" stroke-width="1.2"/>
<circle cx="334.90" cy="722.30" r="2.2" fill="#fff" stroke="#111" stroke-width="1.2"/>
<text x="306.40" y="741.40" font-size="8.6" textLength="28.50" lengthAdjust="spacingAndGlyphs">Vehicle</text>
<rect x="363.3" y="670.43" width="47.40" height="59.97" fill="#735ca6"/>
<line x1="387.00" y1="670.43" x2="387.00" y2="666.42" stroke="#b7a8e0" stroke-width="1"/>
<line x1="370.88" y1="666.42" x2="403.12" y2="666.42" stroke="#b7a8e0" stroke-width="1.1"/>
<circle cx="372.10" cy="654.80" r="2.2" fill="#fff" stroke="#111" stroke-width="1.2"/>
<circle cx="391.60" cy="664.20" r="2.2" fill="#fff" stroke="#111" stroke-width="1.2"/>
<circle cx="378.80" cy="671.90" r="2.2" fill="#fff" stroke="#111" stroke-width="1.2"/>
<circle cx="372.10" cy="676.90" r="2.2" fill="#fff" stroke="#111" stroke-width="1.2"/>
<circle cx="374.80" cy="678.30" r="2.2" fill="#fff" stroke="#111" stroke-width="1.2"/>
<text x="359.30" y="741.40" font-size="8.6" textLength="54.70" lengthAdjust="spacingAndGlyphs">mGIPR-Ab/P3</text>
<g transform="translate(0,691.40) rotate(-90)">
<text x="0.00" y="243.40" font-size="8.4" text-anchor="middle" textLength="21.40" lengthAdjust="spacingAndGlyphs">c-Fos</text>
<text x="0.00" y="253.60" font-size="8.4" text-anchor="middle" textLength="51.80" lengthAdjust="spacingAndGlyphs">positive cells</text>
</g>
<line x1="525.0" y1="652.52" x2="525.0" y2="730.50" stroke="#7b7fb5" stroke-width="0.9"/>
<line x1="522.0" y1="730.50" x2="670.9" y2="730.50" stroke="#7b7fb5" stroke-width="0.9"/>
<line x1="521.8" y1="730.50" x2="525.0" y2="730.50" stroke="#9c9ec9" stroke-width="0.8"/>
<text x="518.90" y="732.80" font-size="6.6" text-anchor="end" textLength="4.67" lengthAdjust="spacingAndGlyphs">0</text>
<line x1="521.8" y1="719.36" x2="525.0" y2="719.36" stroke="#9c9ec9" stroke-width="0.8"/>
<text x="518.90" y="721.66" font-size="6.6" text-anchor="end" textLength="14.01" lengthAdjust="spacingAndGlyphs">100</text>
<line x1="521.8" y1="708.22" x2="525.0" y2="708.22" stroke="#9c9ec9" stroke-width="0.8"/>
<text x="518.90" y="710.52" font-size="6.6" text-anchor="end" textLength="14.01" lengthAdjust="spacingAndGlyphs">200</text>
<line x1="521.8" y1="697.08" x2="525.0" y2="697.08" stroke="#9c9ec9" stroke-width="0.8"/>
<text x="518.90" y="699.38" font-size="6.6" text-anchor="end" textLength="14.01" lengthAdjust="spacingAndGlyphs">300</text>
<line x1="521.8" y1="685.94" x2="525.0" y2="685.94" stroke="#9c9ec9" stroke-width="0.8"/>
<text x="518.90" y="688.24" font-size="6.6" text-anchor="end" textLength="14.01" lengthAdjust="spacingAndGlyphs">400</text>
<line x1="521.8" y1="674.80" x2="525.0" y2="674.80" stroke="#9c9ec9" stroke-width="0.8"/>
<text x="518.90" y="677.10" font-size="6.6" text-anchor="end" textLength="14.01" lengthAdjust="spacingAndGlyphs">500</text>
<line x1="521.8" y1="663.66" x2="525.0" y2="663.66" stroke="#9c9ec9" stroke-width="0.8"/>
<text x="518.90" y="665.96" font-size="6.6" text-anchor="end" textLength="14.01" lengthAdjust="spacingAndGlyphs">600</text>
<line x1="521.8" y1="652.52" x2="525.0" y2="652.52" stroke="#9c9ec9" stroke-width="0.8"/>
<text x="518.90" y="654.82" font-size="6.6" text-anchor="end" textLength="14.01" lengthAdjust="spacingAndGlyphs">700</text>
<rect x="541.3" y="724.48" width="47.30" height="6.02" fill="#505050"/>
<line x1="564.95" y1="724.48" x2="564.95" y2="723.15" stroke="#b4b4b4" stroke-width="1"/>
<line x1="548.87" y1="723.15" x2="581.03" y2="723.15" stroke="#b4b4b4" stroke-width="1.1"/>
<circle cx="551.40" cy="722.30" r="2.2" fill="#fff" stroke="#111" stroke-width="1.2"/>
<circle cx="555.60" cy="726.10" r="2.2" fill="#fff" stroke="#111" stroke-width="1.2"/>
<circle cx="574.00" cy="716.40" r="2.2" fill="#fff" stroke="#111" stroke-width="1.2"/>
<circle cx="574.90" cy="721.10" r="2.2" fill="#fff" stroke="#111" stroke-width="1.2"/>
<circle cx="571.50" cy="726.80" r="2.2" fill="#fff" stroke="#111" stroke-width="1.2"/>
<circle cx="586.60" cy="723.40" r="2.2" fill="#fff" stroke="#111" stroke-width="1.2"/>
<circle cx="585.00" cy="727.60" r="2.2" fill="#fff" stroke="#111" stroke-width="1.2"/>
<text x="550.00" y="741.40" font-size="8.6" textLength="29.90" lengthAdjust="spacingAndGlyphs">Vehicle</text>
<rect x="608.5" y="675.69" width="47.30" height="54.81" fill="#735ca6"/>
<line x1="632.15" y1="675.69" x2="632.15" y2="668.34" stroke="#b7a8e0" stroke-width="1"/>
<line x1="616.07" y1="668.34" x2="648.23" y2="668.34" stroke="#b7a8e0" stroke-width="1.1"/>
<circle cx="637.00" cy="649.10" r="2.2" fill="#fff" stroke="#111" stroke-width="1.2"/>
<circle cx="620.20" cy="667.50" r="2.2" fill="#fff" stroke="#111" stroke-width="1.2"/>
<circle cx="617.90" cy="677.60" r="2.2" fill="#fff" stroke="#111" stroke-width="1.2"/>
<circle cx="624.60" cy="684.00" r="2.2" fill="#fff" stroke="#111" stroke-width="1.2"/>
<circle cx="617.50" cy="696.40" r="2.2" fill="#fff" stroke="#111" stroke-width="1.2"/>
<text x="605.10" y="741.40" font-size="8.6" textLength="54.10" lengthAdjust="spacingAndGlyphs">mGIPR-Ab/P3</text>
<g transform="translate(0,691.60) rotate(-90)">
<text x="0.00" y="488.40" font-size="8.4" text-anchor="middle" textLength="21.40" lengthAdjust="spacingAndGlyphs">c-Fos</text>
<text x="0.00" y="498.60" font-size="8.4" text-anchor="middle" textLength="51.80" lengthAdjust="spacingAndGlyphs">positive cells</text>
</g></svg></body></html>
